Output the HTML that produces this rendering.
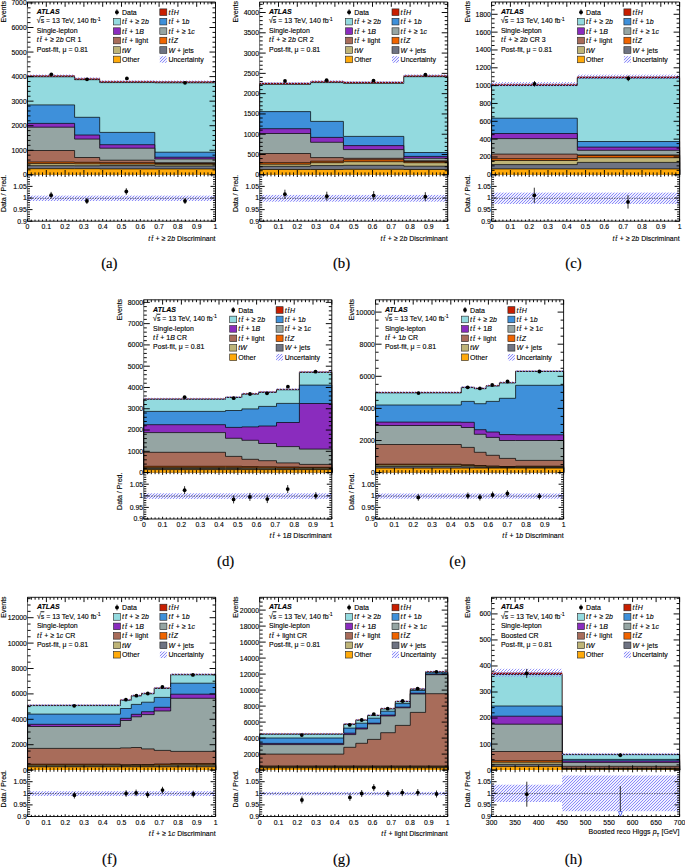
<!DOCTYPE html><html><head><meta charset="utf-8"><style>html,body{margin:0;padding:0;background:#fff;}svg{display:block;}text{font-family:"Liberation Sans",sans-serif;stroke:#000;stroke-width:0.12px;}</style></head><body>
<svg width="685" height="867" viewBox="0 0 685 867">
<defs><pattern id="hat" patternUnits="userSpaceOnUse" width="3" height="3"><rect width="3" height="3" fill="#F0F0FF"/><path d="M-0.75,0.75 L0.75,-0.75 M0,3 L3,0 M2.25,3.75 L3.75,2.25" stroke="#8C8CF8" stroke-width="1.0"/></pattern><pattern id="hat2" patternUnits="userSpaceOnUse" width="3" height="3"><path d="M-0.75,0.75 L0.75,-0.75 M0,3 L3,0 M2.25,3.75 L3.75,2.25" stroke="#8A8AF6" stroke-width="0.9"/></pattern></defs>
<rect width="685" height="867" fill="#fff"/>
<g><path d="M27.5,174.8 L27.5,75.5 L74.6,75.5 L74.6,78.4 L99.7,78.4 L99.7,81.3 L154.8,81.3 L154.8,81.5 L215.5,81.5 L215.5,174.8 Z" fill="#B01208"/><path d="M27.5,174.8 L27.5,75.5 L74.6,75.5 L74.6,78.4 L99.7,78.4 L99.7,81.3 L154.8,81.3 L154.8,81.5 L215.5,81.5 L215.5,174.8" fill="none" stroke="#500" stroke-width="0.4"/><path d="M27.5,174.8 L27.5,76.8 L74.6,76.8 L74.6,79.7 L99.7,79.7 L99.7,82.6 L154.8,82.6 L154.8,82.8 L215.5,82.8 L215.5,174.8 Z" fill="#93DADF"/><path d="M27.5,174.8 L27.5,76.8 L74.6,76.8 L74.6,79.7 L99.7,79.7 L99.7,82.6 L154.8,82.6 L154.8,82.8 L215.5,82.8 L215.5,174.8" fill="none" stroke="#000" stroke-width="0.7"/><path d="M27.5,174.8 L27.5,104.9 L74.6,104.9 L74.6,117.3 L99.7,117.3 L99.7,132.4 L154.8,132.4 L154.8,152.2 L215.5,152.2 L215.5,174.8 Z" fill="#3E90DA"/><path d="M27.5,174.8 L27.5,104.9 L74.6,104.9 L74.6,117.3 L99.7,117.3 L99.7,132.4 L154.8,132.4 L154.8,152.2 L215.5,152.2 L215.5,174.8" fill="none" stroke="#000" stroke-width="0.7"/><path d="M27.5,174.8 L27.5,123.4 L74.6,123.4 L74.6,135 L99.7,135 L99.7,144.7 L154.8,144.7 L154.8,157.2 L215.5,157.2 L215.5,174.8 Z" fill="#8A2CBE"/><path d="M27.5,174.8 L27.5,123.4 L74.6,123.4 L74.6,135 L99.7,135 L99.7,144.7 L154.8,144.7 L154.8,157.2 L215.5,157.2 L215.5,174.8" fill="none" stroke="#000" stroke-width="0.7"/><path d="M27.5,174.8 L27.5,127.2 L74.6,127.2 L74.6,139.1 L99.7,139.1 L99.7,148.2 L154.8,148.2 L154.8,159 L215.5,159 L215.5,174.8 Z" fill="#95A5A3"/><path d="M27.5,174.8 L27.5,127.2 L74.6,127.2 L74.6,139.1 L99.7,139.1 L99.7,148.2 L154.8,148.2 L154.8,159 L215.5,159 L215.5,174.8" fill="none" stroke="#000" stroke-width="0.7"/><path d="M27.5,174.8 L27.5,150.5 L74.6,150.5 L74.6,157.5 L99.7,157.5 L99.7,160.2 L154.8,160.2 L154.8,162.7 L215.5,162.7 L215.5,174.8 Z" fill="#A86C5A"/><path d="M27.5,174.8 L27.5,150.5 L74.6,150.5 L74.6,157.5 L99.7,157.5 L99.7,160.2 L154.8,160.2 L154.8,162.7 L215.5,162.7 L215.5,174.8" fill="none" stroke="#000" stroke-width="0.7"/><path d="M27.5,174.8 L27.5,162 L74.6,162 L74.6,162.3 L99.7,162.3 L99.7,162.7 L154.8,162.7 L154.8,163.5 L215.5,163.5 L215.5,174.8 Z" fill="#F06400"/><path d="M27.5,174.8 L27.5,162 L74.6,162 L74.6,162.3 L99.7,162.3 L99.7,162.7 L154.8,162.7 L154.8,163.5 L215.5,163.5 L215.5,174.8" fill="none" stroke="#000" stroke-width="0.7"/><path d="M27.5,174.8 L27.5,163.6 L74.6,163.6 L74.6,163.8 L99.7,163.8 L99.7,164 L154.8,164 L154.8,164.3 L215.5,164.3 L215.5,174.8 Z" fill="#BEB478"/><path d="M27.5,174.8 L27.5,163.6 L74.6,163.6 L74.6,163.8 L99.7,163.8 L99.7,164 L154.8,164 L154.8,164.3 L215.5,164.3 L215.5,174.8" fill="none" stroke="#000" stroke-width="0.7"/><path d="M27.5,174.8 L27.5,165.7 L74.6,165.7 L74.6,165.8 L99.7,165.8 L99.7,165.6 L154.8,165.6 L154.8,166 L215.5,166 L215.5,174.8 Z" fill="#6E7382"/><path d="M27.5,174.8 L27.5,165.7 L74.6,165.7 L74.6,165.8 L99.7,165.8 L99.7,165.6 L154.8,165.6 L154.8,166 L215.5,166 L215.5,174.8" fill="none" stroke="#000" stroke-width="0.7"/><path d="M27.5,174.8 L27.5,168.7 L74.6,168.7 L74.6,168.7 L99.7,168.7 L99.7,168.9 L154.8,168.9 L154.8,168.9 L215.5,168.9 L215.5,174.8 Z" fill="#FFAA0A"/><path d="M27.5,174.8 L27.5,168.7 L74.6,168.7 L74.6,168.7 L99.7,168.7 L99.7,168.9 L154.8,168.9 L154.8,168.9 L215.5,168.9 L215.5,174.8" fill="none" stroke="#000" stroke-width="0.7"/><rect x="27.5" y="74.5" width="47.1" height="2" fill="url(#hat2)"/><rect x="74.6" y="77.4" width="25.1" height="2" fill="url(#hat2)"/><rect x="99.7" y="80.3" width="55.1" height="2" fill="url(#hat2)"/><rect x="154.8" y="80.5" width="60.7" height="2" fill="url(#hat2)"/><circle cx="51.3" cy="74.3" r="1.9" fill="#000"/><circle cx="87" cy="79.3" r="1.9" fill="#000"/><circle cx="126.9" cy="78.4" r="1.9" fill="#000"/><circle cx="185" cy="82.8" r="1.9" fill="#000"/><rect x="27.5" y="195.6" width="47.1" height="5.4" fill="url(#hat)"/><rect x="74.6" y="195.6" width="25.1" height="5.4" fill="url(#hat)"/><rect x="99.7" y="195.6" width="55.1" height="5.4" fill="url(#hat)"/><rect x="154.8" y="195.6" width="60.7" height="5.4" fill="url(#hat)"/><line x1="27.5" y1="198.3" x2="215.5" y2="198.3" stroke="#000" stroke-width="0.6" stroke-dasharray="1.3,1.2"/><line x1="51.1" y1="191.9" x2="51.1" y2="198.5" stroke="#000" stroke-width="0.8"/><circle cx="51.1" cy="195.2" r="1.9" fill="#000"/><line x1="86.9" y1="198" x2="86.9" y2="204" stroke="#000" stroke-width="0.8"/><circle cx="86.9" cy="201" r="1.9" fill="#000"/><line x1="126.3" y1="188.2" x2="126.3" y2="194.8" stroke="#000" stroke-width="0.8"/><circle cx="126.3" cy="191.5" r="1.9" fill="#000"/><line x1="185" y1="198" x2="185" y2="204" stroke="#000" stroke-width="0.8"/><circle cx="185" cy="201" r="1.9" fill="#000"/><path d="M27.2,2 L215.5,2 L215.5,174.8" fill="none" stroke="#000" stroke-width="0.9"/><path d="M27.2,221.2 L215.5,221.2 L215.5,174.8" fill="none" stroke="#000" stroke-width="0.9"/><path d="M27.4,2 L27.4,221.2" fill="none" stroke="#000" stroke-width="0.55"/><text x="0" y="0" font-size="6.9" text-anchor="end" transform="translate(26.8 177.25) scale(1 1.1)" >0</text><text x="0" y="0" font-size="6.9" text-anchor="end" transform="translate(26.8 152.7) scale(1 1.1)" >1000</text><text x="0" y="0" font-size="6.9" text-anchor="end" transform="translate(26.8 128.15) scale(1 1.1)" >2000</text><text x="0" y="0" font-size="6.9" text-anchor="end" transform="translate(26.8 103.6) scale(1 1.1)" >3000</text><text x="0" y="0" font-size="6.9" text-anchor="end" transform="translate(26.8 79.05) scale(1 1.1)" >4000</text><text x="0" y="0" font-size="6.9" text-anchor="end" transform="translate(26.8 54.5) scale(1 1.1)" >5000</text><text x="0" y="0" font-size="6.9" text-anchor="end" transform="translate(26.8 29.95) scale(1 1.1)" >6000</text><text x="0" y="0" font-size="6.9" text-anchor="end" transform="translate(26.8 5.4) scale(1 1.1)" >7000</text><text x="0" y="0" font-size="6.9" text-anchor="middle" transform="translate(27.5 229.2) scale(1 1.1)" >0</text><text x="0" y="0" font-size="6.9" text-anchor="middle" transform="translate(46.3 229.2) scale(1 1.1)" >0.1</text><text x="0" y="0" font-size="6.9" text-anchor="middle" transform="translate(65.1 229.2) scale(1 1.1)" >0.2</text><text x="0" y="0" font-size="6.9" text-anchor="middle" transform="translate(83.9 229.2) scale(1 1.1)" >0.3</text><text x="0" y="0" font-size="6.9" text-anchor="middle" transform="translate(102.7 229.2) scale(1 1.1)" >0.4</text><text x="0" y="0" font-size="6.9" text-anchor="middle" transform="translate(121.5 229.2) scale(1 1.1)" >0.5</text><text x="0" y="0" font-size="6.9" text-anchor="middle" transform="translate(140.3 229.2) scale(1 1.1)" >0.6</text><text x="0" y="0" font-size="6.9" text-anchor="middle" transform="translate(159.1 229.2) scale(1 1.1)" >0.7</text><text x="0" y="0" font-size="6.9" text-anchor="middle" transform="translate(177.9 229.2) scale(1 1.1)" >0.8</text><text x="0" y="0" font-size="6.9" text-anchor="middle" transform="translate(196.7 229.2) scale(1 1.1)" >0.9</text><text x="0" y="0" font-size="6.9" text-anchor="middle" transform="translate(215.5 229.2) scale(1 1.1)" >1</text><text x="0" y="0" font-size="6.9" text-anchor="end" transform="translate(26.8 223.65) scale(1 1.1)" >0.9</text><text x="0" y="0" font-size="6.9" text-anchor="end" transform="translate(26.8 212.05) scale(1 1.1)" >0.95</text><text x="0" y="0" font-size="6.9" text-anchor="end" transform="translate(26.8 200.45) scale(1 1.1)" >1</text><text x="0" y="0" font-size="6.9" text-anchor="end" transform="translate(26.8 188.85) scale(1 1.1)" >1.05</text><path d="M27.5,174.8 h6 M215.5,174.8 h-6 M27.5,169.89 h3 M215.5,169.89 h-3 M27.5,164.98 h3 M215.5,164.98 h-3 M27.5,160.07 h3 M215.5,160.07 h-3 M27.5,155.16 h3 M215.5,155.16 h-3 M27.5,150.25 h6 M215.5,150.25 h-6 M27.5,145.34 h3 M215.5,145.34 h-3 M27.5,140.43 h3 M215.5,140.43 h-3 M27.5,135.52 h3 M215.5,135.52 h-3 M27.5,130.61 h3 M215.5,130.61 h-3 M27.5,125.7 h6 M215.5,125.7 h-6 M27.5,120.79 h3 M215.5,120.79 h-3 M27.5,115.88 h3 M215.5,115.88 h-3 M27.5,110.97 h3 M215.5,110.97 h-3 M27.5,106.06 h3 M215.5,106.06 h-3 M27.5,101.15 h6 M215.5,101.15 h-6 M27.5,96.24 h3 M215.5,96.24 h-3 M27.5,91.33 h3 M215.5,91.33 h-3 M27.5,86.42 h3 M215.5,86.42 h-3 M27.5,81.51 h3 M215.5,81.51 h-3 M27.5,76.6 h6 M215.5,76.6 h-6 M27.5,71.69 h3 M215.5,71.69 h-3 M27.5,66.78 h3 M215.5,66.78 h-3 M27.5,61.87 h3 M215.5,61.87 h-3 M27.5,56.96 h3 M215.5,56.96 h-3 M27.5,52.05 h6 M215.5,52.05 h-6 M27.5,47.14 h3 M215.5,47.14 h-3 M27.5,42.23 h3 M215.5,42.23 h-3 M27.5,37.32 h3 M215.5,37.32 h-3 M27.5,32.41 h3 M215.5,32.41 h-3 M27.5,27.5 h6 M215.5,27.5 h-6 M27.5,22.59 h3 M215.5,22.59 h-3 M27.5,17.68 h3 M215.5,17.68 h-3 M27.5,12.77 h3 M215.5,12.77 h-3 M27.5,7.86 h3 M215.5,7.86 h-3 M27.5,2.95 h6 M215.5,2.95 h-6 M27.5,2 v4.8 M27.5,174.8 v-4.8 M27.5,174.8 v2.2 M27.5,221.2 v-2.2 M31.26,2 v2.4 M31.26,174.8 v-2.4 M31.26,174.8 v1.6 M31.26,221.2 v-1.6 M35.02,2 v2.4 M35.02,174.8 v-2.4 M35.02,174.8 v1.6 M35.02,221.2 v-1.6 M38.78,2 v2.4 M38.78,174.8 v-2.4 M38.78,174.8 v1.6 M38.78,221.2 v-1.6 M42.54,2 v2.4 M42.54,174.8 v-2.4 M42.54,174.8 v1.6 M42.54,221.2 v-1.6 M46.3,2 v4.8 M46.3,174.8 v-4.8 M46.3,174.8 v2.2 M46.3,221.2 v-2.2 M50.06,2 v2.4 M50.06,174.8 v-2.4 M50.06,174.8 v1.6 M50.06,221.2 v-1.6 M53.82,2 v2.4 M53.82,174.8 v-2.4 M53.82,174.8 v1.6 M53.82,221.2 v-1.6 M57.58,2 v2.4 M57.58,174.8 v-2.4 M57.58,174.8 v1.6 M57.58,221.2 v-1.6 M61.34,2 v2.4 M61.34,174.8 v-2.4 M61.34,174.8 v1.6 M61.34,221.2 v-1.6 M65.1,2 v4.8 M65.1,174.8 v-4.8 M65.1,174.8 v2.2 M65.1,221.2 v-2.2 M68.86,2 v2.4 M68.86,174.8 v-2.4 M68.86,174.8 v1.6 M68.86,221.2 v-1.6 M72.62,2 v2.4 M72.62,174.8 v-2.4 M72.62,174.8 v1.6 M72.62,221.2 v-1.6 M76.38,2 v2.4 M76.38,174.8 v-2.4 M76.38,174.8 v1.6 M76.38,221.2 v-1.6 M80.14,2 v2.4 M80.14,174.8 v-2.4 M80.14,174.8 v1.6 M80.14,221.2 v-1.6 M83.9,2 v4.8 M83.9,174.8 v-4.8 M83.9,174.8 v2.2 M83.9,221.2 v-2.2 M87.66,2 v2.4 M87.66,174.8 v-2.4 M87.66,174.8 v1.6 M87.66,221.2 v-1.6 M91.42,2 v2.4 M91.42,174.8 v-2.4 M91.42,174.8 v1.6 M91.42,221.2 v-1.6 M95.18,2 v2.4 M95.18,174.8 v-2.4 M95.18,174.8 v1.6 M95.18,221.2 v-1.6 M98.94,2 v2.4 M98.94,174.8 v-2.4 M98.94,174.8 v1.6 M98.94,221.2 v-1.6 M102.7,2 v4.8 M102.7,174.8 v-4.8 M102.7,174.8 v2.2 M102.7,221.2 v-2.2 M106.46,2 v2.4 M106.46,174.8 v-2.4 M106.46,174.8 v1.6 M106.46,221.2 v-1.6 M110.22,2 v2.4 M110.22,174.8 v-2.4 M110.22,174.8 v1.6 M110.22,221.2 v-1.6 M113.98,2 v2.4 M113.98,174.8 v-2.4 M113.98,174.8 v1.6 M113.98,221.2 v-1.6 M117.74,2 v2.4 M117.74,174.8 v-2.4 M117.74,174.8 v1.6 M117.74,221.2 v-1.6 M121.5,2 v4.8 M121.5,174.8 v-4.8 M121.5,174.8 v2.2 M121.5,221.2 v-2.2 M125.26,2 v2.4 M125.26,174.8 v-2.4 M125.26,174.8 v1.6 M125.26,221.2 v-1.6 M129.02,2 v2.4 M129.02,174.8 v-2.4 M129.02,174.8 v1.6 M129.02,221.2 v-1.6 M132.78,2 v2.4 M132.78,174.8 v-2.4 M132.78,174.8 v1.6 M132.78,221.2 v-1.6 M136.54,2 v2.4 M136.54,174.8 v-2.4 M136.54,174.8 v1.6 M136.54,221.2 v-1.6 M140.3,2 v4.8 M140.3,174.8 v-4.8 M140.3,174.8 v2.2 M140.3,221.2 v-2.2 M144.06,2 v2.4 M144.06,174.8 v-2.4 M144.06,174.8 v1.6 M144.06,221.2 v-1.6 M147.82,2 v2.4 M147.82,174.8 v-2.4 M147.82,174.8 v1.6 M147.82,221.2 v-1.6 M151.58,2 v2.4 M151.58,174.8 v-2.4 M151.58,174.8 v1.6 M151.58,221.2 v-1.6 M155.34,2 v2.4 M155.34,174.8 v-2.4 M155.34,174.8 v1.6 M155.34,221.2 v-1.6 M159.1,2 v4.8 M159.1,174.8 v-4.8 M159.1,174.8 v2.2 M159.1,221.2 v-2.2 M162.86,2 v2.4 M162.86,174.8 v-2.4 M162.86,174.8 v1.6 M162.86,221.2 v-1.6 M166.62,2 v2.4 M166.62,174.8 v-2.4 M166.62,174.8 v1.6 M166.62,221.2 v-1.6 M170.38,2 v2.4 M170.38,174.8 v-2.4 M170.38,174.8 v1.6 M170.38,221.2 v-1.6 M174.14,2 v2.4 M174.14,174.8 v-2.4 M174.14,174.8 v1.6 M174.14,221.2 v-1.6 M177.9,2 v4.8 M177.9,174.8 v-4.8 M177.9,174.8 v2.2 M177.9,221.2 v-2.2 M181.66,2 v2.4 M181.66,174.8 v-2.4 M181.66,174.8 v1.6 M181.66,221.2 v-1.6 M185.42,2 v2.4 M185.42,174.8 v-2.4 M185.42,174.8 v1.6 M185.42,221.2 v-1.6 M189.18,2 v2.4 M189.18,174.8 v-2.4 M189.18,174.8 v1.6 M189.18,221.2 v-1.6 M192.94,2 v2.4 M192.94,174.8 v-2.4 M192.94,174.8 v1.6 M192.94,221.2 v-1.6 M196.7,2 v4.8 M196.7,174.8 v-4.8 M196.7,174.8 v2.2 M196.7,221.2 v-2.2 M200.46,2 v2.4 M200.46,174.8 v-2.4 M200.46,174.8 v1.6 M200.46,221.2 v-1.6 M204.22,2 v2.4 M204.22,174.8 v-2.4 M204.22,174.8 v1.6 M204.22,221.2 v-1.6 M207.98,2 v2.4 M207.98,174.8 v-2.4 M207.98,174.8 v1.6 M207.98,221.2 v-1.6 M211.74,2 v2.4 M211.74,174.8 v-2.4 M211.74,174.8 v1.6 M211.74,221.2 v-1.6 M215.5,2 v4.8 M215.5,174.8 v-4.8 M215.5,174.8 v2.2 M215.5,221.2 v-2.2 M27.5,221.2 h5 M215.5,221.2 h-5 M27.5,218.88 h2.5 M215.5,218.88 h-2.5 M27.5,216.56 h2.5 M215.5,216.56 h-2.5 M27.5,214.24 h2.5 M215.5,214.24 h-2.5 M27.5,211.92 h2.5 M215.5,211.92 h-2.5 M27.5,209.6 h5 M215.5,209.6 h-5 M27.5,207.28 h2.5 M215.5,207.28 h-2.5 M27.5,204.96 h2.5 M215.5,204.96 h-2.5 M27.5,202.64 h2.5 M215.5,202.64 h-2.5 M27.5,200.32 h2.5 M215.5,200.32 h-2.5 M27.5,198 h5 M215.5,198 h-5 M27.5,195.68 h2.5 M215.5,195.68 h-2.5 M27.5,193.36 h2.5 M215.5,193.36 h-2.5 M27.5,191.04 h2.5 M215.5,191.04 h-2.5 M27.5,188.72 h2.5 M215.5,188.72 h-2.5 M27.5,186.4 h5 M215.5,186.4 h-5 M27.5,184.08 h2.5 M215.5,184.08 h-2.5 M27.5,181.76 h2.5 M215.5,181.76 h-2.5 M27.5,179.44 h2.5 M215.5,179.44 h-2.5 M27.5,177.12 h2.5 M215.5,177.12 h-2.5 M27.5,174.8 h5 M215.5,174.8 h-5" stroke="#000" stroke-width="0.95" fill="none"/><text x="0" y="0" font-size="7" text-anchor="end" transform="translate(5.7 1.1) rotate(-90) scale(1 1.1)" >Events</text><text x="0" y="0" font-size="7" text-anchor="end" transform="translate(5.7 174.8) rotate(-90) scale(1 1.1)" >Data / Pred.</text><text x="0" y="0" font-size="7" text-anchor="end" transform="translate(215.5 240.6) scale(1 1.1)" ><tspan font-style="italic">t</tspan><tspan font-style="italic" dx="0.9">t&#x304;</tspan><tspan dx="0.5"> </tspan>+ ≥ 2<tspan font-style="italic">b</tspan> Discriminant</text><text x="0" y="0" font-size="7" text-anchor="start" transform="translate(36.8 14) scale(1 1.1)" ><tspan font-weight="bold" font-style="italic">ATLAS</tspan></text><text x="0" y="0" font-size="7" text-anchor="start" transform="translate(36.8 23.4) scale(1 1.1)" >√<tspan text-decoration="overline">s</tspan> = 13 TeV, 140 fb<tspan font-size="4.6" dy="-2.6">-1</tspan></text><text x="0" y="0" font-size="7" text-anchor="start" transform="translate(36.8 32.8) scale(1 1.1)" >Single-lepton</text><text x="0" y="0" font-size="7" text-anchor="start" transform="translate(36.8 42.2) scale(1 1.1)" ><tspan font-style="italic">t</tspan><tspan font-style="italic" dx="0.9">t&#x304;</tspan><tspan dx="0.5"> </tspan>+ ≥ 2<tspan font-style="italic">b</tspan> CR 1</text><text x="0" y="0" font-size="7" text-anchor="start" transform="translate(36.8 51.6) scale(1 1.1)" >Post-fit, μ = 0.81</text><circle cx="116.9" cy="12.2" r="1.9" fill="#000"/><line x1="116.9" y1="9.2" x2="116.9" y2="15.2" stroke="#000" stroke-width="0.7"/><text x="0" y="0" font-size="7" text-anchor="start" transform="translate(122 14.7) scale(1 1.1)" >Data</text><rect x="159.8" y="8.9" width="7" height="6.6" fill="#C81E00" stroke="#222" stroke-width="0.6"/><text x="0" y="0" font-size="7" text-anchor="start" transform="translate(168.4 14.7) scale(1 1.1)" ><tspan font-style="italic">t</tspan><tspan font-style="italic" dx="0.9">t&#x304;</tspan><tspan font-style="italic" dx="0.5">H</tspan></text><rect x="113.4" y="18.35" width="7" height="6.6" fill="#93DADF" stroke="#222" stroke-width="0.6"/><text x="0" y="0" font-size="7" text-anchor="start" transform="translate(122 24.15) scale(1 1.1)" ><tspan font-style="italic">t</tspan><tspan font-style="italic" dx="0.9">t&#x304;</tspan><tspan dx="0.5"> </tspan>+ ≥ 2<tspan font-style="italic">b</tspan></text><rect x="159.8" y="18.35" width="7" height="6.6" fill="#3E90DA" stroke="#222" stroke-width="0.6"/><text x="0" y="0" font-size="7" text-anchor="start" transform="translate(168.4 24.15) scale(1 1.1)" ><tspan font-style="italic">t</tspan><tspan font-style="italic" dx="0.9">t&#x304;</tspan><tspan dx="0.5"> </tspan>+ 1<tspan font-style="italic">b</tspan></text><rect x="113.4" y="27.8" width="7" height="6.6" fill="#8A2CBE" stroke="#222" stroke-width="0.6"/><text x="0" y="0" font-size="7" text-anchor="start" transform="translate(122 33.6) scale(1 1.1)" ><tspan font-style="italic">t</tspan><tspan font-style="italic" dx="0.9">t&#x304;</tspan><tspan dx="0.5"> </tspan>+ 1<tspan font-style="italic">B</tspan></text><rect x="159.8" y="27.8" width="7" height="6.6" fill="#95A5A3" stroke="#222" stroke-width="0.6"/><text x="0" y="0" font-size="7" text-anchor="start" transform="translate(168.4 33.6) scale(1 1.1)" ><tspan font-style="italic">t</tspan><tspan font-style="italic" dx="0.9">t&#x304;</tspan><tspan dx="0.5"> </tspan>+ ≥ 1<tspan font-style="italic">c</tspan></text><rect x="113.4" y="37.25" width="7" height="6.6" fill="#A86C5A" stroke="#222" stroke-width="0.6"/><text x="0" y="0" font-size="7" text-anchor="start" transform="translate(122 43.05) scale(1 1.1)" ><tspan font-style="italic">t</tspan><tspan font-style="italic" dx="0.9">t&#x304;</tspan><tspan dx="0.5"> </tspan>+ light</text><rect x="159.8" y="37.25" width="7" height="6.6" fill="#F06400" stroke="#222" stroke-width="0.6"/><text x="0" y="0" font-size="7" text-anchor="start" transform="translate(168.4 43.05) scale(1 1.1)" ><tspan font-style="italic">t</tspan><tspan font-style="italic" dx="0.9">t&#x304;</tspan><tspan font-style="italic" dx="0.5">Z</tspan></text><rect x="113.4" y="46.7" width="7" height="6.6" fill="#BEB478" stroke="#222" stroke-width="0.6"/><text x="0" y="0" font-size="7" text-anchor="start" transform="translate(122 52.5) scale(1 1.1)" ><tspan font-style="italic">tW</tspan></text><rect x="159.8" y="46.7" width="7" height="6.6" fill="#6E7382" stroke="#222" stroke-width="0.6"/><text x="0" y="0" font-size="7" text-anchor="start" transform="translate(168.4 52.5) scale(1 1.1)" ><tspan font-style="italic">W</tspan> + jets</text><rect x="113.4" y="56.15" width="7" height="6.6" fill="#FFAA0A" stroke="#222" stroke-width="0.6"/><text x="0" y="0" font-size="7" text-anchor="start" transform="translate(122 61.95) scale(1 1.1)" >Other</text><rect x="159.8" y="56.15" width="7" height="6.6" fill="url(#hat)"/><text x="0" y="0" font-size="7" text-anchor="start" transform="translate(168.4 61.95) scale(1 1.1)" >Uncertainty</text><text x="109.35" y="268.4" font-size="14.8" text-anchor="middle" style="font-family:'Liberation Serif',serif;stroke-width:0.15px">(a)</text></g>
<g><path d="M259.7,174.8 L259.7,83 L310.6,83 L310.6,81.3 L343.4,81.3 L343.4,82 L403.8,82 L403.8,75.4 L447.7,75.4 L447.7,174.8 Z" fill="#B01208"/><path d="M259.7,174.8 L259.7,83 L310.6,83 L310.6,81.3 L343.4,81.3 L343.4,82 L403.8,82 L403.8,75.4 L447.7,75.4 L447.7,174.8" fill="none" stroke="#500" stroke-width="0.4"/><path d="M259.7,174.8 L259.7,84.3 L310.6,84.3 L310.6,82.6 L343.4,82.6 L343.4,83.3 L403.8,83.3 L403.8,76.7 L447.7,76.7 L447.7,174.8 Z" fill="#93DADF"/><path d="M259.7,174.8 L259.7,84.3 L310.6,84.3 L310.6,82.6 L343.4,82.6 L343.4,83.3 L403.8,83.3 L403.8,76.7 L447.7,76.7 L447.7,174.8" fill="none" stroke="#000" stroke-width="0.7"/><path d="M259.7,174.8 L259.7,111.6 L310.6,111.6 L310.6,121.4 L343.4,121.4 L343.4,136.4 L403.8,136.4 L403.8,152.5 L447.7,152.5 L447.7,174.8 Z" fill="#3E90DA"/><path d="M259.7,174.8 L259.7,111.6 L310.6,111.6 L310.6,121.4 L343.4,121.4 L343.4,136.4 L403.8,136.4 L403.8,152.5 L447.7,152.5 L447.7,174.8" fill="none" stroke="#000" stroke-width="0.7"/><path d="M259.7,174.8 L259.7,128.7 L310.6,128.7 L310.6,137.4 L343.4,137.4 L343.4,145.6 L403.8,145.6 L403.8,156.4 L447.7,156.4 L447.7,174.8 Z" fill="#8A2CBE"/><path d="M259.7,174.8 L259.7,128.7 L310.6,128.7 L310.6,137.4 L343.4,137.4 L343.4,145.6 L403.8,145.6 L403.8,156.4 L447.7,156.4 L447.7,174.8" fill="none" stroke="#000" stroke-width="0.7"/><path d="M259.7,174.8 L259.7,133.5 L310.6,133.5 L310.6,142.3 L343.4,142.3 L343.4,149.6 L403.8,149.6 L403.8,158.3 L447.7,158.3 L447.7,174.8 Z" fill="#95A5A3"/><path d="M259.7,174.8 L259.7,133.5 L310.6,133.5 L310.6,142.3 L343.4,142.3 L343.4,149.6 L403.8,149.6 L403.8,158.3 L447.7,158.3 L447.7,174.8" fill="none" stroke="#000" stroke-width="0.7"/><path d="M259.7,174.8 L259.7,153.5 L310.6,153.5 L310.6,157.6 L343.4,157.6 L343.4,158.3 L403.8,158.3 L403.8,160.8 L447.7,160.8 L447.7,174.8 Z" fill="#A86C5A"/><path d="M259.7,174.8 L259.7,153.5 L310.6,153.5 L310.6,157.6 L343.4,157.6 L343.4,158.3 L403.8,158.3 L403.8,160.8 L447.7,160.8 L447.7,174.8" fill="none" stroke="#000" stroke-width="0.7"/><path d="M259.7,174.8 L259.7,162.7 L310.6,162.7 L310.6,161.2 L343.4,161.2 L343.4,159.8 L403.8,159.8 L403.8,161.5 L447.7,161.5 L447.7,174.8 Z" fill="#F06400"/><path d="M259.7,174.8 L259.7,162.7 L310.6,162.7 L310.6,161.2 L343.4,161.2 L343.4,159.8 L403.8,159.8 L403.8,161.5 L447.7,161.5 L447.7,174.8" fill="none" stroke="#000" stroke-width="0.7"/><path d="M259.7,174.8 L259.7,164.2 L310.6,164.2 L310.6,162.7 L343.4,162.7 L343.4,161.7 L403.8,161.7 L403.8,162.7 L447.7,162.7 L447.7,174.8 Z" fill="#BEB478"/><path d="M259.7,174.8 L259.7,164.2 L310.6,164.2 L310.6,162.7 L343.4,162.7 L343.4,161.7 L403.8,161.7 L403.8,162.7 L447.7,162.7 L447.7,174.8" fill="none" stroke="#000" stroke-width="0.7"/><path d="M259.7,174.8 L259.7,166.3 L310.6,166.3 L310.6,165.6 L343.4,165.6 L343.4,165.3 L403.8,165.3 L403.8,166.2 L447.7,166.2 L447.7,174.8 Z" fill="#6E7382"/><path d="M259.7,174.8 L259.7,166.3 L310.6,166.3 L310.6,165.6 L343.4,165.6 L343.4,165.3 L403.8,165.3 L403.8,166.2 L447.7,166.2 L447.7,174.8" fill="none" stroke="#000" stroke-width="0.7"/><path d="M259.7,174.8 L259.7,169.5 L310.6,169.5 L310.6,169.5 L343.4,169.5 L343.4,169.3 L403.8,169.3 L403.8,169.5 L447.7,169.5 L447.7,174.8 Z" fill="#FFAA0A"/><path d="M259.7,174.8 L259.7,169.5 L310.6,169.5 L310.6,169.5 L343.4,169.5 L343.4,169.3 L403.8,169.3 L403.8,169.5 L447.7,169.5 L447.7,174.8" fill="none" stroke="#000" stroke-width="0.7"/><rect x="259.7" y="82" width="50.9" height="2" fill="url(#hat2)"/><rect x="310.6" y="80.3" width="32.8" height="2" fill="url(#hat2)"/><rect x="343.4" y="81" width="60.4" height="2" fill="url(#hat2)"/><rect x="403.8" y="74.4" width="43.9" height="2" fill="url(#hat2)"/><circle cx="285" cy="81" r="1.9" fill="#000"/><circle cx="326.6" cy="80.2" r="1.9" fill="#000"/><circle cx="373.5" cy="80.7" r="1.9" fill="#000"/><circle cx="425.4" cy="74.7" r="1.9" fill="#000"/><rect x="259.7" y="194.9" width="50.9" height="6.8" fill="url(#hat)"/><rect x="310.6" y="194.9" width="32.8" height="6.8" fill="url(#hat)"/><rect x="343.4" y="194.9" width="60.4" height="6.8" fill="url(#hat)"/><rect x="403.8" y="194.9" width="43.9" height="6.8" fill="url(#hat)"/><line x1="259.7" y1="198.3" x2="447.7" y2="198.3" stroke="#000" stroke-width="0.6" stroke-dasharray="1.3,1.2"/><line x1="284.9" y1="189.7" x2="284.9" y2="198.7" stroke="#000" stroke-width="0.8"/><circle cx="284.9" cy="194.2" r="1.9" fill="#000"/><line x1="326.8" y1="191.7" x2="326.8" y2="200.7" stroke="#000" stroke-width="0.8"/><circle cx="326.8" cy="196.2" r="1.9" fill="#000"/><line x1="373.7" y1="191.1" x2="373.7" y2="200.1" stroke="#000" stroke-width="0.8"/><circle cx="373.7" cy="195.6" r="1.9" fill="#000"/><line x1="425.3" y1="192.2" x2="425.3" y2="201.2" stroke="#000" stroke-width="0.8"/><circle cx="425.3" cy="196.7" r="1.9" fill="#000"/><path d="M259.4,2 L447.7,2 L447.7,174.8" fill="none" stroke="#000" stroke-width="0.9"/><path d="M259.4,221.2 L447.7,221.2 L447.7,174.8" fill="none" stroke="#000" stroke-width="0.9"/><path d="M259.6,2 L259.6,221.2" fill="none" stroke="#000" stroke-width="0.55"/><text x="0" y="0" font-size="6.9" text-anchor="end" transform="translate(259 177.25) scale(1 1.1)" >0</text><text x="0" y="0" font-size="6.9" text-anchor="end" transform="translate(259 156.96) scale(1 1.1)" >500</text><text x="0" y="0" font-size="6.9" text-anchor="end" transform="translate(259 136.68) scale(1 1.1)" >1000</text><text x="0" y="0" font-size="6.9" text-anchor="end" transform="translate(259 116.39) scale(1 1.1)" >1500</text><text x="0" y="0" font-size="6.9" text-anchor="end" transform="translate(259 96.1) scale(1 1.1)" >2000</text><text x="0" y="0" font-size="6.9" text-anchor="end" transform="translate(259 75.81) scale(1 1.1)" >2500</text><text x="0" y="0" font-size="6.9" text-anchor="end" transform="translate(259 55.53) scale(1 1.1)" >3000</text><text x="0" y="0" font-size="6.9" text-anchor="end" transform="translate(259 35.24) scale(1 1.1)" >3500</text><text x="0" y="0" font-size="6.9" text-anchor="end" transform="translate(259 14.95) scale(1 1.1)" >4000</text><text x="0" y="0" font-size="6.9" text-anchor="middle" transform="translate(259.7 229.2) scale(1 1.1)" >0</text><text x="0" y="0" font-size="6.9" text-anchor="middle" transform="translate(278.5 229.2) scale(1 1.1)" >0.1</text><text x="0" y="0" font-size="6.9" text-anchor="middle" transform="translate(297.3 229.2) scale(1 1.1)" >0.2</text><text x="0" y="0" font-size="6.9" text-anchor="middle" transform="translate(316.1 229.2) scale(1 1.1)" >0.3</text><text x="0" y="0" font-size="6.9" text-anchor="middle" transform="translate(334.9 229.2) scale(1 1.1)" >0.4</text><text x="0" y="0" font-size="6.9" text-anchor="middle" transform="translate(353.7 229.2) scale(1 1.1)" >0.5</text><text x="0" y="0" font-size="6.9" text-anchor="middle" transform="translate(372.5 229.2) scale(1 1.1)" >0.6</text><text x="0" y="0" font-size="6.9" text-anchor="middle" transform="translate(391.3 229.2) scale(1 1.1)" >0.7</text><text x="0" y="0" font-size="6.9" text-anchor="middle" transform="translate(410.1 229.2) scale(1 1.1)" >0.8</text><text x="0" y="0" font-size="6.9" text-anchor="middle" transform="translate(428.9 229.2) scale(1 1.1)" >0.9</text><text x="0" y="0" font-size="6.9" text-anchor="middle" transform="translate(447.7 229.2) scale(1 1.1)" >1</text><text x="0" y="0" font-size="6.9" text-anchor="end" transform="translate(259 223.65) scale(1 1.1)" >0.9</text><text x="0" y="0" font-size="6.9" text-anchor="end" transform="translate(259 212.05) scale(1 1.1)" >0.95</text><text x="0" y="0" font-size="6.9" text-anchor="end" transform="translate(259 200.45) scale(1 1.1)" >1</text><text x="0" y="0" font-size="6.9" text-anchor="end" transform="translate(259 188.85) scale(1 1.1)" >1.05</text><path d="M259.7,174.8 h6 M447.7,174.8 h-6 M259.7,170.74 h3 M447.7,170.74 h-3 M259.7,166.69 h3 M447.7,166.69 h-3 M259.7,162.63 h3 M447.7,162.63 h-3 M259.7,158.57 h3 M447.7,158.57 h-3 M259.7,154.51 h6 M447.7,154.51 h-6 M259.7,150.46 h3 M447.7,150.46 h-3 M259.7,146.4 h3 M447.7,146.4 h-3 M259.7,142.34 h3 M447.7,142.34 h-3 M259.7,138.28 h3 M447.7,138.28 h-3 M259.7,134.23 h6 M447.7,134.23 h-6 M259.7,130.17 h3 M447.7,130.17 h-3 M259.7,126.11 h3 M447.7,126.11 h-3 M259.7,122.05 h3 M447.7,122.05 h-3 M259.7,118 h3 M447.7,118 h-3 M259.7,113.94 h6 M447.7,113.94 h-6 M259.7,109.88 h3 M447.7,109.88 h-3 M259.7,105.82 h3 M447.7,105.82 h-3 M259.7,101.77 h3 M447.7,101.77 h-3 M259.7,97.71 h3 M447.7,97.71 h-3 M259.7,93.65 h6 M447.7,93.65 h-6 M259.7,89.59 h3 M447.7,89.59 h-3 M259.7,85.54 h3 M447.7,85.54 h-3 M259.7,81.48 h3 M447.7,81.48 h-3 M259.7,77.42 h3 M447.7,77.42 h-3 M259.7,73.36 h6 M447.7,73.36 h-6 M259.7,69.31 h3 M447.7,69.31 h-3 M259.7,65.25 h3 M447.7,65.25 h-3 M259.7,61.19 h3 M447.7,61.19 h-3 M259.7,57.13 h3 M447.7,57.13 h-3 M259.7,53.08 h6 M447.7,53.08 h-6 M259.7,49.02 h3 M447.7,49.02 h-3 M259.7,44.96 h3 M447.7,44.96 h-3 M259.7,40.9 h3 M447.7,40.9 h-3 M259.7,36.84 h3 M447.7,36.84 h-3 M259.7,32.79 h6 M447.7,32.79 h-6 M259.7,28.73 h3 M447.7,28.73 h-3 M259.7,24.67 h3 M447.7,24.67 h-3 M259.7,20.62 h3 M447.7,20.62 h-3 M259.7,16.56 h3 M447.7,16.56 h-3 M259.7,12.5 h6 M447.7,12.5 h-6 M259.7,8.44 h3 M447.7,8.44 h-3 M259.7,4.39 h3 M447.7,4.39 h-3 M259.7,2 v4.8 M259.7,174.8 v-4.8 M259.7,174.8 v2.2 M259.7,221.2 v-2.2 M263.46,2 v2.4 M263.46,174.8 v-2.4 M263.46,174.8 v1.6 M263.46,221.2 v-1.6 M267.22,2 v2.4 M267.22,174.8 v-2.4 M267.22,174.8 v1.6 M267.22,221.2 v-1.6 M270.98,2 v2.4 M270.98,174.8 v-2.4 M270.98,174.8 v1.6 M270.98,221.2 v-1.6 M274.74,2 v2.4 M274.74,174.8 v-2.4 M274.74,174.8 v1.6 M274.74,221.2 v-1.6 M278.5,2 v4.8 M278.5,174.8 v-4.8 M278.5,174.8 v2.2 M278.5,221.2 v-2.2 M282.26,2 v2.4 M282.26,174.8 v-2.4 M282.26,174.8 v1.6 M282.26,221.2 v-1.6 M286.02,2 v2.4 M286.02,174.8 v-2.4 M286.02,174.8 v1.6 M286.02,221.2 v-1.6 M289.78,2 v2.4 M289.78,174.8 v-2.4 M289.78,174.8 v1.6 M289.78,221.2 v-1.6 M293.54,2 v2.4 M293.54,174.8 v-2.4 M293.54,174.8 v1.6 M293.54,221.2 v-1.6 M297.3,2 v4.8 M297.3,174.8 v-4.8 M297.3,174.8 v2.2 M297.3,221.2 v-2.2 M301.06,2 v2.4 M301.06,174.8 v-2.4 M301.06,174.8 v1.6 M301.06,221.2 v-1.6 M304.82,2 v2.4 M304.82,174.8 v-2.4 M304.82,174.8 v1.6 M304.82,221.2 v-1.6 M308.58,2 v2.4 M308.58,174.8 v-2.4 M308.58,174.8 v1.6 M308.58,221.2 v-1.6 M312.34,2 v2.4 M312.34,174.8 v-2.4 M312.34,174.8 v1.6 M312.34,221.2 v-1.6 M316.1,2 v4.8 M316.1,174.8 v-4.8 M316.1,174.8 v2.2 M316.1,221.2 v-2.2 M319.86,2 v2.4 M319.86,174.8 v-2.4 M319.86,174.8 v1.6 M319.86,221.2 v-1.6 M323.62,2 v2.4 M323.62,174.8 v-2.4 M323.62,174.8 v1.6 M323.62,221.2 v-1.6 M327.38,2 v2.4 M327.38,174.8 v-2.4 M327.38,174.8 v1.6 M327.38,221.2 v-1.6 M331.14,2 v2.4 M331.14,174.8 v-2.4 M331.14,174.8 v1.6 M331.14,221.2 v-1.6 M334.9,2 v4.8 M334.9,174.8 v-4.8 M334.9,174.8 v2.2 M334.9,221.2 v-2.2 M338.66,2 v2.4 M338.66,174.8 v-2.4 M338.66,174.8 v1.6 M338.66,221.2 v-1.6 M342.42,2 v2.4 M342.42,174.8 v-2.4 M342.42,174.8 v1.6 M342.42,221.2 v-1.6 M346.18,2 v2.4 M346.18,174.8 v-2.4 M346.18,174.8 v1.6 M346.18,221.2 v-1.6 M349.94,2 v2.4 M349.94,174.8 v-2.4 M349.94,174.8 v1.6 M349.94,221.2 v-1.6 M353.7,2 v4.8 M353.7,174.8 v-4.8 M353.7,174.8 v2.2 M353.7,221.2 v-2.2 M357.46,2 v2.4 M357.46,174.8 v-2.4 M357.46,174.8 v1.6 M357.46,221.2 v-1.6 M361.22,2 v2.4 M361.22,174.8 v-2.4 M361.22,174.8 v1.6 M361.22,221.2 v-1.6 M364.98,2 v2.4 M364.98,174.8 v-2.4 M364.98,174.8 v1.6 M364.98,221.2 v-1.6 M368.74,2 v2.4 M368.74,174.8 v-2.4 M368.74,174.8 v1.6 M368.74,221.2 v-1.6 M372.5,2 v4.8 M372.5,174.8 v-4.8 M372.5,174.8 v2.2 M372.5,221.2 v-2.2 M376.26,2 v2.4 M376.26,174.8 v-2.4 M376.26,174.8 v1.6 M376.26,221.2 v-1.6 M380.02,2 v2.4 M380.02,174.8 v-2.4 M380.02,174.8 v1.6 M380.02,221.2 v-1.6 M383.78,2 v2.4 M383.78,174.8 v-2.4 M383.78,174.8 v1.6 M383.78,221.2 v-1.6 M387.54,2 v2.4 M387.54,174.8 v-2.4 M387.54,174.8 v1.6 M387.54,221.2 v-1.6 M391.3,2 v4.8 M391.3,174.8 v-4.8 M391.3,174.8 v2.2 M391.3,221.2 v-2.2 M395.06,2 v2.4 M395.06,174.8 v-2.4 M395.06,174.8 v1.6 M395.06,221.2 v-1.6 M398.82,2 v2.4 M398.82,174.8 v-2.4 M398.82,174.8 v1.6 M398.82,221.2 v-1.6 M402.58,2 v2.4 M402.58,174.8 v-2.4 M402.58,174.8 v1.6 M402.58,221.2 v-1.6 M406.34,2 v2.4 M406.34,174.8 v-2.4 M406.34,174.8 v1.6 M406.34,221.2 v-1.6 M410.1,2 v4.8 M410.1,174.8 v-4.8 M410.1,174.8 v2.2 M410.1,221.2 v-2.2 M413.86,2 v2.4 M413.86,174.8 v-2.4 M413.86,174.8 v1.6 M413.86,221.2 v-1.6 M417.62,2 v2.4 M417.62,174.8 v-2.4 M417.62,174.8 v1.6 M417.62,221.2 v-1.6 M421.38,2 v2.4 M421.38,174.8 v-2.4 M421.38,174.8 v1.6 M421.38,221.2 v-1.6 M425.14,2 v2.4 M425.14,174.8 v-2.4 M425.14,174.8 v1.6 M425.14,221.2 v-1.6 M428.9,2 v4.8 M428.9,174.8 v-4.8 M428.9,174.8 v2.2 M428.9,221.2 v-2.2 M432.66,2 v2.4 M432.66,174.8 v-2.4 M432.66,174.8 v1.6 M432.66,221.2 v-1.6 M436.42,2 v2.4 M436.42,174.8 v-2.4 M436.42,174.8 v1.6 M436.42,221.2 v-1.6 M440.18,2 v2.4 M440.18,174.8 v-2.4 M440.18,174.8 v1.6 M440.18,221.2 v-1.6 M443.94,2 v2.4 M443.94,174.8 v-2.4 M443.94,174.8 v1.6 M443.94,221.2 v-1.6 M447.7,2 v4.8 M447.7,174.8 v-4.8 M447.7,174.8 v2.2 M447.7,221.2 v-2.2 M259.7,221.2 h5 M447.7,221.2 h-5 M259.7,218.88 h2.5 M447.7,218.88 h-2.5 M259.7,216.56 h2.5 M447.7,216.56 h-2.5 M259.7,214.24 h2.5 M447.7,214.24 h-2.5 M259.7,211.92 h2.5 M447.7,211.92 h-2.5 M259.7,209.6 h5 M447.7,209.6 h-5 M259.7,207.28 h2.5 M447.7,207.28 h-2.5 M259.7,204.96 h2.5 M447.7,204.96 h-2.5 M259.7,202.64 h2.5 M447.7,202.64 h-2.5 M259.7,200.32 h2.5 M447.7,200.32 h-2.5 M259.7,198 h5 M447.7,198 h-5 M259.7,195.68 h2.5 M447.7,195.68 h-2.5 M259.7,193.36 h2.5 M447.7,193.36 h-2.5 M259.7,191.04 h2.5 M447.7,191.04 h-2.5 M259.7,188.72 h2.5 M447.7,188.72 h-2.5 M259.7,186.4 h5 M447.7,186.4 h-5 M259.7,184.08 h2.5 M447.7,184.08 h-2.5 M259.7,181.76 h2.5 M447.7,181.76 h-2.5 M259.7,179.44 h2.5 M447.7,179.44 h-2.5 M259.7,177.12 h2.5 M447.7,177.12 h-2.5 M259.7,174.8 h5 M447.7,174.8 h-5" stroke="#000" stroke-width="0.95" fill="none"/><text x="0" y="0" font-size="7" text-anchor="end" transform="translate(237.9 1.1) rotate(-90) scale(1 1.1)" >Events</text><text x="0" y="0" font-size="7" text-anchor="end" transform="translate(237.9 174.8) rotate(-90) scale(1 1.1)" >Data / Pred.</text><text x="0" y="0" font-size="7" text-anchor="end" transform="translate(447.7 240.6) scale(1 1.1)" ><tspan font-style="italic">t</tspan><tspan font-style="italic" dx="0.9">t&#x304;</tspan><tspan dx="0.5"> </tspan>+ ≥ 2<tspan font-style="italic">b</tspan> Discriminant</text><text x="0" y="0" font-size="7" text-anchor="start" transform="translate(269 14) scale(1 1.1)" ><tspan font-weight="bold" font-style="italic">ATLAS</tspan></text><text x="0" y="0" font-size="7" text-anchor="start" transform="translate(269 23.4) scale(1 1.1)" >√<tspan text-decoration="overline">s</tspan> = 13 TeV, 140 fb<tspan font-size="4.6" dy="-2.6">-1</tspan></text><text x="0" y="0" font-size="7" text-anchor="start" transform="translate(269 32.8) scale(1 1.1)" >Single-lepton</text><text x="0" y="0" font-size="7" text-anchor="start" transform="translate(269 42.2) scale(1 1.1)" ><tspan font-style="italic">t</tspan><tspan font-style="italic" dx="0.9">t&#x304;</tspan><tspan dx="0.5"> </tspan>+ ≥ 2<tspan font-style="italic">b</tspan> CR 2</text><text x="0" y="0" font-size="7" text-anchor="start" transform="translate(269 51.6) scale(1 1.1)" >Post-fit, μ = 0.81</text><circle cx="349.1" cy="12.2" r="1.9" fill="#000"/><line x1="349.1" y1="9.2" x2="349.1" y2="15.2" stroke="#000" stroke-width="0.7"/><text x="0" y="0" font-size="7" text-anchor="start" transform="translate(354.2 14.7) scale(1 1.1)" >Data</text><rect x="392" y="8.9" width="7" height="6.6" fill="#C81E00" stroke="#222" stroke-width="0.6"/><text x="0" y="0" font-size="7" text-anchor="start" transform="translate(400.6 14.7) scale(1 1.1)" ><tspan font-style="italic">t</tspan><tspan font-style="italic" dx="0.9">t&#x304;</tspan><tspan font-style="italic" dx="0.5">H</tspan></text><rect x="345.6" y="18.35" width="7" height="6.6" fill="#93DADF" stroke="#222" stroke-width="0.6"/><text x="0" y="0" font-size="7" text-anchor="start" transform="translate(354.2 24.15) scale(1 1.1)" ><tspan font-style="italic">t</tspan><tspan font-style="italic" dx="0.9">t&#x304;</tspan><tspan dx="0.5"> </tspan>+ ≥ 2<tspan font-style="italic">b</tspan></text><rect x="392" y="18.35" width="7" height="6.6" fill="#3E90DA" stroke="#222" stroke-width="0.6"/><text x="0" y="0" font-size="7" text-anchor="start" transform="translate(400.6 24.15) scale(1 1.1)" ><tspan font-style="italic">t</tspan><tspan font-style="italic" dx="0.9">t&#x304;</tspan><tspan dx="0.5"> </tspan>+ 1<tspan font-style="italic">b</tspan></text><rect x="345.6" y="27.8" width="7" height="6.6" fill="#8A2CBE" stroke="#222" stroke-width="0.6"/><text x="0" y="0" font-size="7" text-anchor="start" transform="translate(354.2 33.6) scale(1 1.1)" ><tspan font-style="italic">t</tspan><tspan font-style="italic" dx="0.9">t&#x304;</tspan><tspan dx="0.5"> </tspan>+ 1<tspan font-style="italic">B</tspan></text><rect x="392" y="27.8" width="7" height="6.6" fill="#95A5A3" stroke="#222" stroke-width="0.6"/><text x="0" y="0" font-size="7" text-anchor="start" transform="translate(400.6 33.6) scale(1 1.1)" ><tspan font-style="italic">t</tspan><tspan font-style="italic" dx="0.9">t&#x304;</tspan><tspan dx="0.5"> </tspan>+ ≥ 1<tspan font-style="italic">c</tspan></text><rect x="345.6" y="37.25" width="7" height="6.6" fill="#A86C5A" stroke="#222" stroke-width="0.6"/><text x="0" y="0" font-size="7" text-anchor="start" transform="translate(354.2 43.05) scale(1 1.1)" ><tspan font-style="italic">t</tspan><tspan font-style="italic" dx="0.9">t&#x304;</tspan><tspan dx="0.5"> </tspan>+ light</text><rect x="392" y="37.25" width="7" height="6.6" fill="#F06400" stroke="#222" stroke-width="0.6"/><text x="0" y="0" font-size="7" text-anchor="start" transform="translate(400.6 43.05) scale(1 1.1)" ><tspan font-style="italic">t</tspan><tspan font-style="italic" dx="0.9">t&#x304;</tspan><tspan font-style="italic" dx="0.5">Z</tspan></text><rect x="345.6" y="46.7" width="7" height="6.6" fill="#BEB478" stroke="#222" stroke-width="0.6"/><text x="0" y="0" font-size="7" text-anchor="start" transform="translate(354.2 52.5) scale(1 1.1)" ><tspan font-style="italic">tW</tspan></text><rect x="392" y="46.7" width="7" height="6.6" fill="#6E7382" stroke="#222" stroke-width="0.6"/><text x="0" y="0" font-size="7" text-anchor="start" transform="translate(400.6 52.5) scale(1 1.1)" ><tspan font-style="italic">W</tspan> + jets</text><rect x="345.6" y="56.15" width="7" height="6.6" fill="#FFAA0A" stroke="#222" stroke-width="0.6"/><text x="0" y="0" font-size="7" text-anchor="start" transform="translate(354.2 61.95) scale(1 1.1)" >Other</text><rect x="392" y="56.15" width="7" height="6.6" fill="url(#hat)"/><text x="0" y="0" font-size="7" text-anchor="start" transform="translate(400.6 61.95) scale(1 1.1)" >Uncertainty</text><text x="341.55" y="268.4" font-size="14.8" text-anchor="middle" style="font-family:'Liberation Serif',serif;stroke-width:0.15px">(b)</text></g>
<g><path d="M491.6,174.8 L491.6,84.2 L577.3,84.2 L577.3,76.8 L679.6,76.8 L679.6,174.8 Z" fill="#B01208"/><path d="M491.6,174.8 L491.6,84.2 L577.3,84.2 L577.3,76.8 L679.6,76.8 L679.6,174.8" fill="none" stroke="#500" stroke-width="0.4"/><path d="M491.6,174.8 L491.6,85.5 L577.3,85.5 L577.3,78.1 L679.6,78.1 L679.6,174.8 Z" fill="#93DADF"/><path d="M491.6,174.8 L491.6,85.5 L577.3,85.5 L577.3,78.1 L679.6,78.1 L679.6,174.8" fill="none" stroke="#000" stroke-width="0.7"/><path d="M491.6,174.8 L491.6,118.2 L577.3,118.2 L577.3,141.5 L679.6,141.5 L679.6,174.8 Z" fill="#3E90DA"/><path d="M491.6,174.8 L491.6,118.2 L577.3,118.2 L577.3,141.5 L679.6,141.5 L679.6,174.8" fill="none" stroke="#000" stroke-width="0.7"/><path d="M491.6,174.8 L491.6,133.5 L577.3,133.5 L577.3,147.1 L679.6,147.1 L679.6,174.8 Z" fill="#8A2CBE"/><path d="M491.6,174.8 L491.6,133.5 L577.3,133.5 L577.3,147.1 L679.6,147.1 L679.6,174.8" fill="none" stroke="#000" stroke-width="0.7"/><path d="M491.6,174.8 L491.6,138.6 L577.3,138.6 L577.3,150.3 L679.6,150.3 L679.6,174.8 Z" fill="#95A5A3"/><path d="M491.6,174.8 L491.6,138.6 L577.3,138.6 L577.3,150.3 L679.6,150.3 L679.6,174.8" fill="none" stroke="#000" stroke-width="0.7"/><path d="M491.6,174.8 L491.6,154.1 L577.3,154.1 L577.3,154.9 L679.6,154.9 L679.6,174.8 Z" fill="#A86C5A"/><path d="M491.6,174.8 L491.6,154.1 L577.3,154.1 L577.3,154.9 L679.6,154.9 L679.6,174.8" fill="none" stroke="#000" stroke-width="0.7"/><path d="M491.6,174.8 L491.6,158.7 L577.3,158.7 L577.3,155.6 L679.6,155.6 L679.6,174.8 Z" fill="#F06400"/><path d="M491.6,174.8 L491.6,158.7 L577.3,158.7 L577.3,155.6 L679.6,155.6 L679.6,174.8" fill="none" stroke="#000" stroke-width="0.7"/><path d="M491.6,174.8 L491.6,160.5 L577.3,160.5 L577.3,157.7 L679.6,157.7 L679.6,174.8 Z" fill="#BEB478"/><path d="M491.6,174.8 L491.6,160.5 L577.3,160.5 L577.3,157.7 L679.6,157.7 L679.6,174.8" fill="none" stroke="#000" stroke-width="0.7"/><path d="M491.6,174.8 L491.6,164.6 L577.3,164.6 L577.3,162.4 L679.6,162.4 L679.6,174.8 Z" fill="#6E7382"/><path d="M491.6,174.8 L491.6,164.6 L577.3,164.6 L577.3,162.4 L679.6,162.4 L679.6,174.8" fill="none" stroke="#000" stroke-width="0.7"/><path d="M491.6,174.8 L491.6,168.9 L577.3,168.9 L577.3,168.9 L679.6,168.9 L679.6,174.8 Z" fill="#FFAA0A"/><path d="M491.6,174.8 L491.6,168.9 L577.3,168.9 L577.3,168.9 L679.6,168.9 L679.6,174.8" fill="none" stroke="#000" stroke-width="0.7"/><rect x="491.6" y="82" width="85.7" height="4.4" fill="url(#hat2)"/><rect x="577.3" y="74.6" width="102.3" height="4.4" fill="url(#hat2)"/><line x1="534.5" y1="81" x2="534.5" y2="86.6" stroke="#000" stroke-width="0.8"/><circle cx="534.5" cy="83.8" r="1.9" fill="#000"/><line x1="628.3" y1="75.6" x2="628.3" y2="81.2" stroke="#000" stroke-width="0.8"/><circle cx="628.3" cy="78.4" r="1.9" fill="#000"/><rect x="491.6" y="192.6" width="85.7" height="11.4" fill="url(#hat)"/><rect x="577.3" y="192.6" width="102.3" height="11.4" fill="url(#hat)"/><line x1="491.6" y1="198.3" x2="679.6" y2="198.3" stroke="#000" stroke-width="0.6" stroke-dasharray="1.3,1.2"/><line x1="534.3" y1="187.7" x2="534.3" y2="202.9" stroke="#000" stroke-width="0.8"/><circle cx="534.3" cy="195.3" r="1.9" fill="#000"/><line x1="628" y1="195.2" x2="628" y2="208.6" stroke="#000" stroke-width="0.8"/><circle cx="628" cy="201.9" r="1.9" fill="#000"/><path d="M491.3,2 L679.6,2 L679.6,174.8" fill="none" stroke="#000" stroke-width="0.9"/><path d="M491.3,221.2 L679.6,221.2 L679.6,174.8" fill="none" stroke="#000" stroke-width="0.9"/><path d="M491.5,2 L491.5,221.2" fill="none" stroke="#000" stroke-width="0.55"/><text x="0" y="0" font-size="6.9" text-anchor="end" transform="translate(490.9 177.25) scale(1 1.1)" >0</text><text x="0" y="0" font-size="6.9" text-anchor="end" transform="translate(490.9 159.42) scale(1 1.1)" >200</text><text x="0" y="0" font-size="6.9" text-anchor="end" transform="translate(490.9 141.58) scale(1 1.1)" >400</text><text x="0" y="0" font-size="6.9" text-anchor="end" transform="translate(490.9 123.75) scale(1 1.1)" >600</text><text x="0" y="0" font-size="6.9" text-anchor="end" transform="translate(490.9 105.91) scale(1 1.1)" >800</text><text x="0" y="0" font-size="6.9" text-anchor="end" transform="translate(490.9 88.08) scale(1 1.1)" >1000</text><text x="0" y="0" font-size="6.9" text-anchor="end" transform="translate(490.9 70.25) scale(1 1.1)" >1200</text><text x="0" y="0" font-size="6.9" text-anchor="end" transform="translate(490.9 52.41) scale(1 1.1)" >1400</text><text x="0" y="0" font-size="6.9" text-anchor="end" transform="translate(490.9 34.58) scale(1 1.1)" >1600</text><text x="0" y="0" font-size="6.9" text-anchor="end" transform="translate(490.9 16.74) scale(1 1.1)" >1800</text><text x="0" y="0" font-size="6.9" text-anchor="middle" transform="translate(491.6 229.2) scale(1 1.1)" >0</text><text x="0" y="0" font-size="6.9" text-anchor="middle" transform="translate(510.4 229.2) scale(1 1.1)" >0.1</text><text x="0" y="0" font-size="6.9" text-anchor="middle" transform="translate(529.2 229.2) scale(1 1.1)" >0.2</text><text x="0" y="0" font-size="6.9" text-anchor="middle" transform="translate(548 229.2) scale(1 1.1)" >0.3</text><text x="0" y="0" font-size="6.9" text-anchor="middle" transform="translate(566.8 229.2) scale(1 1.1)" >0.4</text><text x="0" y="0" font-size="6.9" text-anchor="middle" transform="translate(585.6 229.2) scale(1 1.1)" >0.5</text><text x="0" y="0" font-size="6.9" text-anchor="middle" transform="translate(604.4 229.2) scale(1 1.1)" >0.6</text><text x="0" y="0" font-size="6.9" text-anchor="middle" transform="translate(623.2 229.2) scale(1 1.1)" >0.7</text><text x="0" y="0" font-size="6.9" text-anchor="middle" transform="translate(642 229.2) scale(1 1.1)" >0.8</text><text x="0" y="0" font-size="6.9" text-anchor="middle" transform="translate(660.8 229.2) scale(1 1.1)" >0.9</text><text x="0" y="0" font-size="6.9" text-anchor="middle" transform="translate(679.6 229.2) scale(1 1.1)" >1</text><text x="0" y="0" font-size="6.9" text-anchor="end" transform="translate(490.9 223.65) scale(1 1.1)" >0.9</text><text x="0" y="0" font-size="6.9" text-anchor="end" transform="translate(490.9 212.05) scale(1 1.1)" >0.95</text><text x="0" y="0" font-size="6.9" text-anchor="end" transform="translate(490.9 200.45) scale(1 1.1)" >1</text><text x="0" y="0" font-size="6.9" text-anchor="end" transform="translate(490.9 188.85) scale(1 1.1)" >1.05</text><path d="M491.6,174.8 h6 M679.6,174.8 h-6 M491.6,170.34 h3 M679.6,170.34 h-3 M491.6,165.88 h3 M679.6,165.88 h-3 M491.6,161.42 h3 M679.6,161.42 h-3 M491.6,156.97 h6 M679.6,156.97 h-6 M491.6,152.51 h3 M679.6,152.51 h-3 M491.6,148.05 h3 M679.6,148.05 h-3 M491.6,143.59 h3 M679.6,143.59 h-3 M491.6,139.13 h6 M679.6,139.13 h-6 M491.6,134.67 h3 M679.6,134.67 h-3 M491.6,130.22 h3 M679.6,130.22 h-3 M491.6,125.76 h3 M679.6,125.76 h-3 M491.6,121.3 h6 M679.6,121.3 h-6 M491.6,116.84 h3 M679.6,116.84 h-3 M491.6,112.38 h3 M679.6,112.38 h-3 M491.6,107.92 h3 M679.6,107.92 h-3 M491.6,103.46 h6 M679.6,103.46 h-6 M491.6,99.01 h3 M679.6,99.01 h-3 M491.6,94.55 h3 M679.6,94.55 h-3 M491.6,90.09 h3 M679.6,90.09 h-3 M491.6,85.63 h6 M679.6,85.63 h-6 M491.6,81.17 h3 M679.6,81.17 h-3 M491.6,76.71 h3 M679.6,76.71 h-3 M491.6,72.25 h3 M679.6,72.25 h-3 M491.6,67.8 h6 M679.6,67.8 h-6 M491.6,63.34 h3 M679.6,63.34 h-3 M491.6,58.88 h3 M679.6,58.88 h-3 M491.6,54.42 h3 M679.6,54.42 h-3 M491.6,49.96 h6 M679.6,49.96 h-6 M491.6,45.5 h3 M679.6,45.5 h-3 M491.6,41.05 h3 M679.6,41.05 h-3 M491.6,36.59 h3 M679.6,36.59 h-3 M491.6,32.13 h6 M679.6,32.13 h-6 M491.6,27.67 h3 M679.6,27.67 h-3 M491.6,23.21 h3 M679.6,23.21 h-3 M491.6,18.75 h3 M679.6,18.75 h-3 M491.6,14.29 h6 M679.6,14.29 h-6 M491.6,9.84 h3 M679.6,9.84 h-3 M491.6,5.38 h3 M679.6,5.38 h-3 M491.6,2 v4.8 M491.6,174.8 v-4.8 M491.6,174.8 v2.2 M491.6,221.2 v-2.2 M495.36,2 v2.4 M495.36,174.8 v-2.4 M495.36,174.8 v1.6 M495.36,221.2 v-1.6 M499.12,2 v2.4 M499.12,174.8 v-2.4 M499.12,174.8 v1.6 M499.12,221.2 v-1.6 M502.88,2 v2.4 M502.88,174.8 v-2.4 M502.88,174.8 v1.6 M502.88,221.2 v-1.6 M506.64,2 v2.4 M506.64,174.8 v-2.4 M506.64,174.8 v1.6 M506.64,221.2 v-1.6 M510.4,2 v4.8 M510.4,174.8 v-4.8 M510.4,174.8 v2.2 M510.4,221.2 v-2.2 M514.16,2 v2.4 M514.16,174.8 v-2.4 M514.16,174.8 v1.6 M514.16,221.2 v-1.6 M517.92,2 v2.4 M517.92,174.8 v-2.4 M517.92,174.8 v1.6 M517.92,221.2 v-1.6 M521.68,2 v2.4 M521.68,174.8 v-2.4 M521.68,174.8 v1.6 M521.68,221.2 v-1.6 M525.44,2 v2.4 M525.44,174.8 v-2.4 M525.44,174.8 v1.6 M525.44,221.2 v-1.6 M529.2,2 v4.8 M529.2,174.8 v-4.8 M529.2,174.8 v2.2 M529.2,221.2 v-2.2 M532.96,2 v2.4 M532.96,174.8 v-2.4 M532.96,174.8 v1.6 M532.96,221.2 v-1.6 M536.72,2 v2.4 M536.72,174.8 v-2.4 M536.72,174.8 v1.6 M536.72,221.2 v-1.6 M540.48,2 v2.4 M540.48,174.8 v-2.4 M540.48,174.8 v1.6 M540.48,221.2 v-1.6 M544.24,2 v2.4 M544.24,174.8 v-2.4 M544.24,174.8 v1.6 M544.24,221.2 v-1.6 M548,2 v4.8 M548,174.8 v-4.8 M548,174.8 v2.2 M548,221.2 v-2.2 M551.76,2 v2.4 M551.76,174.8 v-2.4 M551.76,174.8 v1.6 M551.76,221.2 v-1.6 M555.52,2 v2.4 M555.52,174.8 v-2.4 M555.52,174.8 v1.6 M555.52,221.2 v-1.6 M559.28,2 v2.4 M559.28,174.8 v-2.4 M559.28,174.8 v1.6 M559.28,221.2 v-1.6 M563.04,2 v2.4 M563.04,174.8 v-2.4 M563.04,174.8 v1.6 M563.04,221.2 v-1.6 M566.8,2 v4.8 M566.8,174.8 v-4.8 M566.8,174.8 v2.2 M566.8,221.2 v-2.2 M570.56,2 v2.4 M570.56,174.8 v-2.4 M570.56,174.8 v1.6 M570.56,221.2 v-1.6 M574.32,2 v2.4 M574.32,174.8 v-2.4 M574.32,174.8 v1.6 M574.32,221.2 v-1.6 M578.08,2 v2.4 M578.08,174.8 v-2.4 M578.08,174.8 v1.6 M578.08,221.2 v-1.6 M581.84,2 v2.4 M581.84,174.8 v-2.4 M581.84,174.8 v1.6 M581.84,221.2 v-1.6 M585.6,2 v4.8 M585.6,174.8 v-4.8 M585.6,174.8 v2.2 M585.6,221.2 v-2.2 M589.36,2 v2.4 M589.36,174.8 v-2.4 M589.36,174.8 v1.6 M589.36,221.2 v-1.6 M593.12,2 v2.4 M593.12,174.8 v-2.4 M593.12,174.8 v1.6 M593.12,221.2 v-1.6 M596.88,2 v2.4 M596.88,174.8 v-2.4 M596.88,174.8 v1.6 M596.88,221.2 v-1.6 M600.64,2 v2.4 M600.64,174.8 v-2.4 M600.64,174.8 v1.6 M600.64,221.2 v-1.6 M604.4,2 v4.8 M604.4,174.8 v-4.8 M604.4,174.8 v2.2 M604.4,221.2 v-2.2 M608.16,2 v2.4 M608.16,174.8 v-2.4 M608.16,174.8 v1.6 M608.16,221.2 v-1.6 M611.92,2 v2.4 M611.92,174.8 v-2.4 M611.92,174.8 v1.6 M611.92,221.2 v-1.6 M615.68,2 v2.4 M615.68,174.8 v-2.4 M615.68,174.8 v1.6 M615.68,221.2 v-1.6 M619.44,2 v2.4 M619.44,174.8 v-2.4 M619.44,174.8 v1.6 M619.44,221.2 v-1.6 M623.2,2 v4.8 M623.2,174.8 v-4.8 M623.2,174.8 v2.2 M623.2,221.2 v-2.2 M626.96,2 v2.4 M626.96,174.8 v-2.4 M626.96,174.8 v1.6 M626.96,221.2 v-1.6 M630.72,2 v2.4 M630.72,174.8 v-2.4 M630.72,174.8 v1.6 M630.72,221.2 v-1.6 M634.48,2 v2.4 M634.48,174.8 v-2.4 M634.48,174.8 v1.6 M634.48,221.2 v-1.6 M638.24,2 v2.4 M638.24,174.8 v-2.4 M638.24,174.8 v1.6 M638.24,221.2 v-1.6 M642,2 v4.8 M642,174.8 v-4.8 M642,174.8 v2.2 M642,221.2 v-2.2 M645.76,2 v2.4 M645.76,174.8 v-2.4 M645.76,174.8 v1.6 M645.76,221.2 v-1.6 M649.52,2 v2.4 M649.52,174.8 v-2.4 M649.52,174.8 v1.6 M649.52,221.2 v-1.6 M653.28,2 v2.4 M653.28,174.8 v-2.4 M653.28,174.8 v1.6 M653.28,221.2 v-1.6 M657.04,2 v2.4 M657.04,174.8 v-2.4 M657.04,174.8 v1.6 M657.04,221.2 v-1.6 M660.8,2 v4.8 M660.8,174.8 v-4.8 M660.8,174.8 v2.2 M660.8,221.2 v-2.2 M664.56,2 v2.4 M664.56,174.8 v-2.4 M664.56,174.8 v1.6 M664.56,221.2 v-1.6 M668.32,2 v2.4 M668.32,174.8 v-2.4 M668.32,174.8 v1.6 M668.32,221.2 v-1.6 M672.08,2 v2.4 M672.08,174.8 v-2.4 M672.08,174.8 v1.6 M672.08,221.2 v-1.6 M675.84,2 v2.4 M675.84,174.8 v-2.4 M675.84,174.8 v1.6 M675.84,221.2 v-1.6 M679.6,2 v4.8 M679.6,174.8 v-4.8 M679.6,174.8 v2.2 M679.6,221.2 v-2.2 M491.6,221.2 h5 M679.6,221.2 h-5 M491.6,218.88 h2.5 M679.6,218.88 h-2.5 M491.6,216.56 h2.5 M679.6,216.56 h-2.5 M491.6,214.24 h2.5 M679.6,214.24 h-2.5 M491.6,211.92 h2.5 M679.6,211.92 h-2.5 M491.6,209.6 h5 M679.6,209.6 h-5 M491.6,207.28 h2.5 M679.6,207.28 h-2.5 M491.6,204.96 h2.5 M679.6,204.96 h-2.5 M491.6,202.64 h2.5 M679.6,202.64 h-2.5 M491.6,200.32 h2.5 M679.6,200.32 h-2.5 M491.6,198 h5 M679.6,198 h-5 M491.6,195.68 h2.5 M679.6,195.68 h-2.5 M491.6,193.36 h2.5 M679.6,193.36 h-2.5 M491.6,191.04 h2.5 M679.6,191.04 h-2.5 M491.6,188.72 h2.5 M679.6,188.72 h-2.5 M491.6,186.4 h5 M679.6,186.4 h-5 M491.6,184.08 h2.5 M679.6,184.08 h-2.5 M491.6,181.76 h2.5 M679.6,181.76 h-2.5 M491.6,179.44 h2.5 M679.6,179.44 h-2.5 M491.6,177.12 h2.5 M679.6,177.12 h-2.5 M491.6,174.8 h5 M679.6,174.8 h-5" stroke="#000" stroke-width="0.95" fill="none"/><text x="0" y="0" font-size="7" text-anchor="end" transform="translate(469.8 1.1) rotate(-90) scale(1 1.1)" >Events</text><text x="0" y="0" font-size="7" text-anchor="end" transform="translate(469.8 174.8) rotate(-90) scale(1 1.1)" >Data / Pred.</text><text x="0" y="0" font-size="7" text-anchor="end" transform="translate(679.6 240.6) scale(1 1.1)" ><tspan font-style="italic">t</tspan><tspan font-style="italic" dx="0.9">t&#x304;</tspan><tspan dx="0.5"> </tspan>+ ≥ 2<tspan font-style="italic">b</tspan> Discriminant</text><text x="0" y="0" font-size="7" text-anchor="start" transform="translate(500.9 14) scale(1 1.1)" ><tspan font-weight="bold" font-style="italic">ATLAS</tspan></text><text x="0" y="0" font-size="7" text-anchor="start" transform="translate(500.9 23.4) scale(1 1.1)" >√<tspan text-decoration="overline">s</tspan> = 13 TeV, 140 fb<tspan font-size="4.6" dy="-2.6">-1</tspan></text><text x="0" y="0" font-size="7" text-anchor="start" transform="translate(500.9 32.8) scale(1 1.1)" >Single-lepton</text><text x="0" y="0" font-size="7" text-anchor="start" transform="translate(500.9 42.2) scale(1 1.1)" ><tspan font-style="italic">t</tspan><tspan font-style="italic" dx="0.9">t&#x304;</tspan><tspan dx="0.5"> </tspan>+ ≥ 2<tspan font-style="italic">b</tspan> CR 3</text><text x="0" y="0" font-size="7" text-anchor="start" transform="translate(500.9 51.6) scale(1 1.1)" >Post-fit, μ = 0.81</text><circle cx="581" cy="12.2" r="1.9" fill="#000"/><line x1="581" y1="9.2" x2="581" y2="15.2" stroke="#000" stroke-width="0.7"/><text x="0" y="0" font-size="7" text-anchor="start" transform="translate(586.1 14.7) scale(1 1.1)" >Data</text><rect x="623.9" y="8.9" width="7" height="6.6" fill="#C81E00" stroke="#222" stroke-width="0.6"/><text x="0" y="0" font-size="7" text-anchor="start" transform="translate(632.5 14.7) scale(1 1.1)" ><tspan font-style="italic">t</tspan><tspan font-style="italic" dx="0.9">t&#x304;</tspan><tspan font-style="italic" dx="0.5">H</tspan></text><rect x="577.5" y="18.35" width="7" height="6.6" fill="#93DADF" stroke="#222" stroke-width="0.6"/><text x="0" y="0" font-size="7" text-anchor="start" transform="translate(586.1 24.15) scale(1 1.1)" ><tspan font-style="italic">t</tspan><tspan font-style="italic" dx="0.9">t&#x304;</tspan><tspan dx="0.5"> </tspan>+ ≥ 2<tspan font-style="italic">b</tspan></text><rect x="623.9" y="18.35" width="7" height="6.6" fill="#3E90DA" stroke="#222" stroke-width="0.6"/><text x="0" y="0" font-size="7" text-anchor="start" transform="translate(632.5 24.15) scale(1 1.1)" ><tspan font-style="italic">t</tspan><tspan font-style="italic" dx="0.9">t&#x304;</tspan><tspan dx="0.5"> </tspan>+ 1<tspan font-style="italic">b</tspan></text><rect x="577.5" y="27.8" width="7" height="6.6" fill="#8A2CBE" stroke="#222" stroke-width="0.6"/><text x="0" y="0" font-size="7" text-anchor="start" transform="translate(586.1 33.6) scale(1 1.1)" ><tspan font-style="italic">t</tspan><tspan font-style="italic" dx="0.9">t&#x304;</tspan><tspan dx="0.5"> </tspan>+ 1<tspan font-style="italic">B</tspan></text><rect x="623.9" y="27.8" width="7" height="6.6" fill="#95A5A3" stroke="#222" stroke-width="0.6"/><text x="0" y="0" font-size="7" text-anchor="start" transform="translate(632.5 33.6) scale(1 1.1)" ><tspan font-style="italic">t</tspan><tspan font-style="italic" dx="0.9">t&#x304;</tspan><tspan dx="0.5"> </tspan>+ ≥ 1<tspan font-style="italic">c</tspan></text><rect x="577.5" y="37.25" width="7" height="6.6" fill="#A86C5A" stroke="#222" stroke-width="0.6"/><text x="0" y="0" font-size="7" text-anchor="start" transform="translate(586.1 43.05) scale(1 1.1)" ><tspan font-style="italic">t</tspan><tspan font-style="italic" dx="0.9">t&#x304;</tspan><tspan dx="0.5"> </tspan>+ light</text><rect x="623.9" y="37.25" width="7" height="6.6" fill="#F06400" stroke="#222" stroke-width="0.6"/><text x="0" y="0" font-size="7" text-anchor="start" transform="translate(632.5 43.05) scale(1 1.1)" ><tspan font-style="italic">t</tspan><tspan font-style="italic" dx="0.9">t&#x304;</tspan><tspan font-style="italic" dx="0.5">Z</tspan></text><rect x="577.5" y="46.7" width="7" height="6.6" fill="#BEB478" stroke="#222" stroke-width="0.6"/><text x="0" y="0" font-size="7" text-anchor="start" transform="translate(586.1 52.5) scale(1 1.1)" ><tspan font-style="italic">tW</tspan></text><rect x="623.9" y="46.7" width="7" height="6.6" fill="#6E7382" stroke="#222" stroke-width="0.6"/><text x="0" y="0" font-size="7" text-anchor="start" transform="translate(632.5 52.5) scale(1 1.1)" ><tspan font-style="italic">W</tspan> + jets</text><rect x="577.5" y="56.15" width="7" height="6.6" fill="#FFAA0A" stroke="#222" stroke-width="0.6"/><text x="0" y="0" font-size="7" text-anchor="start" transform="translate(586.1 61.95) scale(1 1.1)" >Other</text><rect x="623.9" y="56.15" width="7" height="6.6" fill="url(#hat)"/><text x="0" y="0" font-size="7" text-anchor="start" transform="translate(632.5 61.95) scale(1 1.1)" >Uncertainty</text><text x="573.45" y="268.4" font-size="14.8" text-anchor="middle" style="font-family:'Liberation Serif',serif;stroke-width:0.15px">(c)</text></g>
<g><path d="M143.8,472.6 L143.8,398.7 L225.5,398.7 L225.5,396.9 L241.9,396.9 L241.9,393.6 L258.6,393.6 L258.6,391.8 L276.5,391.8 L276.5,389.2 L299.4,389.2 L299.4,371.8 L331.8,371.8 L331.8,472.6 Z" fill="#B01208"/><path d="M143.8,472.6 L143.8,398.7 L225.5,398.7 L225.5,396.9 L241.9,396.9 L241.9,393.6 L258.6,393.6 L258.6,391.8 L276.5,391.8 L276.5,389.2 L299.4,389.2 L299.4,371.8 L331.8,371.8 L331.8,472.6" fill="none" stroke="#500" stroke-width="0.4"/><path d="M143.8,472.6 L143.8,399.3 L225.5,399.3 L225.5,397.5 L241.9,397.5 L241.9,394.2 L258.6,394.2 L258.6,392.4 L276.5,392.4 L276.5,389.8 L299.4,389.8 L299.4,372.4 L331.8,372.4 L331.8,472.6 Z" fill="#93DADF"/><path d="M143.8,472.6 L143.8,399.3 L225.5,399.3 L225.5,397.5 L241.9,397.5 L241.9,394.2 L258.6,394.2 L258.6,392.4 L276.5,392.4 L276.5,389.8 L299.4,389.8 L299.4,372.4 L331.8,372.4 L331.8,472.6" fill="none" stroke="#000" stroke-width="0.7"/><path d="M143.8,472.6 L143.8,411.4 L225.5,411.4 L225.5,410.5 L241.9,410.5 L241.9,408.9 L258.6,408.9 L258.6,406.4 L276.5,406.4 L276.5,403.4 L299.4,403.4 L299.4,385.1 L331.8,385.1 L331.8,472.6 Z" fill="#3E90DA"/><path d="M143.8,472.6 L143.8,411.4 L225.5,411.4 L225.5,410.5 L241.9,410.5 L241.9,408.9 L258.6,408.9 L258.6,406.4 L276.5,406.4 L276.5,403.4 L299.4,403.4 L299.4,385.1 L331.8,385.1 L331.8,472.6" fill="none" stroke="#000" stroke-width="0.7"/><path d="M143.8,472.6 L143.8,424.7 L225.5,424.7 L225.5,427.4 L241.9,427.4 L241.9,426.9 L258.6,426.9 L258.6,426 L276.5,426 L276.5,422.5 L299.4,422.5 L299.4,403.5 L331.8,403.5 L331.8,472.6 Z" fill="#8A2CBE"/><path d="M143.8,472.6 L143.8,424.7 L225.5,424.7 L225.5,427.4 L241.9,427.4 L241.9,426.9 L258.6,426.9 L258.6,426 L276.5,426 L276.5,422.5 L299.4,422.5 L299.4,403.5 L331.8,403.5 L331.8,472.6" fill="none" stroke="#000" stroke-width="0.7"/><path d="M143.8,472.6 L143.8,432.6 L225.5,432.6 L225.5,438.3 L241.9,438.3 L241.9,440.3 L258.6,440.3 L258.6,443.5 L276.5,443.5 L276.5,446.6 L299.4,446.6 L299.4,449.1 L331.8,449.1 L331.8,472.6 Z" fill="#95A5A3"/><path d="M143.8,472.6 L143.8,432.6 L225.5,432.6 L225.5,438.3 L241.9,438.3 L241.9,440.3 L258.6,440.3 L258.6,443.5 L276.5,443.5 L276.5,446.6 L299.4,446.6 L299.4,449.1 L331.8,449.1 L331.8,472.6" fill="none" stroke="#000" stroke-width="0.7"/><path d="M143.8,472.6 L143.8,452.3 L225.5,452.3 L225.5,456.4 L241.9,456.4 L241.9,459.3 L258.6,459.3 L258.6,460.7 L276.5,460.7 L276.5,462.9 L299.4,462.9 L299.4,464.4 L331.8,464.4 L331.8,472.6 Z" fill="#A86C5A"/><path d="M143.8,472.6 L143.8,452.3 L225.5,452.3 L225.5,456.4 L241.9,456.4 L241.9,459.3 L258.6,459.3 L258.6,460.7 L276.5,460.7 L276.5,462.9 L299.4,462.9 L299.4,464.4 L331.8,464.4 L331.8,472.6" fill="none" stroke="#000" stroke-width="0.7"/><path d="M143.8,472.6 L143.8,466.3 L225.5,466.3 L225.5,466.3 L241.9,466.3 L241.9,466.6 L258.6,466.6 L258.6,466.8 L276.5,466.8 L276.5,467 L299.4,467 L299.4,467.3 L331.8,467.3 L331.8,472.6 Z" fill="#F06400"/><path d="M143.8,472.6 L143.8,466.3 L225.5,466.3 L225.5,466.3 L241.9,466.3 L241.9,466.6 L258.6,466.6 L258.6,466.8 L276.5,466.8 L276.5,467 L299.4,467 L299.4,467.3 L331.8,467.3 L331.8,472.6" fill="none" stroke="#000" stroke-width="0.7"/><path d="M143.8,472.6 L143.8,467.6 L225.5,467.6 L225.5,467.6 L241.9,467.6 L241.9,467.7 L258.6,467.7 L258.6,467.8 L276.5,467.8 L276.5,467.9 L299.4,467.9 L299.4,468 L331.8,468 L331.8,472.6 Z" fill="#BEB478"/><path d="M143.8,472.6 L143.8,467.6 L225.5,467.6 L225.5,467.6 L241.9,467.6 L241.9,467.7 L258.6,467.7 L258.6,467.8 L276.5,467.8 L276.5,467.9 L299.4,467.9 L299.4,468 L331.8,468 L331.8,472.6" fill="none" stroke="#000" stroke-width="0.7"/><path d="M143.8,472.6 L143.8,468.6 L225.5,468.6 L225.5,468.6 L241.9,468.6 L241.9,468.7 L258.6,468.7 L258.6,468.8 L276.5,468.8 L276.5,468.8 L299.4,468.8 L299.4,468.9 L331.8,468.9 L331.8,472.6 Z" fill="#6E7382"/><path d="M143.8,472.6 L143.8,468.6 L225.5,468.6 L225.5,468.6 L241.9,468.6 L241.9,468.7 L258.6,468.7 L258.6,468.8 L276.5,468.8 L276.5,468.8 L299.4,468.8 L299.4,468.9 L331.8,468.9 L331.8,472.6" fill="none" stroke="#000" stroke-width="0.7"/><path d="M143.8,472.6 L143.8,469.6 L225.5,469.6 L225.5,469.6 L241.9,469.6 L241.9,469.6 L258.6,469.6 L258.6,469.6 L276.5,469.6 L276.5,469.6 L299.4,469.6 L299.4,469.6 L331.8,469.6 L331.8,472.6 Z" fill="#FFAA0A"/><path d="M143.8,472.6 L143.8,469.6 L225.5,469.6 L225.5,469.6 L241.9,469.6 L241.9,469.6 L258.6,469.6 L258.6,469.6 L276.5,469.6 L276.5,469.6 L299.4,469.6 L299.4,469.6 L331.8,469.6 L331.8,472.6" fill="none" stroke="#000" stroke-width="0.7"/><rect x="143.8" y="397.8" width="81.7" height="1.8" fill="url(#hat2)"/><rect x="225.5" y="396" width="16.4" height="1.8" fill="url(#hat2)"/><rect x="241.9" y="392.7" width="16.7" height="1.8" fill="url(#hat2)"/><rect x="258.6" y="390.9" width="17.9" height="1.8" fill="url(#hat2)"/><rect x="276.5" y="388.3" width="22.9" height="1.8" fill="url(#hat2)"/><rect x="299.4" y="370.9" width="32.4" height="1.8" fill="url(#hat2)"/><circle cx="184.6" cy="397.2" r="1.9" fill="#000"/><circle cx="233.7" cy="398.2" r="1.9" fill="#000"/><circle cx="250" cy="394" r="1.9" fill="#000"/><circle cx="267" cy="393.3" r="1.9" fill="#000"/><circle cx="287.9" cy="386.7" r="1.9" fill="#000"/><circle cx="315.5" cy="371.7" r="1.9" fill="#000"/><rect x="143.8" y="493.3" width="81.7" height="5.6" fill="url(#hat)"/><rect x="225.5" y="493.3" width="16.4" height="5.6" fill="url(#hat)"/><rect x="241.9" y="493.3" width="16.7" height="5.6" fill="url(#hat)"/><rect x="258.6" y="493.3" width="17.9" height="5.6" fill="url(#hat)"/><rect x="276.5" y="493.3" width="22.9" height="5.6" fill="url(#hat)"/><rect x="299.4" y="493.3" width="32.4" height="5.6" fill="url(#hat)"/><line x1="143.8" y1="496.1" x2="331.8" y2="496.1" stroke="#000" stroke-width="0.6" stroke-dasharray="1.3,1.2"/><line x1="184.6" y1="486.2" x2="184.6" y2="494.2" stroke="#000" stroke-width="0.8"/><circle cx="184.6" cy="490.2" r="1.9" fill="#000"/><line x1="233.6" y1="495.4" x2="233.6" y2="503.4" stroke="#000" stroke-width="0.8"/><circle cx="233.6" cy="499.4" r="1.9" fill="#000"/><line x1="249.9" y1="492.9" x2="249.9" y2="500.9" stroke="#000" stroke-width="0.8"/><circle cx="249.9" cy="496.9" r="1.9" fill="#000"/><line x1="267.3" y1="495.1" x2="267.3" y2="503.1" stroke="#000" stroke-width="0.8"/><circle cx="267.3" cy="499.1" r="1.9" fill="#000"/><line x1="287.7" y1="485.1" x2="287.7" y2="493.1" stroke="#000" stroke-width="0.8"/><circle cx="287.7" cy="489.1" r="1.9" fill="#000"/><line x1="315.8" y1="492.2" x2="315.8" y2="499.4" stroke="#000" stroke-width="0.8"/><circle cx="315.8" cy="495.8" r="1.9" fill="#000"/><path d="M143.5,299.8 L331.8,299.8 L331.8,472.6" fill="none" stroke="#000" stroke-width="0.9"/><path d="M143.5,519 L331.8,519 L331.8,472.6" fill="none" stroke="#000" stroke-width="0.9"/><path d="M143.7,299.8 L143.7,519" fill="none" stroke="#000" stroke-width="0.55"/><text x="0" y="0" font-size="6.9" text-anchor="end" transform="translate(143.1 475.05) scale(1 1.1)" >0</text><text x="0" y="0" font-size="6.9" text-anchor="end" transform="translate(143.1 453.77) scale(1 1.1)" >1000</text><text x="0" y="0" font-size="6.9" text-anchor="end" transform="translate(143.1 432.49) scale(1 1.1)" >2000</text><text x="0" y="0" font-size="6.9" text-anchor="end" transform="translate(143.1 411.21) scale(1 1.1)" >3000</text><text x="0" y="0" font-size="6.9" text-anchor="end" transform="translate(143.1 389.93) scale(1 1.1)" >4000</text><text x="0" y="0" font-size="6.9" text-anchor="end" transform="translate(143.1 368.65) scale(1 1.1)" >5000</text><text x="0" y="0" font-size="6.9" text-anchor="end" transform="translate(143.1 347.37) scale(1 1.1)" >6000</text><text x="0" y="0" font-size="6.9" text-anchor="end" transform="translate(143.1 326.09) scale(1 1.1)" >7000</text><text x="0" y="0" font-size="6.9" text-anchor="end" transform="translate(143.1 304.81) scale(1 1.1)" >8000</text><text x="0" y="0" font-size="6.9" text-anchor="middle" transform="translate(143.8 527) scale(1 1.1)" >0</text><text x="0" y="0" font-size="6.9" text-anchor="middle" transform="translate(162.6 527) scale(1 1.1)" >0.1</text><text x="0" y="0" font-size="6.9" text-anchor="middle" transform="translate(181.4 527) scale(1 1.1)" >0.2</text><text x="0" y="0" font-size="6.9" text-anchor="middle" transform="translate(200.2 527) scale(1 1.1)" >0.3</text><text x="0" y="0" font-size="6.9" text-anchor="middle" transform="translate(219 527) scale(1 1.1)" >0.4</text><text x="0" y="0" font-size="6.9" text-anchor="middle" transform="translate(237.8 527) scale(1 1.1)" >0.5</text><text x="0" y="0" font-size="6.9" text-anchor="middle" transform="translate(256.6 527) scale(1 1.1)" >0.6</text><text x="0" y="0" font-size="6.9" text-anchor="middle" transform="translate(275.4 527) scale(1 1.1)" >0.7</text><text x="0" y="0" font-size="6.9" text-anchor="middle" transform="translate(294.2 527) scale(1 1.1)" >0.8</text><text x="0" y="0" font-size="6.9" text-anchor="middle" transform="translate(313 527) scale(1 1.1)" >0.9</text><text x="0" y="0" font-size="6.9" text-anchor="middle" transform="translate(331.8 527) scale(1 1.1)" >1</text><text x="0" y="0" font-size="6.9" text-anchor="end" transform="translate(143.1 521.45) scale(1 1.1)" >0.9</text><text x="0" y="0" font-size="6.9" text-anchor="end" transform="translate(143.1 509.85) scale(1 1.1)" >0.95</text><text x="0" y="0" font-size="6.9" text-anchor="end" transform="translate(143.1 498.25) scale(1 1.1)" >1</text><text x="0" y="0" font-size="6.9" text-anchor="end" transform="translate(143.1 486.65) scale(1 1.1)" >1.05</text><path d="M143.8,472.6 h6 M331.8,472.6 h-6 M143.8,468.34 h3 M331.8,468.34 h-3 M143.8,464.09 h3 M331.8,464.09 h-3 M143.8,459.83 h3 M331.8,459.83 h-3 M143.8,455.58 h3 M331.8,455.58 h-3 M143.8,451.32 h6 M331.8,451.32 h-6 M143.8,447.06 h3 M331.8,447.06 h-3 M143.8,442.81 h3 M331.8,442.81 h-3 M143.8,438.55 h3 M331.8,438.55 h-3 M143.8,434.3 h3 M331.8,434.3 h-3 M143.8,430.04 h6 M331.8,430.04 h-6 M143.8,425.78 h3 M331.8,425.78 h-3 M143.8,421.53 h3 M331.8,421.53 h-3 M143.8,417.27 h3 M331.8,417.27 h-3 M143.8,413.02 h3 M331.8,413.02 h-3 M143.8,408.76 h6 M331.8,408.76 h-6 M143.8,404.5 h3 M331.8,404.5 h-3 M143.8,400.25 h3 M331.8,400.25 h-3 M143.8,395.99 h3 M331.8,395.99 h-3 M143.8,391.74 h3 M331.8,391.74 h-3 M143.8,387.48 h6 M331.8,387.48 h-6 M143.8,383.22 h3 M331.8,383.22 h-3 M143.8,378.97 h3 M331.8,378.97 h-3 M143.8,374.71 h3 M331.8,374.71 h-3 M143.8,370.46 h3 M331.8,370.46 h-3 M143.8,366.2 h6 M331.8,366.2 h-6 M143.8,361.94 h3 M331.8,361.94 h-3 M143.8,357.69 h3 M331.8,357.69 h-3 M143.8,353.43 h3 M331.8,353.43 h-3 M143.8,349.18 h3 M331.8,349.18 h-3 M143.8,344.92 h6 M331.8,344.92 h-6 M143.8,340.66 h3 M331.8,340.66 h-3 M143.8,336.41 h3 M331.8,336.41 h-3 M143.8,332.15 h3 M331.8,332.15 h-3 M143.8,327.9 h3 M331.8,327.9 h-3 M143.8,323.64 h6 M331.8,323.64 h-6 M143.8,319.38 h3 M331.8,319.38 h-3 M143.8,315.13 h3 M331.8,315.13 h-3 M143.8,310.87 h3 M331.8,310.87 h-3 M143.8,306.62 h3 M331.8,306.62 h-3 M143.8,302.36 h6 M331.8,302.36 h-6 M143.8,299.8 v4.8 M143.8,472.6 v-4.8 M143.8,472.6 v2.2 M143.8,519 v-2.2 M147.56,299.8 v2.4 M147.56,472.6 v-2.4 M147.56,472.6 v1.6 M147.56,519 v-1.6 M151.32,299.8 v2.4 M151.32,472.6 v-2.4 M151.32,472.6 v1.6 M151.32,519 v-1.6 M155.08,299.8 v2.4 M155.08,472.6 v-2.4 M155.08,472.6 v1.6 M155.08,519 v-1.6 M158.84,299.8 v2.4 M158.84,472.6 v-2.4 M158.84,472.6 v1.6 M158.84,519 v-1.6 M162.6,299.8 v4.8 M162.6,472.6 v-4.8 M162.6,472.6 v2.2 M162.6,519 v-2.2 M166.36,299.8 v2.4 M166.36,472.6 v-2.4 M166.36,472.6 v1.6 M166.36,519 v-1.6 M170.12,299.8 v2.4 M170.12,472.6 v-2.4 M170.12,472.6 v1.6 M170.12,519 v-1.6 M173.88,299.8 v2.4 M173.88,472.6 v-2.4 M173.88,472.6 v1.6 M173.88,519 v-1.6 M177.64,299.8 v2.4 M177.64,472.6 v-2.4 M177.64,472.6 v1.6 M177.64,519 v-1.6 M181.4,299.8 v4.8 M181.4,472.6 v-4.8 M181.4,472.6 v2.2 M181.4,519 v-2.2 M185.16,299.8 v2.4 M185.16,472.6 v-2.4 M185.16,472.6 v1.6 M185.16,519 v-1.6 M188.92,299.8 v2.4 M188.92,472.6 v-2.4 M188.92,472.6 v1.6 M188.92,519 v-1.6 M192.68,299.8 v2.4 M192.68,472.6 v-2.4 M192.68,472.6 v1.6 M192.68,519 v-1.6 M196.44,299.8 v2.4 M196.44,472.6 v-2.4 M196.44,472.6 v1.6 M196.44,519 v-1.6 M200.2,299.8 v4.8 M200.2,472.6 v-4.8 M200.2,472.6 v2.2 M200.2,519 v-2.2 M203.96,299.8 v2.4 M203.96,472.6 v-2.4 M203.96,472.6 v1.6 M203.96,519 v-1.6 M207.72,299.8 v2.4 M207.72,472.6 v-2.4 M207.72,472.6 v1.6 M207.72,519 v-1.6 M211.48,299.8 v2.4 M211.48,472.6 v-2.4 M211.48,472.6 v1.6 M211.48,519 v-1.6 M215.24,299.8 v2.4 M215.24,472.6 v-2.4 M215.24,472.6 v1.6 M215.24,519 v-1.6 M219,299.8 v4.8 M219,472.6 v-4.8 M219,472.6 v2.2 M219,519 v-2.2 M222.76,299.8 v2.4 M222.76,472.6 v-2.4 M222.76,472.6 v1.6 M222.76,519 v-1.6 M226.52,299.8 v2.4 M226.52,472.6 v-2.4 M226.52,472.6 v1.6 M226.52,519 v-1.6 M230.28,299.8 v2.4 M230.28,472.6 v-2.4 M230.28,472.6 v1.6 M230.28,519 v-1.6 M234.04,299.8 v2.4 M234.04,472.6 v-2.4 M234.04,472.6 v1.6 M234.04,519 v-1.6 M237.8,299.8 v4.8 M237.8,472.6 v-4.8 M237.8,472.6 v2.2 M237.8,519 v-2.2 M241.56,299.8 v2.4 M241.56,472.6 v-2.4 M241.56,472.6 v1.6 M241.56,519 v-1.6 M245.32,299.8 v2.4 M245.32,472.6 v-2.4 M245.32,472.6 v1.6 M245.32,519 v-1.6 M249.08,299.8 v2.4 M249.08,472.6 v-2.4 M249.08,472.6 v1.6 M249.08,519 v-1.6 M252.84,299.8 v2.4 M252.84,472.6 v-2.4 M252.84,472.6 v1.6 M252.84,519 v-1.6 M256.6,299.8 v4.8 M256.6,472.6 v-4.8 M256.6,472.6 v2.2 M256.6,519 v-2.2 M260.36,299.8 v2.4 M260.36,472.6 v-2.4 M260.36,472.6 v1.6 M260.36,519 v-1.6 M264.12,299.8 v2.4 M264.12,472.6 v-2.4 M264.12,472.6 v1.6 M264.12,519 v-1.6 M267.88,299.8 v2.4 M267.88,472.6 v-2.4 M267.88,472.6 v1.6 M267.88,519 v-1.6 M271.64,299.8 v2.4 M271.64,472.6 v-2.4 M271.64,472.6 v1.6 M271.64,519 v-1.6 M275.4,299.8 v4.8 M275.4,472.6 v-4.8 M275.4,472.6 v2.2 M275.4,519 v-2.2 M279.16,299.8 v2.4 M279.16,472.6 v-2.4 M279.16,472.6 v1.6 M279.16,519 v-1.6 M282.92,299.8 v2.4 M282.92,472.6 v-2.4 M282.92,472.6 v1.6 M282.92,519 v-1.6 M286.68,299.8 v2.4 M286.68,472.6 v-2.4 M286.68,472.6 v1.6 M286.68,519 v-1.6 M290.44,299.8 v2.4 M290.44,472.6 v-2.4 M290.44,472.6 v1.6 M290.44,519 v-1.6 M294.2,299.8 v4.8 M294.2,472.6 v-4.8 M294.2,472.6 v2.2 M294.2,519 v-2.2 M297.96,299.8 v2.4 M297.96,472.6 v-2.4 M297.96,472.6 v1.6 M297.96,519 v-1.6 M301.72,299.8 v2.4 M301.72,472.6 v-2.4 M301.72,472.6 v1.6 M301.72,519 v-1.6 M305.48,299.8 v2.4 M305.48,472.6 v-2.4 M305.48,472.6 v1.6 M305.48,519 v-1.6 M309.24,299.8 v2.4 M309.24,472.6 v-2.4 M309.24,472.6 v1.6 M309.24,519 v-1.6 M313,299.8 v4.8 M313,472.6 v-4.8 M313,472.6 v2.2 M313,519 v-2.2 M316.76,299.8 v2.4 M316.76,472.6 v-2.4 M316.76,472.6 v1.6 M316.76,519 v-1.6 M320.52,299.8 v2.4 M320.52,472.6 v-2.4 M320.52,472.6 v1.6 M320.52,519 v-1.6 M324.28,299.8 v2.4 M324.28,472.6 v-2.4 M324.28,472.6 v1.6 M324.28,519 v-1.6 M328.04,299.8 v2.4 M328.04,472.6 v-2.4 M328.04,472.6 v1.6 M328.04,519 v-1.6 M331.8,299.8 v4.8 M331.8,472.6 v-4.8 M331.8,472.6 v2.2 M331.8,519 v-2.2 M143.8,519 h5 M331.8,519 h-5 M143.8,516.68 h2.5 M331.8,516.68 h-2.5 M143.8,514.36 h2.5 M331.8,514.36 h-2.5 M143.8,512.04 h2.5 M331.8,512.04 h-2.5 M143.8,509.72 h2.5 M331.8,509.72 h-2.5 M143.8,507.4 h5 M331.8,507.4 h-5 M143.8,505.08 h2.5 M331.8,505.08 h-2.5 M143.8,502.76 h2.5 M331.8,502.76 h-2.5 M143.8,500.44 h2.5 M331.8,500.44 h-2.5 M143.8,498.12 h2.5 M331.8,498.12 h-2.5 M143.8,495.8 h5 M331.8,495.8 h-5 M143.8,493.48 h2.5 M331.8,493.48 h-2.5 M143.8,491.16 h2.5 M331.8,491.16 h-2.5 M143.8,488.84 h2.5 M331.8,488.84 h-2.5 M143.8,486.52 h2.5 M331.8,486.52 h-2.5 M143.8,484.2 h5 M331.8,484.2 h-5 M143.8,481.88 h2.5 M331.8,481.88 h-2.5 M143.8,479.56 h2.5 M331.8,479.56 h-2.5 M143.8,477.24 h2.5 M331.8,477.24 h-2.5 M143.8,474.92 h2.5 M331.8,474.92 h-2.5 M143.8,472.6 h5 M331.8,472.6 h-5" stroke="#000" stroke-width="0.95" fill="none"/><text x="0" y="0" font-size="7" text-anchor="end" transform="translate(122 298.9) rotate(-90) scale(1 1.1)" >Events</text><text x="0" y="0" font-size="7" text-anchor="end" transform="translate(122 472.6) rotate(-90) scale(1 1.1)" >Data / Pred.</text><text x="0" y="0" font-size="7" text-anchor="end" transform="translate(331.8 538.4) scale(1 1.1)" ><tspan font-style="italic">t</tspan><tspan font-style="italic" dx="0.9">t&#x304;</tspan><tspan dx="0.5"> </tspan>+ 1<tspan font-style="italic">B</tspan> Discriminant</text><text x="0" y="0" font-size="7" text-anchor="start" transform="translate(153.1 311.8) scale(1 1.1)" ><tspan font-weight="bold" font-style="italic">ATLAS</tspan></text><text x="0" y="0" font-size="7" text-anchor="start" transform="translate(153.1 321.2) scale(1 1.1)" >√<tspan text-decoration="overline">s</tspan> = 13 TeV, 140 fb<tspan font-size="4.6" dy="-2.6">-1</tspan></text><text x="0" y="0" font-size="7" text-anchor="start" transform="translate(153.1 330.6) scale(1 1.1)" >Single-lepton</text><text x="0" y="0" font-size="7" text-anchor="start" transform="translate(153.1 340) scale(1 1.1)" ><tspan font-style="italic">t</tspan><tspan font-style="italic" dx="0.9">t&#x304;</tspan><tspan dx="0.5"> </tspan>+ 1<tspan font-style="italic">B</tspan> CR</text><text x="0" y="0" font-size="7" text-anchor="start" transform="translate(153.1 349.4) scale(1 1.1)" >Post-fit, μ = 0.81</text><circle cx="233.2" cy="310" r="1.9" fill="#000"/><line x1="233.2" y1="307" x2="233.2" y2="313" stroke="#000" stroke-width="0.7"/><text x="0" y="0" font-size="7" text-anchor="start" transform="translate(238.3 312.5) scale(1 1.1)" >Data</text><rect x="276.1" y="306.7" width="7" height="6.6" fill="#C81E00" stroke="#222" stroke-width="0.6"/><text x="0" y="0" font-size="7" text-anchor="start" transform="translate(284.7 312.5) scale(1 1.1)" ><tspan font-style="italic">t</tspan><tspan font-style="italic" dx="0.9">t&#x304;</tspan><tspan font-style="italic" dx="0.5">H</tspan></text><rect x="229.7" y="316.15" width="7" height="6.6" fill="#93DADF" stroke="#222" stroke-width="0.6"/><text x="0" y="0" font-size="7" text-anchor="start" transform="translate(238.3 321.95) scale(1 1.1)" ><tspan font-style="italic">t</tspan><tspan font-style="italic" dx="0.9">t&#x304;</tspan><tspan dx="0.5"> </tspan>+ ≥ 2<tspan font-style="italic">b</tspan></text><rect x="276.1" y="316.15" width="7" height="6.6" fill="#3E90DA" stroke="#222" stroke-width="0.6"/><text x="0" y="0" font-size="7" text-anchor="start" transform="translate(284.7 321.95) scale(1 1.1)" ><tspan font-style="italic">t</tspan><tspan font-style="italic" dx="0.9">t&#x304;</tspan><tspan dx="0.5"> </tspan>+ 1<tspan font-style="italic">b</tspan></text><rect x="229.7" y="325.6" width="7" height="6.6" fill="#8A2CBE" stroke="#222" stroke-width="0.6"/><text x="0" y="0" font-size="7" text-anchor="start" transform="translate(238.3 331.4) scale(1 1.1)" ><tspan font-style="italic">t</tspan><tspan font-style="italic" dx="0.9">t&#x304;</tspan><tspan dx="0.5"> </tspan>+ 1<tspan font-style="italic">B</tspan></text><rect x="276.1" y="325.6" width="7" height="6.6" fill="#95A5A3" stroke="#222" stroke-width="0.6"/><text x="0" y="0" font-size="7" text-anchor="start" transform="translate(284.7 331.4) scale(1 1.1)" ><tspan font-style="italic">t</tspan><tspan font-style="italic" dx="0.9">t&#x304;</tspan><tspan dx="0.5"> </tspan>+ ≥ 1<tspan font-style="italic">c</tspan></text><rect x="229.7" y="335.05" width="7" height="6.6" fill="#A86C5A" stroke="#222" stroke-width="0.6"/><text x="0" y="0" font-size="7" text-anchor="start" transform="translate(238.3 340.85) scale(1 1.1)" ><tspan font-style="italic">t</tspan><tspan font-style="italic" dx="0.9">t&#x304;</tspan><tspan dx="0.5"> </tspan>+ light</text><rect x="276.1" y="335.05" width="7" height="6.6" fill="#F06400" stroke="#222" stroke-width="0.6"/><text x="0" y="0" font-size="7" text-anchor="start" transform="translate(284.7 340.85) scale(1 1.1)" ><tspan font-style="italic">t</tspan><tspan font-style="italic" dx="0.9">t&#x304;</tspan><tspan font-style="italic" dx="0.5">Z</tspan></text><rect x="229.7" y="344.5" width="7" height="6.6" fill="#BEB478" stroke="#222" stroke-width="0.6"/><text x="0" y="0" font-size="7" text-anchor="start" transform="translate(238.3 350.3) scale(1 1.1)" ><tspan font-style="italic">tW</tspan></text><rect x="276.1" y="344.5" width="7" height="6.6" fill="#6E7382" stroke="#222" stroke-width="0.6"/><text x="0" y="0" font-size="7" text-anchor="start" transform="translate(284.7 350.3) scale(1 1.1)" ><tspan font-style="italic">W</tspan> + jets</text><rect x="229.7" y="353.95" width="7" height="6.6" fill="#FFAA0A" stroke="#222" stroke-width="0.6"/><text x="0" y="0" font-size="7" text-anchor="start" transform="translate(238.3 359.75) scale(1 1.1)" >Other</text><rect x="276.1" y="353.95" width="7" height="6.6" fill="url(#hat)"/><text x="0" y="0" font-size="7" text-anchor="start" transform="translate(284.7 359.75) scale(1 1.1)" >Uncertainty</text><text x="225.65" y="566.2" font-size="14.8" text-anchor="middle" style="font-family:'Liberation Serif',serif;stroke-width:0.15px">(d)</text></g>
<g><path d="M375.6,472.6 L375.6,392.3 L461.3,392.3 L461.3,387 L474.3,387 L474.3,388.1 L486.1,388.1 L486.1,385.5 L499.4,385.5 L499.4,382.4 L515.6,382.4 L515.6,370.9 L563.6,370.9 L563.6,472.6 Z" fill="#B01208"/><path d="M375.6,472.6 L375.6,392.3 L461.3,392.3 L461.3,387 L474.3,387 L474.3,388.1 L486.1,388.1 L486.1,385.5 L499.4,385.5 L499.4,382.4 L515.6,382.4 L515.6,370.9 L563.6,370.9 L563.6,472.6" fill="none" stroke="#500" stroke-width="0.4"/><path d="M375.6,472.6 L375.6,392.9 L461.3,392.9 L461.3,387.6 L474.3,387.6 L474.3,388.7 L486.1,388.7 L486.1,386.1 L499.4,386.1 L499.4,383 L515.6,383 L515.6,371.5 L563.6,371.5 L563.6,472.6 Z" fill="#93DADF"/><path d="M375.6,472.6 L375.6,392.9 L461.3,392.9 L461.3,387.6 L474.3,387.6 L474.3,388.7 L486.1,388.7 L486.1,386.1 L499.4,386.1 L499.4,383 L515.6,383 L515.6,371.5 L563.6,371.5 L563.6,472.6" fill="none" stroke="#000" stroke-width="0.7"/><path d="M375.6,472.6 L375.6,405 L461.3,405 L461.3,401.4 L474.3,401.4 L474.3,403.7 L486.1,403.7 L486.1,401.4 L499.4,401.4 L499.4,398.3 L515.6,398.3 L515.6,385.3 L563.6,385.3 L563.6,472.6 Z" fill="#3E90DA"/><path d="M375.6,472.6 L375.6,405 L461.3,405 L461.3,401.4 L474.3,401.4 L474.3,403.7 L486.1,403.7 L486.1,401.4 L499.4,401.4 L499.4,398.3 L515.6,398.3 L515.6,385.3 L563.6,385.3 L563.6,472.6" fill="none" stroke="#000" stroke-width="0.7"/><path d="M375.6,472.6 L375.6,422.1 L461.3,422.1 L461.3,422.3 L474.3,422.3 L474.3,429.7 L486.1,429.7 L486.1,432 L499.4,432 L499.4,434.6 L515.6,434.6 L515.6,434.8 L563.6,434.8 L563.6,472.6 Z" fill="#8A2CBE"/><path d="M375.6,472.6 L375.6,422.1 L461.3,422.1 L461.3,422.3 L474.3,422.3 L474.3,429.7 L486.1,429.7 L486.1,432 L499.4,432 L499.4,434.6 L515.6,434.6 L515.6,434.8 L563.6,434.8 L563.6,472.6" fill="none" stroke="#000" stroke-width="0.7"/><path d="M375.6,472.6 L375.6,425.5 L461.3,425.5 L461.3,427.5 L474.3,427.5 L474.3,434.3 L486.1,434.3 L486.1,437.4 L499.4,437.4 L499.4,440.5 L515.6,440.5 L515.6,440.5 L563.6,440.5 L563.6,472.6 Z" fill="#95A5A3"/><path d="M375.6,472.6 L375.6,425.5 L461.3,425.5 L461.3,427.5 L474.3,427.5 L474.3,434.3 L486.1,434.3 L486.1,437.4 L499.4,437.4 L499.4,440.5 L515.6,440.5 L515.6,440.5 L563.6,440.5 L563.6,472.6" fill="none" stroke="#000" stroke-width="0.7"/><path d="M375.6,472.6 L375.6,444.5 L461.3,444.5 L461.3,447.4 L474.3,447.4 L474.3,452.3 L486.1,452.3 L486.1,455.3 L499.4,455.3 L499.4,458.4 L515.6,458.4 L515.6,460.4 L563.6,460.4 L563.6,472.6 Z" fill="#A86C5A"/><path d="M375.6,472.6 L375.6,444.5 L461.3,444.5 L461.3,447.4 L474.3,447.4 L474.3,452.3 L486.1,452.3 L486.1,455.3 L499.4,455.3 L499.4,458.4 L515.6,458.4 L515.6,460.4 L563.6,460.4 L563.6,472.6" fill="none" stroke="#000" stroke-width="0.7"/><path d="M375.6,472.6 L375.6,464.2 L461.3,464.2 L461.3,464.7 L474.3,464.7 L474.3,465.5 L486.1,465.5 L486.1,466 L499.4,466 L499.4,466.5 L515.6,466.5 L515.6,466.2 L563.6,466.2 L563.6,472.6 Z" fill="#F06400"/><path d="M375.6,472.6 L375.6,464.2 L461.3,464.2 L461.3,464.7 L474.3,464.7 L474.3,465.5 L486.1,465.5 L486.1,466 L499.4,466 L499.4,466.5 L515.6,466.5 L515.6,466.2 L563.6,466.2 L563.6,472.6" fill="none" stroke="#000" stroke-width="0.7"/><path d="M375.6,472.6 L375.6,465 L461.3,465 L461.3,465.5 L474.3,465.5 L474.3,466.2 L486.1,466.2 L486.1,466.6 L499.4,466.6 L499.4,466.9 L515.6,466.9 L515.6,466.7 L563.6,466.7 L563.6,472.6 Z" fill="#BEB478"/><path d="M375.6,472.6 L375.6,465 L461.3,465 L461.3,465.5 L474.3,465.5 L474.3,466.2 L486.1,466.2 L486.1,466.6 L499.4,466.6 L499.4,466.9 L515.6,466.9 L515.6,466.7 L563.6,466.7 L563.6,472.6" fill="none" stroke="#000" stroke-width="0.7"/><path d="M375.6,472.6 L375.6,466.4 L461.3,466.4 L461.3,466.8 L474.3,466.8 L474.3,467.2 L486.1,467.2 L486.1,467.4 L499.4,467.4 L499.4,467.5 L515.6,467.5 L515.6,467.4 L563.6,467.4 L563.6,472.6 Z" fill="#6E7382"/><path d="M375.6,472.6 L375.6,466.4 L461.3,466.4 L461.3,466.8 L474.3,466.8 L474.3,467.2 L486.1,467.2 L486.1,467.4 L499.4,467.4 L499.4,467.5 L515.6,467.5 L515.6,467.4 L563.6,467.4 L563.6,472.6" fill="none" stroke="#000" stroke-width="0.7"/><path d="M375.6,472.6 L375.6,468.1 L461.3,468.1 L461.3,468.1 L474.3,468.1 L474.3,468.1 L486.1,468.1 L486.1,468.1 L499.4,468.1 L499.4,468.1 L515.6,468.1 L515.6,468.1 L563.6,468.1 L563.6,472.6 Z" fill="#FFAA0A"/><path d="M375.6,472.6 L375.6,468.1 L461.3,468.1 L461.3,468.1 L474.3,468.1 L474.3,468.1 L486.1,468.1 L486.1,468.1 L499.4,468.1 L499.4,468.1 L515.6,468.1 L515.6,468.1 L563.6,468.1 L563.6,472.6" fill="none" stroke="#000" stroke-width="0.7"/><rect x="375.6" y="391.4" width="85.7" height="1.8" fill="url(#hat2)"/><rect x="461.3" y="386.1" width="13" height="1.8" fill="url(#hat2)"/><rect x="474.3" y="387.2" width="11.8" height="1.8" fill="url(#hat2)"/><rect x="486.1" y="384.6" width="13.3" height="1.8" fill="url(#hat2)"/><rect x="499.4" y="381.5" width="16.2" height="1.8" fill="url(#hat2)"/><rect x="515.6" y="370" width="48" height="1.8" fill="url(#hat2)"/><circle cx="418.5" cy="393.1" r="1.9" fill="#000"/><circle cx="467.7" cy="387.3" r="1.9" fill="#000"/><circle cx="479.9" cy="388.4" r="1.9" fill="#000"/><circle cx="492.2" cy="385" r="1.9" fill="#000"/><circle cx="507.5" cy="381.5" r="1.9" fill="#000"/><circle cx="539.4" cy="371.5" r="1.9" fill="#000"/><rect x="375.6" y="493.5" width="85.7" height="5.2" fill="url(#hat)"/><rect x="461.3" y="493.5" width="13" height="5.2" fill="url(#hat)"/><rect x="474.3" y="493.5" width="11.8" height="5.2" fill="url(#hat)"/><rect x="486.1" y="493.5" width="13.3" height="5.2" fill="url(#hat)"/><rect x="499.4" y="493.5" width="16.2" height="5.2" fill="url(#hat)"/><rect x="515.6" y="493.5" width="48" height="5.2" fill="url(#hat)"/><line x1="375.6" y1="496.1" x2="563.6" y2="496.1" stroke="#000" stroke-width="0.6" stroke-dasharray="1.3,1.2"/><line x1="418.3" y1="494.1" x2="418.3" y2="500.7" stroke="#000" stroke-width="0.8"/><circle cx="418.3" cy="497.4" r="1.9" fill="#000"/><line x1="467.9" y1="492.5" x2="467.9" y2="499.1" stroke="#000" stroke-width="0.8"/><circle cx="467.9" cy="495.8" r="1.9" fill="#000"/><line x1="479.9" y1="493.9" x2="479.9" y2="500.5" stroke="#000" stroke-width="0.8"/><circle cx="479.9" cy="497.2" r="1.9" fill="#000"/><line x1="492.6" y1="491.6" x2="492.6" y2="498.2" stroke="#000" stroke-width="0.8"/><circle cx="492.6" cy="494.9" r="1.9" fill="#000"/><line x1="507.4" y1="490.2" x2="507.4" y2="496.8" stroke="#000" stroke-width="0.8"/><circle cx="507.4" cy="493.5" r="1.9" fill="#000"/><line x1="539.4" y1="493" x2="539.4" y2="499.6" stroke="#000" stroke-width="0.8"/><circle cx="539.4" cy="496.3" r="1.9" fill="#000"/><path d="M375.3,299.8 L563.6,299.8 L563.6,472.6" fill="none" stroke="#000" stroke-width="0.9"/><path d="M375.3,519 L563.6,519 L563.6,472.6" fill="none" stroke="#000" stroke-width="0.9"/><path d="M375.5,299.8 L375.5,519" fill="none" stroke="#000" stroke-width="0.55"/><text x="0" y="0" font-size="6.9" text-anchor="end" transform="translate(374.9 475.05) scale(1 1.1)" >0</text><text x="0" y="0" font-size="6.9" text-anchor="end" transform="translate(374.9 442.95) scale(1 1.1)" >2000</text><text x="0" y="0" font-size="6.9" text-anchor="end" transform="translate(374.9 410.85) scale(1 1.1)" >4000</text><text x="0" y="0" font-size="6.9" text-anchor="end" transform="translate(374.9 378.75) scale(1 1.1)" >6000</text><text x="0" y="0" font-size="6.9" text-anchor="end" transform="translate(374.9 346.65) scale(1 1.1)" >8000</text><text x="0" y="0" font-size="6.9" text-anchor="end" transform="translate(374.9 314.55) scale(1 1.1)" >10000</text><text x="0" y="0" font-size="6.9" text-anchor="middle" transform="translate(375.6 527) scale(1 1.1)" >0</text><text x="0" y="0" font-size="6.9" text-anchor="middle" transform="translate(394.4 527) scale(1 1.1)" >0.1</text><text x="0" y="0" font-size="6.9" text-anchor="middle" transform="translate(413.2 527) scale(1 1.1)" >0.2</text><text x="0" y="0" font-size="6.9" text-anchor="middle" transform="translate(432 527) scale(1 1.1)" >0.3</text><text x="0" y="0" font-size="6.9" text-anchor="middle" transform="translate(450.8 527) scale(1 1.1)" >0.4</text><text x="0" y="0" font-size="6.9" text-anchor="middle" transform="translate(469.6 527) scale(1 1.1)" >0.5</text><text x="0" y="0" font-size="6.9" text-anchor="middle" transform="translate(488.4 527) scale(1 1.1)" >0.6</text><text x="0" y="0" font-size="6.9" text-anchor="middle" transform="translate(507.2 527) scale(1 1.1)" >0.7</text><text x="0" y="0" font-size="6.9" text-anchor="middle" transform="translate(526 527) scale(1 1.1)" >0.8</text><text x="0" y="0" font-size="6.9" text-anchor="middle" transform="translate(544.8 527) scale(1 1.1)" >0.9</text><text x="0" y="0" font-size="6.9" text-anchor="middle" transform="translate(563.6 527) scale(1 1.1)" >1</text><text x="0" y="0" font-size="6.9" text-anchor="end" transform="translate(374.9 521.45) scale(1 1.1)" >0.9</text><text x="0" y="0" font-size="6.9" text-anchor="end" transform="translate(374.9 509.85) scale(1 1.1)" >0.95</text><text x="0" y="0" font-size="6.9" text-anchor="end" transform="translate(374.9 498.25) scale(1 1.1)" >1</text><text x="0" y="0" font-size="6.9" text-anchor="end" transform="translate(374.9 486.65) scale(1 1.1)" >1.05</text><path d="M375.6,472.6 h6 M563.6,472.6 h-6 M375.6,464.58 h3 M563.6,464.58 h-3 M375.6,456.55 h3 M563.6,456.55 h-3 M375.6,448.53 h3 M563.6,448.53 h-3 M375.6,440.5 h6 M563.6,440.5 h-6 M375.6,432.48 h3 M563.6,432.48 h-3 M375.6,424.45 h3 M563.6,424.45 h-3 M375.6,416.43 h3 M563.6,416.43 h-3 M375.6,408.4 h6 M563.6,408.4 h-6 M375.6,400.38 h3 M563.6,400.38 h-3 M375.6,392.35 h3 M563.6,392.35 h-3 M375.6,384.33 h3 M563.6,384.33 h-3 M375.6,376.3 h6 M563.6,376.3 h-6 M375.6,368.27 h3 M563.6,368.27 h-3 M375.6,360.25 h3 M563.6,360.25 h-3 M375.6,352.23 h3 M563.6,352.23 h-3 M375.6,344.2 h6 M563.6,344.2 h-6 M375.6,336.18 h3 M563.6,336.18 h-3 M375.6,328.15 h3 M563.6,328.15 h-3 M375.6,320.12 h3 M563.6,320.12 h-3 M375.6,312.1 h6 M563.6,312.1 h-6 M375.6,304.08 h3 M563.6,304.08 h-3 M375.6,299.8 v4.8 M375.6,472.6 v-4.8 M375.6,472.6 v2.2 M375.6,519 v-2.2 M379.36,299.8 v2.4 M379.36,472.6 v-2.4 M379.36,472.6 v1.6 M379.36,519 v-1.6 M383.12,299.8 v2.4 M383.12,472.6 v-2.4 M383.12,472.6 v1.6 M383.12,519 v-1.6 M386.88,299.8 v2.4 M386.88,472.6 v-2.4 M386.88,472.6 v1.6 M386.88,519 v-1.6 M390.64,299.8 v2.4 M390.64,472.6 v-2.4 M390.64,472.6 v1.6 M390.64,519 v-1.6 M394.4,299.8 v4.8 M394.4,472.6 v-4.8 M394.4,472.6 v2.2 M394.4,519 v-2.2 M398.16,299.8 v2.4 M398.16,472.6 v-2.4 M398.16,472.6 v1.6 M398.16,519 v-1.6 M401.92,299.8 v2.4 M401.92,472.6 v-2.4 M401.92,472.6 v1.6 M401.92,519 v-1.6 M405.68,299.8 v2.4 M405.68,472.6 v-2.4 M405.68,472.6 v1.6 M405.68,519 v-1.6 M409.44,299.8 v2.4 M409.44,472.6 v-2.4 M409.44,472.6 v1.6 M409.44,519 v-1.6 M413.2,299.8 v4.8 M413.2,472.6 v-4.8 M413.2,472.6 v2.2 M413.2,519 v-2.2 M416.96,299.8 v2.4 M416.96,472.6 v-2.4 M416.96,472.6 v1.6 M416.96,519 v-1.6 M420.72,299.8 v2.4 M420.72,472.6 v-2.4 M420.72,472.6 v1.6 M420.72,519 v-1.6 M424.48,299.8 v2.4 M424.48,472.6 v-2.4 M424.48,472.6 v1.6 M424.48,519 v-1.6 M428.24,299.8 v2.4 M428.24,472.6 v-2.4 M428.24,472.6 v1.6 M428.24,519 v-1.6 M432,299.8 v4.8 M432,472.6 v-4.8 M432,472.6 v2.2 M432,519 v-2.2 M435.76,299.8 v2.4 M435.76,472.6 v-2.4 M435.76,472.6 v1.6 M435.76,519 v-1.6 M439.52,299.8 v2.4 M439.52,472.6 v-2.4 M439.52,472.6 v1.6 M439.52,519 v-1.6 M443.28,299.8 v2.4 M443.28,472.6 v-2.4 M443.28,472.6 v1.6 M443.28,519 v-1.6 M447.04,299.8 v2.4 M447.04,472.6 v-2.4 M447.04,472.6 v1.6 M447.04,519 v-1.6 M450.8,299.8 v4.8 M450.8,472.6 v-4.8 M450.8,472.6 v2.2 M450.8,519 v-2.2 M454.56,299.8 v2.4 M454.56,472.6 v-2.4 M454.56,472.6 v1.6 M454.56,519 v-1.6 M458.32,299.8 v2.4 M458.32,472.6 v-2.4 M458.32,472.6 v1.6 M458.32,519 v-1.6 M462.08,299.8 v2.4 M462.08,472.6 v-2.4 M462.08,472.6 v1.6 M462.08,519 v-1.6 M465.84,299.8 v2.4 M465.84,472.6 v-2.4 M465.84,472.6 v1.6 M465.84,519 v-1.6 M469.6,299.8 v4.8 M469.6,472.6 v-4.8 M469.6,472.6 v2.2 M469.6,519 v-2.2 M473.36,299.8 v2.4 M473.36,472.6 v-2.4 M473.36,472.6 v1.6 M473.36,519 v-1.6 M477.12,299.8 v2.4 M477.12,472.6 v-2.4 M477.12,472.6 v1.6 M477.12,519 v-1.6 M480.88,299.8 v2.4 M480.88,472.6 v-2.4 M480.88,472.6 v1.6 M480.88,519 v-1.6 M484.64,299.8 v2.4 M484.64,472.6 v-2.4 M484.64,472.6 v1.6 M484.64,519 v-1.6 M488.4,299.8 v4.8 M488.4,472.6 v-4.8 M488.4,472.6 v2.2 M488.4,519 v-2.2 M492.16,299.8 v2.4 M492.16,472.6 v-2.4 M492.16,472.6 v1.6 M492.16,519 v-1.6 M495.92,299.8 v2.4 M495.92,472.6 v-2.4 M495.92,472.6 v1.6 M495.92,519 v-1.6 M499.68,299.8 v2.4 M499.68,472.6 v-2.4 M499.68,472.6 v1.6 M499.68,519 v-1.6 M503.44,299.8 v2.4 M503.44,472.6 v-2.4 M503.44,472.6 v1.6 M503.44,519 v-1.6 M507.2,299.8 v4.8 M507.2,472.6 v-4.8 M507.2,472.6 v2.2 M507.2,519 v-2.2 M510.96,299.8 v2.4 M510.96,472.6 v-2.4 M510.96,472.6 v1.6 M510.96,519 v-1.6 M514.72,299.8 v2.4 M514.72,472.6 v-2.4 M514.72,472.6 v1.6 M514.72,519 v-1.6 M518.48,299.8 v2.4 M518.48,472.6 v-2.4 M518.48,472.6 v1.6 M518.48,519 v-1.6 M522.24,299.8 v2.4 M522.24,472.6 v-2.4 M522.24,472.6 v1.6 M522.24,519 v-1.6 M526,299.8 v4.8 M526,472.6 v-4.8 M526,472.6 v2.2 M526,519 v-2.2 M529.76,299.8 v2.4 M529.76,472.6 v-2.4 M529.76,472.6 v1.6 M529.76,519 v-1.6 M533.52,299.8 v2.4 M533.52,472.6 v-2.4 M533.52,472.6 v1.6 M533.52,519 v-1.6 M537.28,299.8 v2.4 M537.28,472.6 v-2.4 M537.28,472.6 v1.6 M537.28,519 v-1.6 M541.04,299.8 v2.4 M541.04,472.6 v-2.4 M541.04,472.6 v1.6 M541.04,519 v-1.6 M544.8,299.8 v4.8 M544.8,472.6 v-4.8 M544.8,472.6 v2.2 M544.8,519 v-2.2 M548.56,299.8 v2.4 M548.56,472.6 v-2.4 M548.56,472.6 v1.6 M548.56,519 v-1.6 M552.32,299.8 v2.4 M552.32,472.6 v-2.4 M552.32,472.6 v1.6 M552.32,519 v-1.6 M556.08,299.8 v2.4 M556.08,472.6 v-2.4 M556.08,472.6 v1.6 M556.08,519 v-1.6 M559.84,299.8 v2.4 M559.84,472.6 v-2.4 M559.84,472.6 v1.6 M559.84,519 v-1.6 M563.6,299.8 v4.8 M563.6,472.6 v-4.8 M563.6,472.6 v2.2 M563.6,519 v-2.2 M375.6,519 h5 M563.6,519 h-5 M375.6,516.68 h2.5 M563.6,516.68 h-2.5 M375.6,514.36 h2.5 M563.6,514.36 h-2.5 M375.6,512.04 h2.5 M563.6,512.04 h-2.5 M375.6,509.72 h2.5 M563.6,509.72 h-2.5 M375.6,507.4 h5 M563.6,507.4 h-5 M375.6,505.08 h2.5 M563.6,505.08 h-2.5 M375.6,502.76 h2.5 M563.6,502.76 h-2.5 M375.6,500.44 h2.5 M563.6,500.44 h-2.5 M375.6,498.12 h2.5 M563.6,498.12 h-2.5 M375.6,495.8 h5 M563.6,495.8 h-5 M375.6,493.48 h2.5 M563.6,493.48 h-2.5 M375.6,491.16 h2.5 M563.6,491.16 h-2.5 M375.6,488.84 h2.5 M563.6,488.84 h-2.5 M375.6,486.52 h2.5 M563.6,486.52 h-2.5 M375.6,484.2 h5 M563.6,484.2 h-5 M375.6,481.88 h2.5 M563.6,481.88 h-2.5 M375.6,479.56 h2.5 M563.6,479.56 h-2.5 M375.6,477.24 h2.5 M563.6,477.24 h-2.5 M375.6,474.92 h2.5 M563.6,474.92 h-2.5 M375.6,472.6 h5 M563.6,472.6 h-5" stroke="#000" stroke-width="0.95" fill="none"/><text x="0" y="0" font-size="7" text-anchor="end" transform="translate(353.8 298.9) rotate(-90) scale(1 1.1)" >Events</text><text x="0" y="0" font-size="7" text-anchor="end" transform="translate(353.8 472.6) rotate(-90) scale(1 1.1)" >Data / Pred.</text><text x="0" y="0" font-size="7" text-anchor="end" transform="translate(563.6 538.4) scale(1 1.1)" ><tspan font-style="italic">t</tspan><tspan font-style="italic" dx="0.9">t&#x304;</tspan><tspan dx="0.5"> </tspan>+ 1<tspan font-style="italic">b</tspan> Discriminant</text><text x="0" y="0" font-size="7" text-anchor="start" transform="translate(384.9 311.8) scale(1 1.1)" ><tspan font-weight="bold" font-style="italic">ATLAS</tspan></text><text x="0" y="0" font-size="7" text-anchor="start" transform="translate(384.9 321.2) scale(1 1.1)" >√<tspan text-decoration="overline">s</tspan> = 13 TeV, 140 fb<tspan font-size="4.6" dy="-2.6">-1</tspan></text><text x="0" y="0" font-size="7" text-anchor="start" transform="translate(384.9 330.6) scale(1 1.1)" >Single-lepton</text><text x="0" y="0" font-size="7" text-anchor="start" transform="translate(384.9 340) scale(1 1.1)" ><tspan font-style="italic">t</tspan><tspan font-style="italic" dx="0.9">t&#x304;</tspan><tspan dx="0.5"> </tspan>+ 1<tspan font-style="italic">b</tspan> CR</text><text x="0" y="0" font-size="7" text-anchor="start" transform="translate(384.9 349.4) scale(1 1.1)" >Post-fit, μ = 0.81</text><circle cx="465" cy="310" r="1.9" fill="#000"/><line x1="465" y1="307" x2="465" y2="313" stroke="#000" stroke-width="0.7"/><text x="0" y="0" font-size="7" text-anchor="start" transform="translate(470.1 312.5) scale(1 1.1)" >Data</text><rect x="507.9" y="306.7" width="7" height="6.6" fill="#C81E00" stroke="#222" stroke-width="0.6"/><text x="0" y="0" font-size="7" text-anchor="start" transform="translate(516.5 312.5) scale(1 1.1)" ><tspan font-style="italic">t</tspan><tspan font-style="italic" dx="0.9">t&#x304;</tspan><tspan font-style="italic" dx="0.5">H</tspan></text><rect x="461.5" y="316.15" width="7" height="6.6" fill="#93DADF" stroke="#222" stroke-width="0.6"/><text x="0" y="0" font-size="7" text-anchor="start" transform="translate(470.1 321.95) scale(1 1.1)" ><tspan font-style="italic">t</tspan><tspan font-style="italic" dx="0.9">t&#x304;</tspan><tspan dx="0.5"> </tspan>+ ≥ 2<tspan font-style="italic">b</tspan></text><rect x="507.9" y="316.15" width="7" height="6.6" fill="#3E90DA" stroke="#222" stroke-width="0.6"/><text x="0" y="0" font-size="7" text-anchor="start" transform="translate(516.5 321.95) scale(1 1.1)" ><tspan font-style="italic">t</tspan><tspan font-style="italic" dx="0.9">t&#x304;</tspan><tspan dx="0.5"> </tspan>+ 1<tspan font-style="italic">b</tspan></text><rect x="461.5" y="325.6" width="7" height="6.6" fill="#8A2CBE" stroke="#222" stroke-width="0.6"/><text x="0" y="0" font-size="7" text-anchor="start" transform="translate(470.1 331.4) scale(1 1.1)" ><tspan font-style="italic">t</tspan><tspan font-style="italic" dx="0.9">t&#x304;</tspan><tspan dx="0.5"> </tspan>+ 1<tspan font-style="italic">B</tspan></text><rect x="507.9" y="325.6" width="7" height="6.6" fill="#95A5A3" stroke="#222" stroke-width="0.6"/><text x="0" y="0" font-size="7" text-anchor="start" transform="translate(516.5 331.4) scale(1 1.1)" ><tspan font-style="italic">t</tspan><tspan font-style="italic" dx="0.9">t&#x304;</tspan><tspan dx="0.5"> </tspan>+ ≥ 1<tspan font-style="italic">c</tspan></text><rect x="461.5" y="335.05" width="7" height="6.6" fill="#A86C5A" stroke="#222" stroke-width="0.6"/><text x="0" y="0" font-size="7" text-anchor="start" transform="translate(470.1 340.85) scale(1 1.1)" ><tspan font-style="italic">t</tspan><tspan font-style="italic" dx="0.9">t&#x304;</tspan><tspan dx="0.5"> </tspan>+ light</text><rect x="507.9" y="335.05" width="7" height="6.6" fill="#F06400" stroke="#222" stroke-width="0.6"/><text x="0" y="0" font-size="7" text-anchor="start" transform="translate(516.5 340.85) scale(1 1.1)" ><tspan font-style="italic">t</tspan><tspan font-style="italic" dx="0.9">t&#x304;</tspan><tspan font-style="italic" dx="0.5">Z</tspan></text><rect x="461.5" y="344.5" width="7" height="6.6" fill="#BEB478" stroke="#222" stroke-width="0.6"/><text x="0" y="0" font-size="7" text-anchor="start" transform="translate(470.1 350.3) scale(1 1.1)" ><tspan font-style="italic">tW</tspan></text><rect x="507.9" y="344.5" width="7" height="6.6" fill="#6E7382" stroke="#222" stroke-width="0.6"/><text x="0" y="0" font-size="7" text-anchor="start" transform="translate(516.5 350.3) scale(1 1.1)" ><tspan font-style="italic">W</tspan> + jets</text><rect x="461.5" y="353.95" width="7" height="6.6" fill="#FFAA0A" stroke="#222" stroke-width="0.6"/><text x="0" y="0" font-size="7" text-anchor="start" transform="translate(470.1 359.75) scale(1 1.1)" >Other</text><rect x="507.9" y="353.95" width="7" height="6.6" fill="url(#hat)"/><text x="0" y="0" font-size="7" text-anchor="start" transform="translate(516.5 359.75) scale(1 1.1)" >Uncertainty</text><text x="457.45" y="566.2" font-size="14.8" text-anchor="middle" style="font-family:'Liberation Serif',serif;stroke-width:0.15px">(e)</text></g>
<g><path d="M27.6,770.1 L27.6,705 L120.4,705 L120.4,699.7 L131.3,699.7 L131.3,695.4 L141.5,695.4 L141.5,693.2 L154.2,693.2 L154.2,687.8 L170.7,687.8 L170.7,674.2 L215.6,674.2 L215.6,770.1 Z" fill="#B01208"/><path d="M27.6,770.1 L27.6,705 L120.4,705 L120.4,699.7 L131.3,699.7 L131.3,695.4 L141.5,695.4 L141.5,693.2 L154.2,693.2 L154.2,687.8 L170.7,687.8 L170.7,674.2 L215.6,674.2 L215.6,770.1" fill="none" stroke="#500" stroke-width="0.4"/><path d="M27.6,770.1 L27.6,705.6 L120.4,705.6 L120.4,700.3 L131.3,700.3 L131.3,696 L141.5,696 L141.5,693.8 L154.2,693.8 L154.2,688.4 L170.7,688.4 L170.7,674.8 L215.6,674.8 L215.6,770.1 Z" fill="#93DADF"/><path d="M27.6,770.1 L27.6,705.6 L120.4,705.6 L120.4,700.3 L131.3,700.3 L131.3,696 L141.5,696 L141.5,693.8 L154.2,693.8 L154.2,688.4 L170.7,688.4 L170.7,674.8 L215.6,674.8 L215.6,770.1" fill="none" stroke="#000" stroke-width="0.7"/><path d="M27.6,770.1 L27.6,714.1 L120.4,714.1 L120.4,708.5 L131.3,708.5 L131.3,704.4 L141.5,704.4 L141.5,702.2 L154.2,702.2 L154.2,697.4 L170.7,697.4 L170.7,683.2 L215.6,683.2 L215.6,770.1 Z" fill="#3E90DA"/><path d="M27.6,770.1 L27.6,714.1 L120.4,714.1 L120.4,708.5 L131.3,708.5 L131.3,704.4 L141.5,704.4 L141.5,702.2 L154.2,702.2 L154.2,697.4 L170.7,697.4 L170.7,683.2 L215.6,683.2 L215.6,770.1" fill="none" stroke="#000" stroke-width="0.7"/><path d="M27.6,770.1 L27.6,724.3 L120.4,724.3 L120.4,718.3 L131.3,718.3 L131.3,714.3 L141.5,714.3 L141.5,711.7 L154.2,711.7 L154.2,707.3 L170.7,707.3 L170.7,694.2 L215.6,694.2 L215.6,770.1 Z" fill="#8A2CBE"/><path d="M27.6,770.1 L27.6,724.3 L120.4,724.3 L120.4,718.3 L131.3,718.3 L131.3,714.3 L141.5,714.3 L141.5,711.7 L154.2,711.7 L154.2,707.3 L170.7,707.3 L170.7,694.2 L215.6,694.2 L215.6,770.1" fill="none" stroke="#000" stroke-width="0.7"/><path d="M27.6,770.1 L27.6,726.5 L120.4,726.5 L120.4,720.5 L131.3,720.5 L131.3,716.8 L141.5,716.8 L141.5,714.6 L154.2,714.6 L154.2,711 L170.7,711 L170.7,698.3 L215.6,698.3 L215.6,770.1 Z" fill="#95A5A3"/><path d="M27.6,770.1 L27.6,726.5 L120.4,726.5 L120.4,720.5 L131.3,720.5 L131.3,716.8 L141.5,716.8 L141.5,714.6 L154.2,714.6 L154.2,711 L170.7,711 L170.7,698.3 L215.6,698.3 L215.6,770.1" fill="none" stroke="#000" stroke-width="0.7"/><path d="M27.6,770.1 L27.6,748.4 L120.4,748.4 L120.4,747.9 L131.3,747.9 L131.3,747.5 L141.5,747.5 L141.5,748.9 L154.2,748.9 L154.2,750.4 L170.7,750.4 L170.7,751.4 L215.6,751.4 L215.6,770.1 Z" fill="#A86C5A"/><path d="M27.6,770.1 L27.6,748.4 L120.4,748.4 L120.4,747.9 L131.3,747.9 L131.3,747.5 L141.5,747.5 L141.5,748.9 L154.2,748.9 L154.2,750.4 L170.7,750.4 L170.7,751.4 L215.6,751.4 L215.6,770.1" fill="none" stroke="#000" stroke-width="0.7"/><path d="M27.6,770.1 L27.6,764.2 L120.4,764.2 L120.4,764.7 L131.3,764.7 L131.3,764.5 L141.5,764.5 L141.5,764.5 L154.2,764.5 L154.2,764 L170.7,764 L170.7,763.5 L215.6,763.5 L215.6,770.1 Z" fill="#F06400"/><path d="M27.6,770.1 L27.6,764.2 L120.4,764.2 L120.4,764.7 L131.3,764.7 L131.3,764.5 L141.5,764.5 L141.5,764.5 L154.2,764.5 L154.2,764 L170.7,764 L170.7,763.5 L215.6,763.5 L215.6,770.1" fill="none" stroke="#000" stroke-width="0.7"/><path d="M27.6,770.1 L27.6,765 L120.4,765 L120.4,765.3 L131.3,765.3 L131.3,765.2 L141.5,765.2 L141.5,765.2 L154.2,765.2 L154.2,764.9 L170.7,764.9 L170.7,764.6 L215.6,764.6 L215.6,770.1 Z" fill="#BEB478"/><path d="M27.6,770.1 L27.6,765 L120.4,765 L120.4,765.3 L131.3,765.3 L131.3,765.2 L141.5,765.2 L141.5,765.2 L154.2,765.2 L154.2,764.9 L170.7,764.9 L170.7,764.6 L215.6,764.6 L215.6,770.1" fill="none" stroke="#000" stroke-width="0.7"/><path d="M27.6,770.1 L27.6,766 L120.4,766 L120.4,766.1 L131.3,766.1 L131.3,766.1 L141.5,766.1 L141.5,766.1 L154.2,766.1 L154.2,766 L170.7,766 L170.7,765.8 L215.6,765.8 L215.6,770.1 Z" fill="#6E7382"/><path d="M27.6,770.1 L27.6,766 L120.4,766 L120.4,766.1 L131.3,766.1 L131.3,766.1 L141.5,766.1 L141.5,766.1 L154.2,766.1 L154.2,766 L170.7,766 L170.7,765.8 L215.6,765.8 L215.6,770.1" fill="none" stroke="#000" stroke-width="0.7"/><path d="M27.6,770.1 L27.6,766.8 L120.4,766.8 L120.4,766.8 L131.3,766.8 L131.3,766.8 L141.5,766.8 L141.5,766.8 L154.2,766.8 L154.2,766.8 L170.7,766.8 L170.7,766.8 L215.6,766.8 L215.6,770.1 Z" fill="#FFAA0A"/><path d="M27.6,770.1 L27.6,766.8 L120.4,766.8 L120.4,766.8 L131.3,766.8 L131.3,766.8 L141.5,766.8 L141.5,766.8 L154.2,766.8 L154.2,766.8 L170.7,766.8 L170.7,766.8 L215.6,766.8 L215.6,770.1" fill="none" stroke="#000" stroke-width="0.7"/><rect x="27.6" y="704.1" width="92.8" height="1.8" fill="url(#hat2)"/><rect x="120.4" y="698.8" width="10.9" height="1.8" fill="url(#hat2)"/><rect x="131.3" y="694.5" width="10.2" height="1.8" fill="url(#hat2)"/><rect x="141.5" y="692.3" width="12.7" height="1.8" fill="url(#hat2)"/><rect x="154.2" y="686.9" width="16.5" height="1.8" fill="url(#hat2)"/><rect x="170.7" y="673.3" width="44.9" height="1.8" fill="url(#hat2)"/><circle cx="74.2" cy="705.8" r="1.9" fill="#000"/><circle cx="125.9" cy="699.7" r="1.9" fill="#000"/><circle cx="136.4" cy="695.7" r="1.9" fill="#000"/><circle cx="147.8" cy="693.5" r="1.9" fill="#000"/><circle cx="162.4" cy="686.9" r="1.9" fill="#000"/><circle cx="192.9" cy="674.9" r="1.9" fill="#000"/><rect x="27.6" y="791.2" width="92.8" height="4.8" fill="url(#hat)"/><rect x="120.4" y="791.2" width="10.9" height="4.8" fill="url(#hat)"/><rect x="131.3" y="791.2" width="10.2" height="4.8" fill="url(#hat)"/><rect x="141.5" y="791.2" width="12.7" height="4.8" fill="url(#hat)"/><rect x="154.2" y="791.2" width="16.5" height="4.8" fill="url(#hat)"/><rect x="170.7" y="791.2" width="44.9" height="4.8" fill="url(#hat)"/><line x1="27.6" y1="793.6" x2="215.6" y2="793.6" stroke="#000" stroke-width="0.6" stroke-dasharray="1.3,1.2"/><line x1="74.4" y1="791.9" x2="74.4" y2="798.5" stroke="#000" stroke-width="0.8"/><circle cx="74.4" cy="795.2" r="1.9" fill="#000"/><line x1="126.1" y1="790.2" x2="126.1" y2="796.8" stroke="#000" stroke-width="0.8"/><circle cx="126.1" cy="793.5" r="1.9" fill="#000"/><line x1="136.1" y1="789.6" x2="136.1" y2="796.2" stroke="#000" stroke-width="0.8"/><circle cx="136.1" cy="792.9" r="1.9" fill="#000"/><line x1="147.6" y1="791.3" x2="147.6" y2="797.9" stroke="#000" stroke-width="0.8"/><circle cx="147.6" cy="794.6" r="1.9" fill="#000"/><line x1="162.5" y1="786.8" x2="162.5" y2="793.4" stroke="#000" stroke-width="0.8"/><circle cx="162.5" cy="790.1" r="1.9" fill="#000"/><line x1="193.3" y1="790.7" x2="193.3" y2="797.3" stroke="#000" stroke-width="0.8"/><circle cx="193.3" cy="794" r="1.9" fill="#000"/><path d="M27.3,597.3 L215.6,597.3 L215.6,770.1" fill="none" stroke="#000" stroke-width="0.9"/><path d="M27.3,816.5 L215.6,816.5 L215.6,770.1" fill="none" stroke="#000" stroke-width="0.9"/><path d="M27.5,597.3 L27.5,816.5" fill="none" stroke="#000" stroke-width="0.55"/><text x="0" y="0" font-size="6.9" text-anchor="end" transform="translate(26.9 772.55) scale(1 1.1)" >0</text><text x="0" y="0" font-size="6.9" text-anchor="end" transform="translate(26.9 747.15) scale(1 1.1)" >2000</text><text x="0" y="0" font-size="6.9" text-anchor="end" transform="translate(26.9 721.75) scale(1 1.1)" >4000</text><text x="0" y="0" font-size="6.9" text-anchor="end" transform="translate(26.9 696.35) scale(1 1.1)" >6000</text><text x="0" y="0" font-size="6.9" text-anchor="end" transform="translate(26.9 670.95) scale(1 1.1)" >8000</text><text x="0" y="0" font-size="6.9" text-anchor="end" transform="translate(26.9 645.55) scale(1 1.1)" >10000</text><text x="0" y="0" font-size="6.9" text-anchor="end" transform="translate(26.9 620.15) scale(1 1.1)" >12000</text><text x="0" y="0" font-size="6.9" text-anchor="middle" transform="translate(27.6 824.5) scale(1 1.1)" >0</text><text x="0" y="0" font-size="6.9" text-anchor="middle" transform="translate(46.4 824.5) scale(1 1.1)" >0.1</text><text x="0" y="0" font-size="6.9" text-anchor="middle" transform="translate(65.2 824.5) scale(1 1.1)" >0.2</text><text x="0" y="0" font-size="6.9" text-anchor="middle" transform="translate(84 824.5) scale(1 1.1)" >0.3</text><text x="0" y="0" font-size="6.9" text-anchor="middle" transform="translate(102.8 824.5) scale(1 1.1)" >0.4</text><text x="0" y="0" font-size="6.9" text-anchor="middle" transform="translate(121.6 824.5) scale(1 1.1)" >0.5</text><text x="0" y="0" font-size="6.9" text-anchor="middle" transform="translate(140.4 824.5) scale(1 1.1)" >0.6</text><text x="0" y="0" font-size="6.9" text-anchor="middle" transform="translate(159.2 824.5) scale(1 1.1)" >0.7</text><text x="0" y="0" font-size="6.9" text-anchor="middle" transform="translate(178 824.5) scale(1 1.1)" >0.8</text><text x="0" y="0" font-size="6.9" text-anchor="middle" transform="translate(196.8 824.5) scale(1 1.1)" >0.9</text><text x="0" y="0" font-size="6.9" text-anchor="middle" transform="translate(215.6 824.5) scale(1 1.1)" >1</text><text x="0" y="0" font-size="6.9" text-anchor="end" transform="translate(26.9 818.95) scale(1 1.1)" >0.9</text><text x="0" y="0" font-size="6.9" text-anchor="end" transform="translate(26.9 807.35) scale(1 1.1)" >0.95</text><text x="0" y="0" font-size="6.9" text-anchor="end" transform="translate(26.9 795.75) scale(1 1.1)" >1</text><text x="0" y="0" font-size="6.9" text-anchor="end" transform="translate(26.9 784.15) scale(1 1.1)" >1.05</text><path d="M27.6,770.1 h6 M215.6,770.1 h-6 M27.6,763.75 h3 M215.6,763.75 h-3 M27.6,757.4 h3 M215.6,757.4 h-3 M27.6,751.05 h3 M215.6,751.05 h-3 M27.6,744.7 h6 M215.6,744.7 h-6 M27.6,738.35 h3 M215.6,738.35 h-3 M27.6,732 h3 M215.6,732 h-3 M27.6,725.65 h3 M215.6,725.65 h-3 M27.6,719.3 h6 M215.6,719.3 h-6 M27.6,712.95 h3 M215.6,712.95 h-3 M27.6,706.6 h3 M215.6,706.6 h-3 M27.6,700.25 h3 M215.6,700.25 h-3 M27.6,693.9 h6 M215.6,693.9 h-6 M27.6,687.55 h3 M215.6,687.55 h-3 M27.6,681.2 h3 M215.6,681.2 h-3 M27.6,674.85 h3 M215.6,674.85 h-3 M27.6,668.5 h6 M215.6,668.5 h-6 M27.6,662.15 h3 M215.6,662.15 h-3 M27.6,655.8 h3 M215.6,655.8 h-3 M27.6,649.45 h3 M215.6,649.45 h-3 M27.6,643.1 h6 M215.6,643.1 h-6 M27.6,636.75 h3 M215.6,636.75 h-3 M27.6,630.4 h3 M215.6,630.4 h-3 M27.6,624.05 h3 M215.6,624.05 h-3 M27.6,617.7 h6 M215.6,617.7 h-6 M27.6,611.35 h3 M215.6,611.35 h-3 M27.6,605 h3 M215.6,605 h-3 M27.6,598.65 h3 M215.6,598.65 h-3 M27.6,597.3 v4.8 M27.6,770.1 v-4.8 M27.6,770.1 v2.2 M27.6,816.5 v-2.2 M31.36,597.3 v2.4 M31.36,770.1 v-2.4 M31.36,770.1 v1.6 M31.36,816.5 v-1.6 M35.12,597.3 v2.4 M35.12,770.1 v-2.4 M35.12,770.1 v1.6 M35.12,816.5 v-1.6 M38.88,597.3 v2.4 M38.88,770.1 v-2.4 M38.88,770.1 v1.6 M38.88,816.5 v-1.6 M42.64,597.3 v2.4 M42.64,770.1 v-2.4 M42.64,770.1 v1.6 M42.64,816.5 v-1.6 M46.4,597.3 v4.8 M46.4,770.1 v-4.8 M46.4,770.1 v2.2 M46.4,816.5 v-2.2 M50.16,597.3 v2.4 M50.16,770.1 v-2.4 M50.16,770.1 v1.6 M50.16,816.5 v-1.6 M53.92,597.3 v2.4 M53.92,770.1 v-2.4 M53.92,770.1 v1.6 M53.92,816.5 v-1.6 M57.68,597.3 v2.4 M57.68,770.1 v-2.4 M57.68,770.1 v1.6 M57.68,816.5 v-1.6 M61.44,597.3 v2.4 M61.44,770.1 v-2.4 M61.44,770.1 v1.6 M61.44,816.5 v-1.6 M65.2,597.3 v4.8 M65.2,770.1 v-4.8 M65.2,770.1 v2.2 M65.2,816.5 v-2.2 M68.96,597.3 v2.4 M68.96,770.1 v-2.4 M68.96,770.1 v1.6 M68.96,816.5 v-1.6 M72.72,597.3 v2.4 M72.72,770.1 v-2.4 M72.72,770.1 v1.6 M72.72,816.5 v-1.6 M76.48,597.3 v2.4 M76.48,770.1 v-2.4 M76.48,770.1 v1.6 M76.48,816.5 v-1.6 M80.24,597.3 v2.4 M80.24,770.1 v-2.4 M80.24,770.1 v1.6 M80.24,816.5 v-1.6 M84,597.3 v4.8 M84,770.1 v-4.8 M84,770.1 v2.2 M84,816.5 v-2.2 M87.76,597.3 v2.4 M87.76,770.1 v-2.4 M87.76,770.1 v1.6 M87.76,816.5 v-1.6 M91.52,597.3 v2.4 M91.52,770.1 v-2.4 M91.52,770.1 v1.6 M91.52,816.5 v-1.6 M95.28,597.3 v2.4 M95.28,770.1 v-2.4 M95.28,770.1 v1.6 M95.28,816.5 v-1.6 M99.04,597.3 v2.4 M99.04,770.1 v-2.4 M99.04,770.1 v1.6 M99.04,816.5 v-1.6 M102.8,597.3 v4.8 M102.8,770.1 v-4.8 M102.8,770.1 v2.2 M102.8,816.5 v-2.2 M106.56,597.3 v2.4 M106.56,770.1 v-2.4 M106.56,770.1 v1.6 M106.56,816.5 v-1.6 M110.32,597.3 v2.4 M110.32,770.1 v-2.4 M110.32,770.1 v1.6 M110.32,816.5 v-1.6 M114.08,597.3 v2.4 M114.08,770.1 v-2.4 M114.08,770.1 v1.6 M114.08,816.5 v-1.6 M117.84,597.3 v2.4 M117.84,770.1 v-2.4 M117.84,770.1 v1.6 M117.84,816.5 v-1.6 M121.6,597.3 v4.8 M121.6,770.1 v-4.8 M121.6,770.1 v2.2 M121.6,816.5 v-2.2 M125.36,597.3 v2.4 M125.36,770.1 v-2.4 M125.36,770.1 v1.6 M125.36,816.5 v-1.6 M129.12,597.3 v2.4 M129.12,770.1 v-2.4 M129.12,770.1 v1.6 M129.12,816.5 v-1.6 M132.88,597.3 v2.4 M132.88,770.1 v-2.4 M132.88,770.1 v1.6 M132.88,816.5 v-1.6 M136.64,597.3 v2.4 M136.64,770.1 v-2.4 M136.64,770.1 v1.6 M136.64,816.5 v-1.6 M140.4,597.3 v4.8 M140.4,770.1 v-4.8 M140.4,770.1 v2.2 M140.4,816.5 v-2.2 M144.16,597.3 v2.4 M144.16,770.1 v-2.4 M144.16,770.1 v1.6 M144.16,816.5 v-1.6 M147.92,597.3 v2.4 M147.92,770.1 v-2.4 M147.92,770.1 v1.6 M147.92,816.5 v-1.6 M151.68,597.3 v2.4 M151.68,770.1 v-2.4 M151.68,770.1 v1.6 M151.68,816.5 v-1.6 M155.44,597.3 v2.4 M155.44,770.1 v-2.4 M155.44,770.1 v1.6 M155.44,816.5 v-1.6 M159.2,597.3 v4.8 M159.2,770.1 v-4.8 M159.2,770.1 v2.2 M159.2,816.5 v-2.2 M162.96,597.3 v2.4 M162.96,770.1 v-2.4 M162.96,770.1 v1.6 M162.96,816.5 v-1.6 M166.72,597.3 v2.4 M166.72,770.1 v-2.4 M166.72,770.1 v1.6 M166.72,816.5 v-1.6 M170.48,597.3 v2.4 M170.48,770.1 v-2.4 M170.48,770.1 v1.6 M170.48,816.5 v-1.6 M174.24,597.3 v2.4 M174.24,770.1 v-2.4 M174.24,770.1 v1.6 M174.24,816.5 v-1.6 M178,597.3 v4.8 M178,770.1 v-4.8 M178,770.1 v2.2 M178,816.5 v-2.2 M181.76,597.3 v2.4 M181.76,770.1 v-2.4 M181.76,770.1 v1.6 M181.76,816.5 v-1.6 M185.52,597.3 v2.4 M185.52,770.1 v-2.4 M185.52,770.1 v1.6 M185.52,816.5 v-1.6 M189.28,597.3 v2.4 M189.28,770.1 v-2.4 M189.28,770.1 v1.6 M189.28,816.5 v-1.6 M193.04,597.3 v2.4 M193.04,770.1 v-2.4 M193.04,770.1 v1.6 M193.04,816.5 v-1.6 M196.8,597.3 v4.8 M196.8,770.1 v-4.8 M196.8,770.1 v2.2 M196.8,816.5 v-2.2 M200.56,597.3 v2.4 M200.56,770.1 v-2.4 M200.56,770.1 v1.6 M200.56,816.5 v-1.6 M204.32,597.3 v2.4 M204.32,770.1 v-2.4 M204.32,770.1 v1.6 M204.32,816.5 v-1.6 M208.08,597.3 v2.4 M208.08,770.1 v-2.4 M208.08,770.1 v1.6 M208.08,816.5 v-1.6 M211.84,597.3 v2.4 M211.84,770.1 v-2.4 M211.84,770.1 v1.6 M211.84,816.5 v-1.6 M215.6,597.3 v4.8 M215.6,770.1 v-4.8 M215.6,770.1 v2.2 M215.6,816.5 v-2.2 M27.6,816.5 h5 M215.6,816.5 h-5 M27.6,814.18 h2.5 M215.6,814.18 h-2.5 M27.6,811.86 h2.5 M215.6,811.86 h-2.5 M27.6,809.54 h2.5 M215.6,809.54 h-2.5 M27.6,807.22 h2.5 M215.6,807.22 h-2.5 M27.6,804.9 h5 M215.6,804.9 h-5 M27.6,802.58 h2.5 M215.6,802.58 h-2.5 M27.6,800.26 h2.5 M215.6,800.26 h-2.5 M27.6,797.94 h2.5 M215.6,797.94 h-2.5 M27.6,795.62 h2.5 M215.6,795.62 h-2.5 M27.6,793.3 h5 M215.6,793.3 h-5 M27.6,790.98 h2.5 M215.6,790.98 h-2.5 M27.6,788.66 h2.5 M215.6,788.66 h-2.5 M27.6,786.34 h2.5 M215.6,786.34 h-2.5 M27.6,784.02 h2.5 M215.6,784.02 h-2.5 M27.6,781.7 h5 M215.6,781.7 h-5 M27.6,779.38 h2.5 M215.6,779.38 h-2.5 M27.6,777.06 h2.5 M215.6,777.06 h-2.5 M27.6,774.74 h2.5 M215.6,774.74 h-2.5 M27.6,772.42 h2.5 M215.6,772.42 h-2.5 M27.6,770.1 h5 M215.6,770.1 h-5" stroke="#000" stroke-width="0.95" fill="none"/><text x="0" y="0" font-size="7" text-anchor="end" transform="translate(5.8 596.4) rotate(-90) scale(1 1.1)" >Events</text><text x="0" y="0" font-size="7" text-anchor="end" transform="translate(5.8 770.1) rotate(-90) scale(1 1.1)" >Data / Pred.</text><text x="0" y="0" font-size="7" text-anchor="end" transform="translate(215.6 835.9) scale(1 1.1)" ><tspan font-style="italic">t</tspan><tspan font-style="italic" dx="0.9">t&#x304;</tspan><tspan dx="0.5"> </tspan>+ ≥ 1<tspan font-style="italic">c</tspan> Discriminant</text><text x="0" y="0" font-size="7" text-anchor="start" transform="translate(36.9 609.3) scale(1 1.1)" ><tspan font-weight="bold" font-style="italic">ATLAS</tspan></text><text x="0" y="0" font-size="7" text-anchor="start" transform="translate(36.9 618.7) scale(1 1.1)" >√<tspan text-decoration="overline">s</tspan> = 13 TeV, 140 fb<tspan font-size="4.6" dy="-2.6">-1</tspan></text><text x="0" y="0" font-size="7" text-anchor="start" transform="translate(36.9 628.1) scale(1 1.1)" >Single-lepton</text><text x="0" y="0" font-size="7" text-anchor="start" transform="translate(36.9 637.5) scale(1 1.1)" ><tspan font-style="italic">t</tspan><tspan font-style="italic" dx="0.9">t&#x304;</tspan><tspan dx="0.5"> </tspan>+ ≥ 1<tspan font-style="italic">c</tspan> CR</text><text x="0" y="0" font-size="7" text-anchor="start" transform="translate(36.9 646.9) scale(1 1.1)" >Post-fit, μ = 0.81</text><circle cx="117" cy="607.5" r="1.9" fill="#000"/><line x1="117" y1="604.5" x2="117" y2="610.5" stroke="#000" stroke-width="0.7"/><text x="0" y="0" font-size="7" text-anchor="start" transform="translate(122.1 610) scale(1 1.1)" >Data</text><rect x="159.9" y="604.2" width="7" height="6.6" fill="#C81E00" stroke="#222" stroke-width="0.6"/><text x="0" y="0" font-size="7" text-anchor="start" transform="translate(168.5 610) scale(1 1.1)" ><tspan font-style="italic">t</tspan><tspan font-style="italic" dx="0.9">t&#x304;</tspan><tspan font-style="italic" dx="0.5">H</tspan></text><rect x="113.5" y="613.65" width="7" height="6.6" fill="#93DADF" stroke="#222" stroke-width="0.6"/><text x="0" y="0" font-size="7" text-anchor="start" transform="translate(122.1 619.45) scale(1 1.1)" ><tspan font-style="italic">t</tspan><tspan font-style="italic" dx="0.9">t&#x304;</tspan><tspan dx="0.5"> </tspan>+ ≥ 2<tspan font-style="italic">b</tspan></text><rect x="159.9" y="613.65" width="7" height="6.6" fill="#3E90DA" stroke="#222" stroke-width="0.6"/><text x="0" y="0" font-size="7" text-anchor="start" transform="translate(168.5 619.45) scale(1 1.1)" ><tspan font-style="italic">t</tspan><tspan font-style="italic" dx="0.9">t&#x304;</tspan><tspan dx="0.5"> </tspan>+ 1<tspan font-style="italic">b</tspan></text><rect x="113.5" y="623.1" width="7" height="6.6" fill="#8A2CBE" stroke="#222" stroke-width="0.6"/><text x="0" y="0" font-size="7" text-anchor="start" transform="translate(122.1 628.9) scale(1 1.1)" ><tspan font-style="italic">t</tspan><tspan font-style="italic" dx="0.9">t&#x304;</tspan><tspan dx="0.5"> </tspan>+ 1<tspan font-style="italic">B</tspan></text><rect x="159.9" y="623.1" width="7" height="6.6" fill="#95A5A3" stroke="#222" stroke-width="0.6"/><text x="0" y="0" font-size="7" text-anchor="start" transform="translate(168.5 628.9) scale(1 1.1)" ><tspan font-style="italic">t</tspan><tspan font-style="italic" dx="0.9">t&#x304;</tspan><tspan dx="0.5"> </tspan>+ ≥ 1<tspan font-style="italic">c</tspan></text><rect x="113.5" y="632.55" width="7" height="6.6" fill="#A86C5A" stroke="#222" stroke-width="0.6"/><text x="0" y="0" font-size="7" text-anchor="start" transform="translate(122.1 638.35) scale(1 1.1)" ><tspan font-style="italic">t</tspan><tspan font-style="italic" dx="0.9">t&#x304;</tspan><tspan dx="0.5"> </tspan>+ light</text><rect x="159.9" y="632.55" width="7" height="6.6" fill="#F06400" stroke="#222" stroke-width="0.6"/><text x="0" y="0" font-size="7" text-anchor="start" transform="translate(168.5 638.35) scale(1 1.1)" ><tspan font-style="italic">t</tspan><tspan font-style="italic" dx="0.9">t&#x304;</tspan><tspan font-style="italic" dx="0.5">Z</tspan></text><rect x="113.5" y="642" width="7" height="6.6" fill="#BEB478" stroke="#222" stroke-width="0.6"/><text x="0" y="0" font-size="7" text-anchor="start" transform="translate(122.1 647.8) scale(1 1.1)" ><tspan font-style="italic">tW</tspan></text><rect x="159.9" y="642" width="7" height="6.6" fill="#6E7382" stroke="#222" stroke-width="0.6"/><text x="0" y="0" font-size="7" text-anchor="start" transform="translate(168.5 647.8) scale(1 1.1)" ><tspan font-style="italic">W</tspan> + jets</text><rect x="113.5" y="651.45" width="7" height="6.6" fill="#FFAA0A" stroke="#222" stroke-width="0.6"/><text x="0" y="0" font-size="7" text-anchor="start" transform="translate(122.1 657.25) scale(1 1.1)" >Other</text><rect x="159.9" y="651.45" width="7" height="6.6" fill="url(#hat)"/><text x="0" y="0" font-size="7" text-anchor="start" transform="translate(168.5 657.25) scale(1 1.1)" >Uncertainty</text><text x="109.45" y="863.7" font-size="14.8" text-anchor="middle" style="font-family:'Liberation Serif',serif;stroke-width:0.15px">(f)</text></g>
<g><path d="M259.7,770.1 L259.7,733.7 L343.8,733.7 L343.8,723.8 L355.8,723.8 L355.8,719.7 L367.5,719.7 L367.5,715 L380.7,715 L380.7,708.4 L395.3,708.4 L395.3,701.1 L410.3,701.1 L410.3,688.7 L425.6,688.7 L425.6,671.5 L447.7,671.5 L447.7,770.1 Z" fill="#B01208"/><path d="M259.7,770.1 L259.7,733.7 L343.8,733.7 L343.8,723.8 L355.8,723.8 L355.8,719.7 L367.5,719.7 L367.5,715 L380.7,715 L380.7,708.4 L395.3,708.4 L395.3,701.1 L410.3,701.1 L410.3,688.7 L425.6,688.7 L425.6,671.5 L447.7,671.5 L447.7,770.1" fill="none" stroke="#500" stroke-width="0.4"/><path d="M259.7,770.1 L259.7,734.3 L343.8,734.3 L343.8,724.4 L355.8,724.4 L355.8,720.3 L367.5,720.3 L367.5,715.6 L380.7,715.6 L380.7,709 L395.3,709 L395.3,701.7 L410.3,701.7 L410.3,689.3 L425.6,689.3 L425.6,672.1 L447.7,672.1 L447.7,770.1 Z" fill="#93DADF"/><path d="M259.7,770.1 L259.7,734.3 L343.8,734.3 L343.8,724.4 L355.8,724.4 L355.8,720.3 L367.5,720.3 L367.5,715.6 L380.7,715.6 L380.7,709 L395.3,709 L395.3,701.7 L410.3,701.7 L410.3,689.3 L425.6,689.3 L425.6,672.1 L447.7,672.1 L447.7,770.1" fill="none" stroke="#000" stroke-width="0.7"/><path d="M259.7,770.1 L259.7,738 L343.8,738 L343.8,728.1 L355.8,728.1 L355.8,723.2 L367.5,723.2 L367.5,718.2 L380.7,718.2 L380.7,711.2 L395.3,711.2 L395.3,703.6 L410.3,703.6 L410.3,690.5 L425.6,690.5 L425.6,672.8 L447.7,672.8 L447.7,770.1 Z" fill="#3E90DA"/><path d="M259.7,770.1 L259.7,738 L343.8,738 L343.8,728.1 L355.8,728.1 L355.8,723.2 L367.5,723.2 L367.5,718.2 L380.7,718.2 L380.7,711.2 L395.3,711.2 L395.3,703.6 L410.3,703.6 L410.3,690.5 L425.6,690.5 L425.6,672.8 L447.7,672.8 L447.7,770.1" fill="none" stroke="#000" stroke-width="0.7"/><path d="M259.7,770.1 L259.7,743.4 L343.8,743.4 L343.8,733.2 L355.8,733.2 L355.8,728 L367.5,728 L367.5,723.2 L380.7,723.2 L380.7,715.1 L395.3,715.1 L395.3,707.1 L410.3,707.1 L410.3,693.2 L425.6,693.2 L425.6,674.3 L447.7,674.3 L447.7,770.1 Z" fill="#8A2CBE"/><path d="M259.7,770.1 L259.7,743.4 L343.8,743.4 L343.8,733.2 L355.8,733.2 L355.8,728 L367.5,728 L367.5,723.2 L380.7,723.2 L380.7,715.1 L395.3,715.1 L395.3,707.1 L410.3,707.1 L410.3,693.2 L425.6,693.2 L425.6,674.3 L447.7,674.3 L447.7,770.1" fill="none" stroke="#000" stroke-width="0.7"/><path d="M259.7,770.1 L259.7,744.6 L343.8,744.6 L343.8,734.6 L355.8,734.6 L355.8,729 L367.5,729 L367.5,723.9 L380.7,723.9 L380.7,716 L395.3,716 L395.3,707.8 L410.3,707.8 L410.3,694 L425.6,694 L425.6,674.7 L447.7,674.7 L447.7,770.1 Z" fill="#95A5A3"/><path d="M259.7,770.1 L259.7,744.6 L343.8,744.6 L343.8,734.6 L355.8,734.6 L355.8,729 L367.5,729 L367.5,723.9 L380.7,723.9 L380.7,716 L395.3,716 L395.3,707.8 L410.3,707.8 L410.3,694 L425.6,694 L425.6,674.7 L447.7,674.7 L447.7,770.1" fill="none" stroke="#000" stroke-width="0.7"/><path d="M259.7,770.1 L259.7,754.1 L343.8,754.1 L343.8,747.3 L355.8,747.3 L355.8,743.3 L367.5,743.3 L367.5,739.4 L380.7,739.4 L380.7,732.7 L395.3,732.7 L395.3,725.4 L410.3,725.4 L410.3,712.4 L425.6,712.4 L425.6,693.7 L447.7,693.7 L447.7,770.1 Z" fill="#A86C5A"/><path d="M259.7,770.1 L259.7,754.1 L343.8,754.1 L343.8,747.3 L355.8,747.3 L355.8,743.3 L367.5,743.3 L367.5,739.4 L380.7,739.4 L380.7,732.7 L395.3,732.7 L395.3,725.4 L410.3,725.4 L410.3,712.4 L425.6,712.4 L425.6,693.7 L447.7,693.7 L447.7,770.1" fill="none" stroke="#000" stroke-width="0.7"/><path d="M259.7,770.1 L259.7,766 L343.8,766 L343.8,766 L355.8,766 L355.8,766 L367.5,766 L367.5,766 L380.7,766 L380.7,766 L395.3,766 L395.3,766 L410.3,766 L410.3,766 L425.6,766 L425.6,766 L447.7,766 L447.7,770.1 Z" fill="#F06400"/><path d="M259.7,770.1 L259.7,766 L343.8,766 L343.8,766 L355.8,766 L355.8,766 L367.5,766 L367.5,766 L380.7,766 L380.7,766 L395.3,766 L395.3,766 L410.3,766 L410.3,766 L425.6,766 L425.6,766 L447.7,766 L447.7,770.1" fill="none" stroke="#000" stroke-width="0.7"/><path d="M259.7,770.1 L259.7,766.6 L343.8,766.6 L343.8,766.6 L355.8,766.6 L355.8,766.6 L367.5,766.6 L367.5,766.6 L380.7,766.6 L380.7,766.6 L395.3,766.6 L395.3,766.6 L410.3,766.6 L410.3,766.6 L425.6,766.6 L425.6,766.6 L447.7,766.6 L447.7,770.1 Z" fill="#BEB478"/><path d="M259.7,770.1 L259.7,766.6 L343.8,766.6 L343.8,766.6 L355.8,766.6 L355.8,766.6 L367.5,766.6 L367.5,766.6 L380.7,766.6 L380.7,766.6 L395.3,766.6 L395.3,766.6 L410.3,766.6 L410.3,766.6 L425.6,766.6 L425.6,766.6 L447.7,766.6 L447.7,770.1" fill="none" stroke="#000" stroke-width="0.7"/><path d="M259.7,770.1 L259.7,767.2 L343.8,767.2 L343.8,767.2 L355.8,767.2 L355.8,767.2 L367.5,767.2 L367.5,767.2 L380.7,767.2 L380.7,767.2 L395.3,767.2 L395.3,767.2 L410.3,767.2 L410.3,767.2 L425.6,767.2 L425.6,767.2 L447.7,767.2 L447.7,770.1 Z" fill="#6E7382"/><path d="M259.7,770.1 L259.7,767.2 L343.8,767.2 L343.8,767.2 L355.8,767.2 L355.8,767.2 L367.5,767.2 L367.5,767.2 L380.7,767.2 L380.7,767.2 L395.3,767.2 L395.3,767.2 L410.3,767.2 L410.3,767.2 L425.6,767.2 L425.6,767.2 L447.7,767.2 L447.7,770.1" fill="none" stroke="#000" stroke-width="0.7"/><path d="M259.7,770.1 L259.7,767.8 L343.8,767.8 L343.8,767.8 L355.8,767.8 L355.8,767.8 L367.5,767.8 L367.5,767.8 L380.7,767.8 L380.7,767.8 L395.3,767.8 L395.3,767.8 L410.3,767.8 L410.3,767.8 L425.6,767.8 L425.6,767.8 L447.7,767.8 L447.7,770.1 Z" fill="#FFAA0A"/><path d="M259.7,770.1 L259.7,767.8 L343.8,767.8 L343.8,767.8 L355.8,767.8 L355.8,767.8 L367.5,767.8 L367.5,767.8 L380.7,767.8 L380.7,767.8 L395.3,767.8 L395.3,767.8 L410.3,767.8 L410.3,767.8 L425.6,767.8 L425.6,767.8 L447.7,767.8 L447.7,770.1" fill="none" stroke="#000" stroke-width="0.7"/><rect x="259.7" y="732.9" width="84.1" height="1.6" fill="url(#hat2)"/><rect x="343.8" y="723" width="12" height="1.6" fill="url(#hat2)"/><rect x="355.8" y="718.9" width="11.7" height="1.6" fill="url(#hat2)"/><rect x="367.5" y="714.2" width="13.2" height="1.6" fill="url(#hat2)"/><rect x="380.7" y="707.6" width="14.6" height="1.6" fill="url(#hat2)"/><rect x="395.3" y="700.3" width="15" height="1.6" fill="url(#hat2)"/><rect x="410.3" y="687.9" width="15.3" height="1.6" fill="url(#hat2)"/><rect x="425.6" y="670.7" width="22.1" height="1.6" fill="url(#hat2)"/><circle cx="301.8" cy="735.1" r="1.9" fill="#000"/><circle cx="349.7" cy="724.9" r="1.9" fill="#000"/><circle cx="361.7" cy="720" r="1.9" fill="#000"/><circle cx="373.8" cy="714.1" r="1.9" fill="#000"/><circle cx="387.7" cy="708.7" r="1.9" fill="#000"/><circle cx="402.6" cy="701" r="1.9" fill="#000"/><circle cx="417.6" cy="688.6" r="1.9" fill="#000"/><circle cx="436.4" cy="671.8" r="1.9" fill="#000"/><rect x="259.7" y="791.9" width="84.1" height="3.4" fill="url(#hat)"/><rect x="343.8" y="791.9" width="12" height="3.4" fill="url(#hat)"/><rect x="355.8" y="791.9" width="11.7" height="3.4" fill="url(#hat)"/><rect x="367.5" y="791.9" width="13.2" height="3.4" fill="url(#hat)"/><rect x="380.7" y="791.9" width="14.6" height="3.4" fill="url(#hat)"/><rect x="395.3" y="791.9" width="15" height="3.4" fill="url(#hat)"/><rect x="410.3" y="791.9" width="15.3" height="3.4" fill="url(#hat)"/><rect x="425.6" y="791.9" width="22.1" height="3.4" fill="url(#hat)"/><line x1="259.7" y1="793.6" x2="447.7" y2="793.6" stroke="#000" stroke-width="0.6" stroke-dasharray="1.3,1.2"/><line x1="301.9" y1="796.5" x2="301.9" y2="803.5" stroke="#000" stroke-width="0.8"/><circle cx="301.9" cy="800" r="1.9" fill="#000"/><line x1="349.9" y1="793.9" x2="349.9" y2="800.9" stroke="#000" stroke-width="0.8"/><circle cx="349.9" cy="797.4" r="1.9" fill="#000"/><line x1="361.7" y1="790" x2="361.7" y2="797" stroke="#000" stroke-width="0.8"/><circle cx="361.7" cy="793.5" r="1.9" fill="#000"/><line x1="373.8" y1="784.1" x2="373.8" y2="791.1" stroke="#000" stroke-width="0.8"/><circle cx="373.8" cy="787.6" r="1.9" fill="#000"/><line x1="387.8" y1="790" x2="387.8" y2="797" stroke="#000" stroke-width="0.8"/><circle cx="387.8" cy="793.5" r="1.9" fill="#000"/><line x1="402.3" y1="789.1" x2="402.3" y2="796.1" stroke="#000" stroke-width="0.8"/><circle cx="402.3" cy="792.6" r="1.9" fill="#000"/><line x1="417.8" y1="789.1" x2="417.8" y2="796.1" stroke="#000" stroke-width="0.8"/><circle cx="417.8" cy="792.6" r="1.9" fill="#000"/><line x1="436.5" y1="790.5" x2="436.5" y2="797.5" stroke="#000" stroke-width="0.8"/><circle cx="436.5" cy="794" r="1.9" fill="#000"/><path d="M259.4,597.3 L447.7,597.3 L447.7,770.1" fill="none" stroke="#000" stroke-width="0.9"/><path d="M259.4,816.5 L447.7,816.5 L447.7,770.1" fill="none" stroke="#000" stroke-width="0.9"/><path d="M259.6,597.3 L259.6,816.5" fill="none" stroke="#000" stroke-width="0.55"/><text x="0" y="0" font-size="6.9" text-anchor="end" transform="translate(259 772.55) scale(1 1.1)" >0</text><text x="0" y="0" font-size="6.9" text-anchor="end" transform="translate(259 756.55) scale(1 1.1)" >2000</text><text x="0" y="0" font-size="6.9" text-anchor="end" transform="translate(259 740.55) scale(1 1.1)" >4000</text><text x="0" y="0" font-size="6.9" text-anchor="end" transform="translate(259 724.55) scale(1 1.1)" >6000</text><text x="0" y="0" font-size="6.9" text-anchor="end" transform="translate(259 708.55) scale(1 1.1)" >8000</text><text x="0" y="0" font-size="6.9" text-anchor="end" transform="translate(259 692.55) scale(1 1.1)" >10000</text><text x="0" y="0" font-size="6.9" text-anchor="end" transform="translate(259 676.55) scale(1 1.1)" >12000</text><text x="0" y="0" font-size="6.9" text-anchor="end" transform="translate(259 660.55) scale(1 1.1)" >14000</text><text x="0" y="0" font-size="6.9" text-anchor="end" transform="translate(259 644.55) scale(1 1.1)" >16000</text><text x="0" y="0" font-size="6.9" text-anchor="end" transform="translate(259 628.55) scale(1 1.1)" >18000</text><text x="0" y="0" font-size="6.9" text-anchor="end" transform="translate(259 612.55) scale(1 1.1)" >20000</text><text x="0" y="0" font-size="6.9" text-anchor="middle" transform="translate(259.7 824.5) scale(1 1.1)" >0</text><text x="0" y="0" font-size="6.9" text-anchor="middle" transform="translate(278.5 824.5) scale(1 1.1)" >0.1</text><text x="0" y="0" font-size="6.9" text-anchor="middle" transform="translate(297.3 824.5) scale(1 1.1)" >0.2</text><text x="0" y="0" font-size="6.9" text-anchor="middle" transform="translate(316.1 824.5) scale(1 1.1)" >0.3</text><text x="0" y="0" font-size="6.9" text-anchor="middle" transform="translate(334.9 824.5) scale(1 1.1)" >0.4</text><text x="0" y="0" font-size="6.9" text-anchor="middle" transform="translate(353.7 824.5) scale(1 1.1)" >0.5</text><text x="0" y="0" font-size="6.9" text-anchor="middle" transform="translate(372.5 824.5) scale(1 1.1)" >0.6</text><text x="0" y="0" font-size="6.9" text-anchor="middle" transform="translate(391.3 824.5) scale(1 1.1)" >0.7</text><text x="0" y="0" font-size="6.9" text-anchor="middle" transform="translate(410.1 824.5) scale(1 1.1)" >0.8</text><text x="0" y="0" font-size="6.9" text-anchor="middle" transform="translate(428.9 824.5) scale(1 1.1)" >0.9</text><text x="0" y="0" font-size="6.9" text-anchor="middle" transform="translate(447.7 824.5) scale(1 1.1)" >1</text><text x="0" y="0" font-size="6.9" text-anchor="end" transform="translate(259 818.95) scale(1 1.1)" >0.9</text><text x="0" y="0" font-size="6.9" text-anchor="end" transform="translate(259 807.35) scale(1 1.1)" >0.95</text><text x="0" y="0" font-size="6.9" text-anchor="end" transform="translate(259 795.75) scale(1 1.1)" >1</text><text x="0" y="0" font-size="6.9" text-anchor="end" transform="translate(259 784.15) scale(1 1.1)" >1.05</text><path d="M259.7,770.1 h6 M447.7,770.1 h-6 M259.7,766.1 h3 M447.7,766.1 h-3 M259.7,762.1 h3 M447.7,762.1 h-3 M259.7,758.1 h3 M447.7,758.1 h-3 M259.7,754.1 h6 M447.7,754.1 h-6 M259.7,750.1 h3 M447.7,750.1 h-3 M259.7,746.1 h3 M447.7,746.1 h-3 M259.7,742.1 h3 M447.7,742.1 h-3 M259.7,738.1 h6 M447.7,738.1 h-6 M259.7,734.1 h3 M447.7,734.1 h-3 M259.7,730.1 h3 M447.7,730.1 h-3 M259.7,726.1 h3 M447.7,726.1 h-3 M259.7,722.1 h6 M447.7,722.1 h-6 M259.7,718.1 h3 M447.7,718.1 h-3 M259.7,714.1 h3 M447.7,714.1 h-3 M259.7,710.1 h3 M447.7,710.1 h-3 M259.7,706.1 h6 M447.7,706.1 h-6 M259.7,702.1 h3 M447.7,702.1 h-3 M259.7,698.1 h3 M447.7,698.1 h-3 M259.7,694.1 h3 M447.7,694.1 h-3 M259.7,690.1 h6 M447.7,690.1 h-6 M259.7,686.1 h3 M447.7,686.1 h-3 M259.7,682.1 h3 M447.7,682.1 h-3 M259.7,678.1 h3 M447.7,678.1 h-3 M259.7,674.1 h6 M447.7,674.1 h-6 M259.7,670.1 h3 M447.7,670.1 h-3 M259.7,666.1 h3 M447.7,666.1 h-3 M259.7,662.1 h3 M447.7,662.1 h-3 M259.7,658.1 h6 M447.7,658.1 h-6 M259.7,654.1 h3 M447.7,654.1 h-3 M259.7,650.1 h3 M447.7,650.1 h-3 M259.7,646.1 h3 M447.7,646.1 h-3 M259.7,642.1 h6 M447.7,642.1 h-6 M259.7,638.1 h3 M447.7,638.1 h-3 M259.7,634.1 h3 M447.7,634.1 h-3 M259.7,630.1 h3 M447.7,630.1 h-3 M259.7,626.1 h6 M447.7,626.1 h-6 M259.7,622.1 h3 M447.7,622.1 h-3 M259.7,618.1 h3 M447.7,618.1 h-3 M259.7,614.1 h3 M447.7,614.1 h-3 M259.7,610.1 h6 M447.7,610.1 h-6 M259.7,606.1 h3 M447.7,606.1 h-3 M259.7,602.1 h3 M447.7,602.1 h-3 M259.7,598.1 h3 M447.7,598.1 h-3 M259.7,597.3 v4.8 M259.7,770.1 v-4.8 M259.7,770.1 v2.2 M259.7,816.5 v-2.2 M263.46,597.3 v2.4 M263.46,770.1 v-2.4 M263.46,770.1 v1.6 M263.46,816.5 v-1.6 M267.22,597.3 v2.4 M267.22,770.1 v-2.4 M267.22,770.1 v1.6 M267.22,816.5 v-1.6 M270.98,597.3 v2.4 M270.98,770.1 v-2.4 M270.98,770.1 v1.6 M270.98,816.5 v-1.6 M274.74,597.3 v2.4 M274.74,770.1 v-2.4 M274.74,770.1 v1.6 M274.74,816.5 v-1.6 M278.5,597.3 v4.8 M278.5,770.1 v-4.8 M278.5,770.1 v2.2 M278.5,816.5 v-2.2 M282.26,597.3 v2.4 M282.26,770.1 v-2.4 M282.26,770.1 v1.6 M282.26,816.5 v-1.6 M286.02,597.3 v2.4 M286.02,770.1 v-2.4 M286.02,770.1 v1.6 M286.02,816.5 v-1.6 M289.78,597.3 v2.4 M289.78,770.1 v-2.4 M289.78,770.1 v1.6 M289.78,816.5 v-1.6 M293.54,597.3 v2.4 M293.54,770.1 v-2.4 M293.54,770.1 v1.6 M293.54,816.5 v-1.6 M297.3,597.3 v4.8 M297.3,770.1 v-4.8 M297.3,770.1 v2.2 M297.3,816.5 v-2.2 M301.06,597.3 v2.4 M301.06,770.1 v-2.4 M301.06,770.1 v1.6 M301.06,816.5 v-1.6 M304.82,597.3 v2.4 M304.82,770.1 v-2.4 M304.82,770.1 v1.6 M304.82,816.5 v-1.6 M308.58,597.3 v2.4 M308.58,770.1 v-2.4 M308.58,770.1 v1.6 M308.58,816.5 v-1.6 M312.34,597.3 v2.4 M312.34,770.1 v-2.4 M312.34,770.1 v1.6 M312.34,816.5 v-1.6 M316.1,597.3 v4.8 M316.1,770.1 v-4.8 M316.1,770.1 v2.2 M316.1,816.5 v-2.2 M319.86,597.3 v2.4 M319.86,770.1 v-2.4 M319.86,770.1 v1.6 M319.86,816.5 v-1.6 M323.62,597.3 v2.4 M323.62,770.1 v-2.4 M323.62,770.1 v1.6 M323.62,816.5 v-1.6 M327.38,597.3 v2.4 M327.38,770.1 v-2.4 M327.38,770.1 v1.6 M327.38,816.5 v-1.6 M331.14,597.3 v2.4 M331.14,770.1 v-2.4 M331.14,770.1 v1.6 M331.14,816.5 v-1.6 M334.9,597.3 v4.8 M334.9,770.1 v-4.8 M334.9,770.1 v2.2 M334.9,816.5 v-2.2 M338.66,597.3 v2.4 M338.66,770.1 v-2.4 M338.66,770.1 v1.6 M338.66,816.5 v-1.6 M342.42,597.3 v2.4 M342.42,770.1 v-2.4 M342.42,770.1 v1.6 M342.42,816.5 v-1.6 M346.18,597.3 v2.4 M346.18,770.1 v-2.4 M346.18,770.1 v1.6 M346.18,816.5 v-1.6 M349.94,597.3 v2.4 M349.94,770.1 v-2.4 M349.94,770.1 v1.6 M349.94,816.5 v-1.6 M353.7,597.3 v4.8 M353.7,770.1 v-4.8 M353.7,770.1 v2.2 M353.7,816.5 v-2.2 M357.46,597.3 v2.4 M357.46,770.1 v-2.4 M357.46,770.1 v1.6 M357.46,816.5 v-1.6 M361.22,597.3 v2.4 M361.22,770.1 v-2.4 M361.22,770.1 v1.6 M361.22,816.5 v-1.6 M364.98,597.3 v2.4 M364.98,770.1 v-2.4 M364.98,770.1 v1.6 M364.98,816.5 v-1.6 M368.74,597.3 v2.4 M368.74,770.1 v-2.4 M368.74,770.1 v1.6 M368.74,816.5 v-1.6 M372.5,597.3 v4.8 M372.5,770.1 v-4.8 M372.5,770.1 v2.2 M372.5,816.5 v-2.2 M376.26,597.3 v2.4 M376.26,770.1 v-2.4 M376.26,770.1 v1.6 M376.26,816.5 v-1.6 M380.02,597.3 v2.4 M380.02,770.1 v-2.4 M380.02,770.1 v1.6 M380.02,816.5 v-1.6 M383.78,597.3 v2.4 M383.78,770.1 v-2.4 M383.78,770.1 v1.6 M383.78,816.5 v-1.6 M387.54,597.3 v2.4 M387.54,770.1 v-2.4 M387.54,770.1 v1.6 M387.54,816.5 v-1.6 M391.3,597.3 v4.8 M391.3,770.1 v-4.8 M391.3,770.1 v2.2 M391.3,816.5 v-2.2 M395.06,597.3 v2.4 M395.06,770.1 v-2.4 M395.06,770.1 v1.6 M395.06,816.5 v-1.6 M398.82,597.3 v2.4 M398.82,770.1 v-2.4 M398.82,770.1 v1.6 M398.82,816.5 v-1.6 M402.58,597.3 v2.4 M402.58,770.1 v-2.4 M402.58,770.1 v1.6 M402.58,816.5 v-1.6 M406.34,597.3 v2.4 M406.34,770.1 v-2.4 M406.34,770.1 v1.6 M406.34,816.5 v-1.6 M410.1,597.3 v4.8 M410.1,770.1 v-4.8 M410.1,770.1 v2.2 M410.1,816.5 v-2.2 M413.86,597.3 v2.4 M413.86,770.1 v-2.4 M413.86,770.1 v1.6 M413.86,816.5 v-1.6 M417.62,597.3 v2.4 M417.62,770.1 v-2.4 M417.62,770.1 v1.6 M417.62,816.5 v-1.6 M421.38,597.3 v2.4 M421.38,770.1 v-2.4 M421.38,770.1 v1.6 M421.38,816.5 v-1.6 M425.14,597.3 v2.4 M425.14,770.1 v-2.4 M425.14,770.1 v1.6 M425.14,816.5 v-1.6 M428.9,597.3 v4.8 M428.9,770.1 v-4.8 M428.9,770.1 v2.2 M428.9,816.5 v-2.2 M432.66,597.3 v2.4 M432.66,770.1 v-2.4 M432.66,770.1 v1.6 M432.66,816.5 v-1.6 M436.42,597.3 v2.4 M436.42,770.1 v-2.4 M436.42,770.1 v1.6 M436.42,816.5 v-1.6 M440.18,597.3 v2.4 M440.18,770.1 v-2.4 M440.18,770.1 v1.6 M440.18,816.5 v-1.6 M443.94,597.3 v2.4 M443.94,770.1 v-2.4 M443.94,770.1 v1.6 M443.94,816.5 v-1.6 M447.7,597.3 v4.8 M447.7,770.1 v-4.8 M447.7,770.1 v2.2 M447.7,816.5 v-2.2 M259.7,816.5 h5 M447.7,816.5 h-5 M259.7,814.18 h2.5 M447.7,814.18 h-2.5 M259.7,811.86 h2.5 M447.7,811.86 h-2.5 M259.7,809.54 h2.5 M447.7,809.54 h-2.5 M259.7,807.22 h2.5 M447.7,807.22 h-2.5 M259.7,804.9 h5 M447.7,804.9 h-5 M259.7,802.58 h2.5 M447.7,802.58 h-2.5 M259.7,800.26 h2.5 M447.7,800.26 h-2.5 M259.7,797.94 h2.5 M447.7,797.94 h-2.5 M259.7,795.62 h2.5 M447.7,795.62 h-2.5 M259.7,793.3 h5 M447.7,793.3 h-5 M259.7,790.98 h2.5 M447.7,790.98 h-2.5 M259.7,788.66 h2.5 M447.7,788.66 h-2.5 M259.7,786.34 h2.5 M447.7,786.34 h-2.5 M259.7,784.02 h2.5 M447.7,784.02 h-2.5 M259.7,781.7 h5 M447.7,781.7 h-5 M259.7,779.38 h2.5 M447.7,779.38 h-2.5 M259.7,777.06 h2.5 M447.7,777.06 h-2.5 M259.7,774.74 h2.5 M447.7,774.74 h-2.5 M259.7,772.42 h2.5 M447.7,772.42 h-2.5 M259.7,770.1 h5 M447.7,770.1 h-5" stroke="#000" stroke-width="0.95" fill="none"/><text x="0" y="0" font-size="7" text-anchor="end" transform="translate(237.9 596.4) rotate(-90) scale(1 1.1)" >Events</text><text x="0" y="0" font-size="7" text-anchor="end" transform="translate(237.9 770.1) rotate(-90) scale(1 1.1)" >Data / Pred.</text><text x="0" y="0" font-size="7" text-anchor="end" transform="translate(447.7 835.9) scale(1 1.1)" ><tspan font-style="italic">t</tspan><tspan font-style="italic" dx="0.9">t&#x304;</tspan><tspan dx="0.5"> </tspan>+ light Discriminant</text><text x="0" y="0" font-size="7" text-anchor="start" transform="translate(269 609.3) scale(1 1.1)" ><tspan font-weight="bold" font-style="italic">ATLAS</tspan></text><text x="0" y="0" font-size="7" text-anchor="start" transform="translate(269 618.7) scale(1 1.1)" >√<tspan text-decoration="overline">s</tspan> = 13 TeV, 140 fb<tspan font-size="4.6" dy="-2.6">-1</tspan></text><text x="0" y="0" font-size="7" text-anchor="start" transform="translate(269 628.1) scale(1 1.1)" >Single-lepton</text><text x="0" y="0" font-size="7" text-anchor="start" transform="translate(269 637.5) scale(1 1.1)" ><tspan font-style="italic">t</tspan><tspan font-style="italic" dx="0.9">t&#x304;</tspan><tspan dx="0.5"> </tspan>+ light CR</text><text x="0" y="0" font-size="7" text-anchor="start" transform="translate(269 646.9) scale(1 1.1)" >Post-fit, μ = 0.81</text><circle cx="349.1" cy="607.5" r="1.9" fill="#000"/><line x1="349.1" y1="604.5" x2="349.1" y2="610.5" stroke="#000" stroke-width="0.7"/><text x="0" y="0" font-size="7" text-anchor="start" transform="translate(354.2 610) scale(1 1.1)" >Data</text><rect x="392" y="604.2" width="7" height="6.6" fill="#C81E00" stroke="#222" stroke-width="0.6"/><text x="0" y="0" font-size="7" text-anchor="start" transform="translate(400.6 610) scale(1 1.1)" ><tspan font-style="italic">t</tspan><tspan font-style="italic" dx="0.9">t&#x304;</tspan><tspan font-style="italic" dx="0.5">H</tspan></text><rect x="345.6" y="613.65" width="7" height="6.6" fill="#93DADF" stroke="#222" stroke-width="0.6"/><text x="0" y="0" font-size="7" text-anchor="start" transform="translate(354.2 619.45) scale(1 1.1)" ><tspan font-style="italic">t</tspan><tspan font-style="italic" dx="0.9">t&#x304;</tspan><tspan dx="0.5"> </tspan>+ ≥ 2<tspan font-style="italic">b</tspan></text><rect x="392" y="613.65" width="7" height="6.6" fill="#3E90DA" stroke="#222" stroke-width="0.6"/><text x="0" y="0" font-size="7" text-anchor="start" transform="translate(400.6 619.45) scale(1 1.1)" ><tspan font-style="italic">t</tspan><tspan font-style="italic" dx="0.9">t&#x304;</tspan><tspan dx="0.5"> </tspan>+ 1<tspan font-style="italic">b</tspan></text><rect x="345.6" y="623.1" width="7" height="6.6" fill="#8A2CBE" stroke="#222" stroke-width="0.6"/><text x="0" y="0" font-size="7" text-anchor="start" transform="translate(354.2 628.9) scale(1 1.1)" ><tspan font-style="italic">t</tspan><tspan font-style="italic" dx="0.9">t&#x304;</tspan><tspan dx="0.5"> </tspan>+ 1<tspan font-style="italic">B</tspan></text><rect x="392" y="623.1" width="7" height="6.6" fill="#95A5A3" stroke="#222" stroke-width="0.6"/><text x="0" y="0" font-size="7" text-anchor="start" transform="translate(400.6 628.9) scale(1 1.1)" ><tspan font-style="italic">t</tspan><tspan font-style="italic" dx="0.9">t&#x304;</tspan><tspan dx="0.5"> </tspan>+ ≥ 1<tspan font-style="italic">c</tspan></text><rect x="345.6" y="632.55" width="7" height="6.6" fill="#A86C5A" stroke="#222" stroke-width="0.6"/><text x="0" y="0" font-size="7" text-anchor="start" transform="translate(354.2 638.35) scale(1 1.1)" ><tspan font-style="italic">t</tspan><tspan font-style="italic" dx="0.9">t&#x304;</tspan><tspan dx="0.5"> </tspan>+ light</text><rect x="392" y="632.55" width="7" height="6.6" fill="#F06400" stroke="#222" stroke-width="0.6"/><text x="0" y="0" font-size="7" text-anchor="start" transform="translate(400.6 638.35) scale(1 1.1)" ><tspan font-style="italic">t</tspan><tspan font-style="italic" dx="0.9">t&#x304;</tspan><tspan font-style="italic" dx="0.5">Z</tspan></text><rect x="345.6" y="642" width="7" height="6.6" fill="#BEB478" stroke="#222" stroke-width="0.6"/><text x="0" y="0" font-size="7" text-anchor="start" transform="translate(354.2 647.8) scale(1 1.1)" ><tspan font-style="italic">tW</tspan></text><rect x="392" y="642" width="7" height="6.6" fill="#6E7382" stroke="#222" stroke-width="0.6"/><text x="0" y="0" font-size="7" text-anchor="start" transform="translate(400.6 647.8) scale(1 1.1)" ><tspan font-style="italic">W</tspan> + jets</text><rect x="345.6" y="651.45" width="7" height="6.6" fill="#FFAA0A" stroke="#222" stroke-width="0.6"/><text x="0" y="0" font-size="7" text-anchor="start" transform="translate(354.2 657.25) scale(1 1.1)" >Other</text><rect x="392" y="651.45" width="7" height="6.6" fill="url(#hat)"/><text x="0" y="0" font-size="7" text-anchor="start" transform="translate(400.6 657.25) scale(1 1.1)" >Uncertainty</text><text x="341.55" y="863.7" font-size="14.8" text-anchor="middle" style="font-family:'Liberation Serif',serif;stroke-width:0.15px">(g)</text></g>
<g><path d="M491.6,770.1 L491.6,672.8 L562.1,672.8 L562.1,754.2 L679.6,754.2 L679.6,770.1 Z" fill="#B01208"/><path d="M491.6,770.1 L491.6,672.8 L562.1,672.8 L562.1,754.2 L679.6,754.2 L679.6,770.1" fill="none" stroke="#500" stroke-width="0.4"/><path d="M491.6,770.1 L491.6,674.4 L562.1,674.4 L562.1,754.6 L679.6,754.6 L679.6,770.1 Z" fill="#93DADF"/><path d="M491.6,770.1 L491.6,674.4 L562.1,674.4 L562.1,754.6 L679.6,754.6 L679.6,770.1" fill="none" stroke="#000" stroke-width="0.7"/><path d="M491.6,770.1 L491.6,706 L562.1,706 L562.1,759.4 L679.6,759.4 L679.6,770.1 Z" fill="#3E90DA"/><path d="M491.6,770.1 L491.6,706 L562.1,706 L562.1,759.4 L679.6,759.4 L679.6,770.1" fill="none" stroke="#000" stroke-width="0.7"/><path d="M491.6,770.1 L491.6,716.2 L562.1,716.2 L562.1,760.9 L679.6,760.9 L679.6,770.1 Z" fill="#8A2CBE"/><path d="M491.6,770.1 L491.6,716.2 L562.1,716.2 L562.1,760.9 L679.6,760.9 L679.6,770.1" fill="none" stroke="#000" stroke-width="0.7"/><path d="M491.6,770.1 L491.6,724.2 L562.1,724.2 L562.1,762.4 L679.6,762.4 L679.6,770.1 Z" fill="#95A5A3"/><path d="M491.6,770.1 L491.6,724.2 L562.1,724.2 L562.1,762.4 L679.6,762.4 L679.6,770.1" fill="none" stroke="#000" stroke-width="0.7"/><path d="M491.6,770.1 L491.6,751.5 L562.1,751.5 L562.1,766.3 L679.6,766.3 L679.6,770.1 Z" fill="#A86C5A"/><path d="M491.6,770.1 L491.6,751.5 L562.1,751.5 L562.1,766.3 L679.6,766.3 L679.6,770.1" fill="none" stroke="#000" stroke-width="0.7"/><path d="M491.6,770.1 L491.6,760.7 L562.1,760.7 L562.1,768.2 L679.6,768.2 L679.6,770.1 Z" fill="#F06400"/><path d="M491.6,770.1 L491.6,760.7 L562.1,760.7 L562.1,768.2 L679.6,768.2 L679.6,770.1" fill="none" stroke="#000" stroke-width="0.7"/><path d="M491.6,770.1 L491.6,762.2 L562.1,762.2 L562.1,768.6 L679.6,768.6 L679.6,770.1 Z" fill="#BEB478"/><path d="M491.6,770.1 L491.6,762.2 L562.1,762.2 L562.1,768.6 L679.6,768.6 L679.6,770.1" fill="none" stroke="#000" stroke-width="0.7"/><path d="M491.6,770.1 L491.6,764.3 L562.1,764.3 L562.1,769 L679.6,769 L679.6,770.1 Z" fill="#6E7382"/><path d="M491.6,770.1 L491.6,764.3 L562.1,764.3 L562.1,769 L679.6,769 L679.6,770.1" fill="none" stroke="#000" stroke-width="0.7"/><path d="M491.6,770.1 L491.6,766.4 L562.1,766.4 L562.1,769.3 L679.6,769.3 L679.6,770.1 Z" fill="#FFAA0A"/><path d="M491.6,770.1 L491.6,766.4 L562.1,766.4 L562.1,769.3 L679.6,769.3 L679.6,770.1" fill="none" stroke="#000" stroke-width="0.7"/><rect x="491.6" y="668.8" width="70.5" height="8" fill="url(#hat2)"/><rect x="562.1" y="752.9" width="117.5" height="2.6" fill="url(#hat2)"/><line x1="526.7" y1="668.9" x2="526.7" y2="677.9" stroke="#000" stroke-width="0.8"/><circle cx="526.7" cy="673.4" r="1.9" fill="#000"/><line x1="620.3" y1="753.2" x2="620.3" y2="757.2" stroke="#000" stroke-width="0.8"/><circle cx="620.3" cy="755.2" r="1.9" fill="#000"/><rect x="491.6" y="784.7" width="70.5" height="17.3" fill="url(#hat)"/><rect x="562.1" y="775.5" width="117.5" height="35.7" fill="url(#hat)"/><line x1="491.6" y1="793.6" x2="679.6" y2="793.6" stroke="#000" stroke-width="0.6" stroke-dasharray="1.3,1.2"/><line x1="526.8" y1="781.7" x2="526.8" y2="806.7" stroke="#000" stroke-width="0.8"/><circle cx="526.8" cy="794.2" r="1.9" fill="#000"/><line x1="620.3" y1="786.1" x2="620.3" y2="812" stroke="#000" stroke-width="0.8"/><path d="M618.5,811.6 L622.3,811.6 L620.4,816.2 Z" fill="none" stroke="#5A6AF0" stroke-width="1.0"/><path d="M491.3,597.3 L679.6,597.3 L679.6,770.1" fill="none" stroke="#000" stroke-width="0.9"/><path d="M491.3,816.5 L679.6,816.5 L679.6,770.1" fill="none" stroke="#000" stroke-width="0.9"/><path d="M491.5,597.3 L491.5,816.5" fill="none" stroke="#000" stroke-width="0.55"/><text x="0" y="0" font-size="6.9" text-anchor="end" transform="translate(490.9 772.55) scale(1 1.1)" >0</text><text x="0" y="0" font-size="6.9" text-anchor="end" transform="translate(490.9 746.52) scale(1 1.1)" >100</text><text x="0" y="0" font-size="6.9" text-anchor="end" transform="translate(490.9 720.49) scale(1 1.1)" >200</text><text x="0" y="0" font-size="6.9" text-anchor="end" transform="translate(490.9 694.46) scale(1 1.1)" >300</text><text x="0" y="0" font-size="6.9" text-anchor="end" transform="translate(490.9 668.43) scale(1 1.1)" >400</text><text x="0" y="0" font-size="6.9" text-anchor="end" transform="translate(490.9 642.4) scale(1 1.1)" >500</text><text x="0" y="0" font-size="6.9" text-anchor="end" transform="translate(490.9 616.37) scale(1 1.1)" >600</text><text x="0" y="0" font-size="6.9" text-anchor="middle" transform="translate(491.6 824.5) scale(1 1.1)" >300</text><text x="0" y="0" font-size="6.9" text-anchor="middle" transform="translate(515.1 824.5) scale(1 1.1)" >350</text><text x="0" y="0" font-size="6.9" text-anchor="middle" transform="translate(538.6 824.5) scale(1 1.1)" >400</text><text x="0" y="0" font-size="6.9" text-anchor="middle" transform="translate(562.1 824.5) scale(1 1.1)" >450</text><text x="0" y="0" font-size="6.9" text-anchor="middle" transform="translate(585.6 824.5) scale(1 1.1)" >500</text><text x="0" y="0" font-size="6.9" text-anchor="middle" transform="translate(609.1 824.5) scale(1 1.1)" >550</text><text x="0" y="0" font-size="6.9" text-anchor="middle" transform="translate(632.6 824.5) scale(1 1.1)" >600</text><text x="0" y="0" font-size="6.9" text-anchor="middle" transform="translate(656.1 824.5) scale(1 1.1)" >650</text><text x="0" y="0" font-size="6.9" text-anchor="middle" transform="translate(679.6 824.5) scale(1 1.1)" >700</text><text x="0" y="0" font-size="6.9" text-anchor="end" transform="translate(490.9 818.95) scale(1 1.1)" >0.9</text><text x="0" y="0" font-size="6.9" text-anchor="end" transform="translate(490.9 807.35) scale(1 1.1)" >0.95</text><text x="0" y="0" font-size="6.9" text-anchor="end" transform="translate(490.9 795.75) scale(1 1.1)" >1</text><text x="0" y="0" font-size="6.9" text-anchor="end" transform="translate(490.9 784.15) scale(1 1.1)" >1.05</text><path d="M491.6,770.1 h6 M679.6,770.1 h-6 M491.6,764.89 h3 M679.6,764.89 h-3 M491.6,759.69 h3 M679.6,759.69 h-3 M491.6,754.48 h3 M679.6,754.48 h-3 M491.6,749.28 h3 M679.6,749.28 h-3 M491.6,744.07 h6 M679.6,744.07 h-6 M491.6,738.86 h3 M679.6,738.86 h-3 M491.6,733.66 h3 M679.6,733.66 h-3 M491.6,728.45 h3 M679.6,728.45 h-3 M491.6,723.25 h3 M679.6,723.25 h-3 M491.6,718.04 h6 M679.6,718.04 h-6 M491.6,712.83 h3 M679.6,712.83 h-3 M491.6,707.63 h3 M679.6,707.63 h-3 M491.6,702.42 h3 M679.6,702.42 h-3 M491.6,697.22 h3 M679.6,697.22 h-3 M491.6,692.01 h6 M679.6,692.01 h-6 M491.6,686.8 h3 M679.6,686.8 h-3 M491.6,681.6 h3 M679.6,681.6 h-3 M491.6,676.39 h3 M679.6,676.39 h-3 M491.6,671.19 h3 M679.6,671.19 h-3 M491.6,665.98 h6 M679.6,665.98 h-6 M491.6,660.77 h3 M679.6,660.77 h-3 M491.6,655.57 h3 M679.6,655.57 h-3 M491.6,650.36 h3 M679.6,650.36 h-3 M491.6,645.16 h3 M679.6,645.16 h-3 M491.6,639.95 h6 M679.6,639.95 h-6 M491.6,634.74 h3 M679.6,634.74 h-3 M491.6,629.54 h3 M679.6,629.54 h-3 M491.6,624.33 h3 M679.6,624.33 h-3 M491.6,619.13 h3 M679.6,619.13 h-3 M491.6,613.92 h6 M679.6,613.92 h-6 M491.6,608.71 h3 M679.6,608.71 h-3 M491.6,603.51 h3 M679.6,603.51 h-3 M491.6,598.3 h3 M679.6,598.3 h-3 M491.6,597.3 v4.8 M491.6,770.1 v-4.8 M491.6,770.1 v2.2 M491.6,816.5 v-2.2 M496.3,597.3 v2.4 M496.3,770.1 v-2.4 M496.3,770.1 v1.6 M496.3,816.5 v-1.6 M501,597.3 v2.4 M501,770.1 v-2.4 M501,770.1 v1.6 M501,816.5 v-1.6 M505.7,597.3 v2.4 M505.7,770.1 v-2.4 M505.7,770.1 v1.6 M505.7,816.5 v-1.6 M510.4,597.3 v2.4 M510.4,770.1 v-2.4 M510.4,770.1 v1.6 M510.4,816.5 v-1.6 M515.1,597.3 v4.8 M515.1,770.1 v-4.8 M515.1,770.1 v2.2 M515.1,816.5 v-2.2 M519.8,597.3 v2.4 M519.8,770.1 v-2.4 M519.8,770.1 v1.6 M519.8,816.5 v-1.6 M524.5,597.3 v2.4 M524.5,770.1 v-2.4 M524.5,770.1 v1.6 M524.5,816.5 v-1.6 M529.2,597.3 v2.4 M529.2,770.1 v-2.4 M529.2,770.1 v1.6 M529.2,816.5 v-1.6 M533.9,597.3 v2.4 M533.9,770.1 v-2.4 M533.9,770.1 v1.6 M533.9,816.5 v-1.6 M538.6,597.3 v4.8 M538.6,770.1 v-4.8 M538.6,770.1 v2.2 M538.6,816.5 v-2.2 M543.3,597.3 v2.4 M543.3,770.1 v-2.4 M543.3,770.1 v1.6 M543.3,816.5 v-1.6 M548,597.3 v2.4 M548,770.1 v-2.4 M548,770.1 v1.6 M548,816.5 v-1.6 M552.7,597.3 v2.4 M552.7,770.1 v-2.4 M552.7,770.1 v1.6 M552.7,816.5 v-1.6 M557.4,597.3 v2.4 M557.4,770.1 v-2.4 M557.4,770.1 v1.6 M557.4,816.5 v-1.6 M562.1,597.3 v4.8 M562.1,770.1 v-4.8 M562.1,770.1 v2.2 M562.1,816.5 v-2.2 M566.8,597.3 v2.4 M566.8,770.1 v-2.4 M566.8,770.1 v1.6 M566.8,816.5 v-1.6 M571.5,597.3 v2.4 M571.5,770.1 v-2.4 M571.5,770.1 v1.6 M571.5,816.5 v-1.6 M576.2,597.3 v2.4 M576.2,770.1 v-2.4 M576.2,770.1 v1.6 M576.2,816.5 v-1.6 M580.9,597.3 v2.4 M580.9,770.1 v-2.4 M580.9,770.1 v1.6 M580.9,816.5 v-1.6 M585.6,597.3 v4.8 M585.6,770.1 v-4.8 M585.6,770.1 v2.2 M585.6,816.5 v-2.2 M590.3,597.3 v2.4 M590.3,770.1 v-2.4 M590.3,770.1 v1.6 M590.3,816.5 v-1.6 M595,597.3 v2.4 M595,770.1 v-2.4 M595,770.1 v1.6 M595,816.5 v-1.6 M599.7,597.3 v2.4 M599.7,770.1 v-2.4 M599.7,770.1 v1.6 M599.7,816.5 v-1.6 M604.4,597.3 v2.4 M604.4,770.1 v-2.4 M604.4,770.1 v1.6 M604.4,816.5 v-1.6 M609.1,597.3 v4.8 M609.1,770.1 v-4.8 M609.1,770.1 v2.2 M609.1,816.5 v-2.2 M613.8,597.3 v2.4 M613.8,770.1 v-2.4 M613.8,770.1 v1.6 M613.8,816.5 v-1.6 M618.5,597.3 v2.4 M618.5,770.1 v-2.4 M618.5,770.1 v1.6 M618.5,816.5 v-1.6 M623.2,597.3 v2.4 M623.2,770.1 v-2.4 M623.2,770.1 v1.6 M623.2,816.5 v-1.6 M627.9,597.3 v2.4 M627.9,770.1 v-2.4 M627.9,770.1 v1.6 M627.9,816.5 v-1.6 M632.6,597.3 v4.8 M632.6,770.1 v-4.8 M632.6,770.1 v2.2 M632.6,816.5 v-2.2 M637.3,597.3 v2.4 M637.3,770.1 v-2.4 M637.3,770.1 v1.6 M637.3,816.5 v-1.6 M642,597.3 v2.4 M642,770.1 v-2.4 M642,770.1 v1.6 M642,816.5 v-1.6 M646.7,597.3 v2.4 M646.7,770.1 v-2.4 M646.7,770.1 v1.6 M646.7,816.5 v-1.6 M651.4,597.3 v2.4 M651.4,770.1 v-2.4 M651.4,770.1 v1.6 M651.4,816.5 v-1.6 M656.1,597.3 v4.8 M656.1,770.1 v-4.8 M656.1,770.1 v2.2 M656.1,816.5 v-2.2 M660.8,597.3 v2.4 M660.8,770.1 v-2.4 M660.8,770.1 v1.6 M660.8,816.5 v-1.6 M665.5,597.3 v2.4 M665.5,770.1 v-2.4 M665.5,770.1 v1.6 M665.5,816.5 v-1.6 M670.2,597.3 v2.4 M670.2,770.1 v-2.4 M670.2,770.1 v1.6 M670.2,816.5 v-1.6 M674.9,597.3 v2.4 M674.9,770.1 v-2.4 M674.9,770.1 v1.6 M674.9,816.5 v-1.6 M679.6,597.3 v4.8 M679.6,770.1 v-4.8 M679.6,770.1 v2.2 M679.6,816.5 v-2.2 M491.6,816.5 h5 M679.6,816.5 h-5 M491.6,814.18 h2.5 M679.6,814.18 h-2.5 M491.6,811.86 h2.5 M679.6,811.86 h-2.5 M491.6,809.54 h2.5 M679.6,809.54 h-2.5 M491.6,807.22 h2.5 M679.6,807.22 h-2.5 M491.6,804.9 h5 M679.6,804.9 h-5 M491.6,802.58 h2.5 M679.6,802.58 h-2.5 M491.6,800.26 h2.5 M679.6,800.26 h-2.5 M491.6,797.94 h2.5 M679.6,797.94 h-2.5 M491.6,795.62 h2.5 M679.6,795.62 h-2.5 M491.6,793.3 h5 M679.6,793.3 h-5 M491.6,790.98 h2.5 M679.6,790.98 h-2.5 M491.6,788.66 h2.5 M679.6,788.66 h-2.5 M491.6,786.34 h2.5 M679.6,786.34 h-2.5 M491.6,784.02 h2.5 M679.6,784.02 h-2.5 M491.6,781.7 h5 M679.6,781.7 h-5 M491.6,779.38 h2.5 M679.6,779.38 h-2.5 M491.6,777.06 h2.5 M679.6,777.06 h-2.5 M491.6,774.74 h2.5 M679.6,774.74 h-2.5 M491.6,772.42 h2.5 M679.6,772.42 h-2.5 M491.6,770.1 h5 M679.6,770.1 h-5" stroke="#000" stroke-width="0.95" fill="none"/><text x="0" y="0" font-size="7" text-anchor="end" transform="translate(469.8 596.4) rotate(-90) scale(1 1.1)" >Events</text><text x="0" y="0" font-size="7" text-anchor="end" transform="translate(469.8 770.1) rotate(-90) scale(1 1.1)" >Data / Pred.</text><text x="0" y="0" font-size="7" text-anchor="end" transform="translate(679.6 834.4) scale(1 1.1)" letter-spacing="0.06">Boosted reco Higgs <tspan font-style="italic">p</tspan><tspan font-size="4.5" dy="2.2">T</tspan><tspan dy="-2.2"> [GeV]</tspan></text><text x="0" y="0" font-size="7" text-anchor="start" transform="translate(500.9 609.3) scale(1 1.1)" ><tspan font-weight="bold" font-style="italic">ATLAS</tspan></text><text x="0" y="0" font-size="7" text-anchor="start" transform="translate(500.9 618.7) scale(1 1.1)" >√<tspan text-decoration="overline">s</tspan> = 13 TeV, 140 fb<tspan font-size="4.6" dy="-2.6">-1</tspan></text><text x="0" y="0" font-size="7" text-anchor="start" transform="translate(500.9 628.1) scale(1 1.1)" >Single-lepton</text><text x="0" y="0" font-size="7" text-anchor="start" transform="translate(500.9 637.5) scale(1 1.1)" >Boosted CR</text><text x="0" y="0" font-size="7" text-anchor="start" transform="translate(500.9 646.9) scale(1 1.1)" >Post-fit, μ = 0.81</text><circle cx="581" cy="607.5" r="1.9" fill="#000"/><line x1="581" y1="604.5" x2="581" y2="610.5" stroke="#000" stroke-width="0.7"/><text x="0" y="0" font-size="7" text-anchor="start" transform="translate(586.1 610) scale(1 1.1)" >Data</text><rect x="623.9" y="604.2" width="7" height="6.6" fill="#C81E00" stroke="#222" stroke-width="0.6"/><text x="0" y="0" font-size="7" text-anchor="start" transform="translate(632.5 610) scale(1 1.1)" ><tspan font-style="italic">t</tspan><tspan font-style="italic" dx="0.9">t&#x304;</tspan><tspan font-style="italic" dx="0.5">H</tspan></text><rect x="577.5" y="613.65" width="7" height="6.6" fill="#93DADF" stroke="#222" stroke-width="0.6"/><text x="0" y="0" font-size="7" text-anchor="start" transform="translate(586.1 619.45) scale(1 1.1)" ><tspan font-style="italic">t</tspan><tspan font-style="italic" dx="0.9">t&#x304;</tspan><tspan dx="0.5"> </tspan>+ ≥ 2<tspan font-style="italic">b</tspan></text><rect x="623.9" y="613.65" width="7" height="6.6" fill="#3E90DA" stroke="#222" stroke-width="0.6"/><text x="0" y="0" font-size="7" text-anchor="start" transform="translate(632.5 619.45) scale(1 1.1)" ><tspan font-style="italic">t</tspan><tspan font-style="italic" dx="0.9">t&#x304;</tspan><tspan dx="0.5"> </tspan>+ 1<tspan font-style="italic">b</tspan></text><rect x="577.5" y="623.1" width="7" height="6.6" fill="#8A2CBE" stroke="#222" stroke-width="0.6"/><text x="0" y="0" font-size="7" text-anchor="start" transform="translate(586.1 628.9) scale(1 1.1)" ><tspan font-style="italic">t</tspan><tspan font-style="italic" dx="0.9">t&#x304;</tspan><tspan dx="0.5"> </tspan>+ 1<tspan font-style="italic">B</tspan></text><rect x="623.9" y="623.1" width="7" height="6.6" fill="#95A5A3" stroke="#222" stroke-width="0.6"/><text x="0" y="0" font-size="7" text-anchor="start" transform="translate(632.5 628.9) scale(1 1.1)" ><tspan font-style="italic">t</tspan><tspan font-style="italic" dx="0.9">t&#x304;</tspan><tspan dx="0.5"> </tspan>+ ≥ 1<tspan font-style="italic">c</tspan></text><rect x="577.5" y="632.55" width="7" height="6.6" fill="#A86C5A" stroke="#222" stroke-width="0.6"/><text x="0" y="0" font-size="7" text-anchor="start" transform="translate(586.1 638.35) scale(1 1.1)" ><tspan font-style="italic">t</tspan><tspan font-style="italic" dx="0.9">t&#x304;</tspan><tspan dx="0.5"> </tspan>+ light</text><rect x="623.9" y="632.55" width="7" height="6.6" fill="#F06400" stroke="#222" stroke-width="0.6"/><text x="0" y="0" font-size="7" text-anchor="start" transform="translate(632.5 638.35) scale(1 1.1)" ><tspan font-style="italic">t</tspan><tspan font-style="italic" dx="0.9">t&#x304;</tspan><tspan font-style="italic" dx="0.5">Z</tspan></text><rect x="577.5" y="642" width="7" height="6.6" fill="#BEB478" stroke="#222" stroke-width="0.6"/><text x="0" y="0" font-size="7" text-anchor="start" transform="translate(586.1 647.8) scale(1 1.1)" ><tspan font-style="italic">tW</tspan></text><rect x="623.9" y="642" width="7" height="6.6" fill="#6E7382" stroke="#222" stroke-width="0.6"/><text x="0" y="0" font-size="7" text-anchor="start" transform="translate(632.5 647.8) scale(1 1.1)" ><tspan font-style="italic">W</tspan> + jets</text><rect x="577.5" y="651.45" width="7" height="6.6" fill="#FFAA0A" stroke="#222" stroke-width="0.6"/><text x="0" y="0" font-size="7" text-anchor="start" transform="translate(586.1 657.25) scale(1 1.1)" >Other</text><rect x="623.9" y="651.45" width="7" height="6.6" fill="url(#hat)"/><text x="0" y="0" font-size="7" text-anchor="start" transform="translate(632.5 657.25) scale(1 1.1)" >Uncertainty</text><text x="573.45" y="863.7" font-size="14.8" text-anchor="middle" style="font-family:'Liberation Serif',serif;stroke-width:0.15px">(h)</text></g>
</svg></body></html>
